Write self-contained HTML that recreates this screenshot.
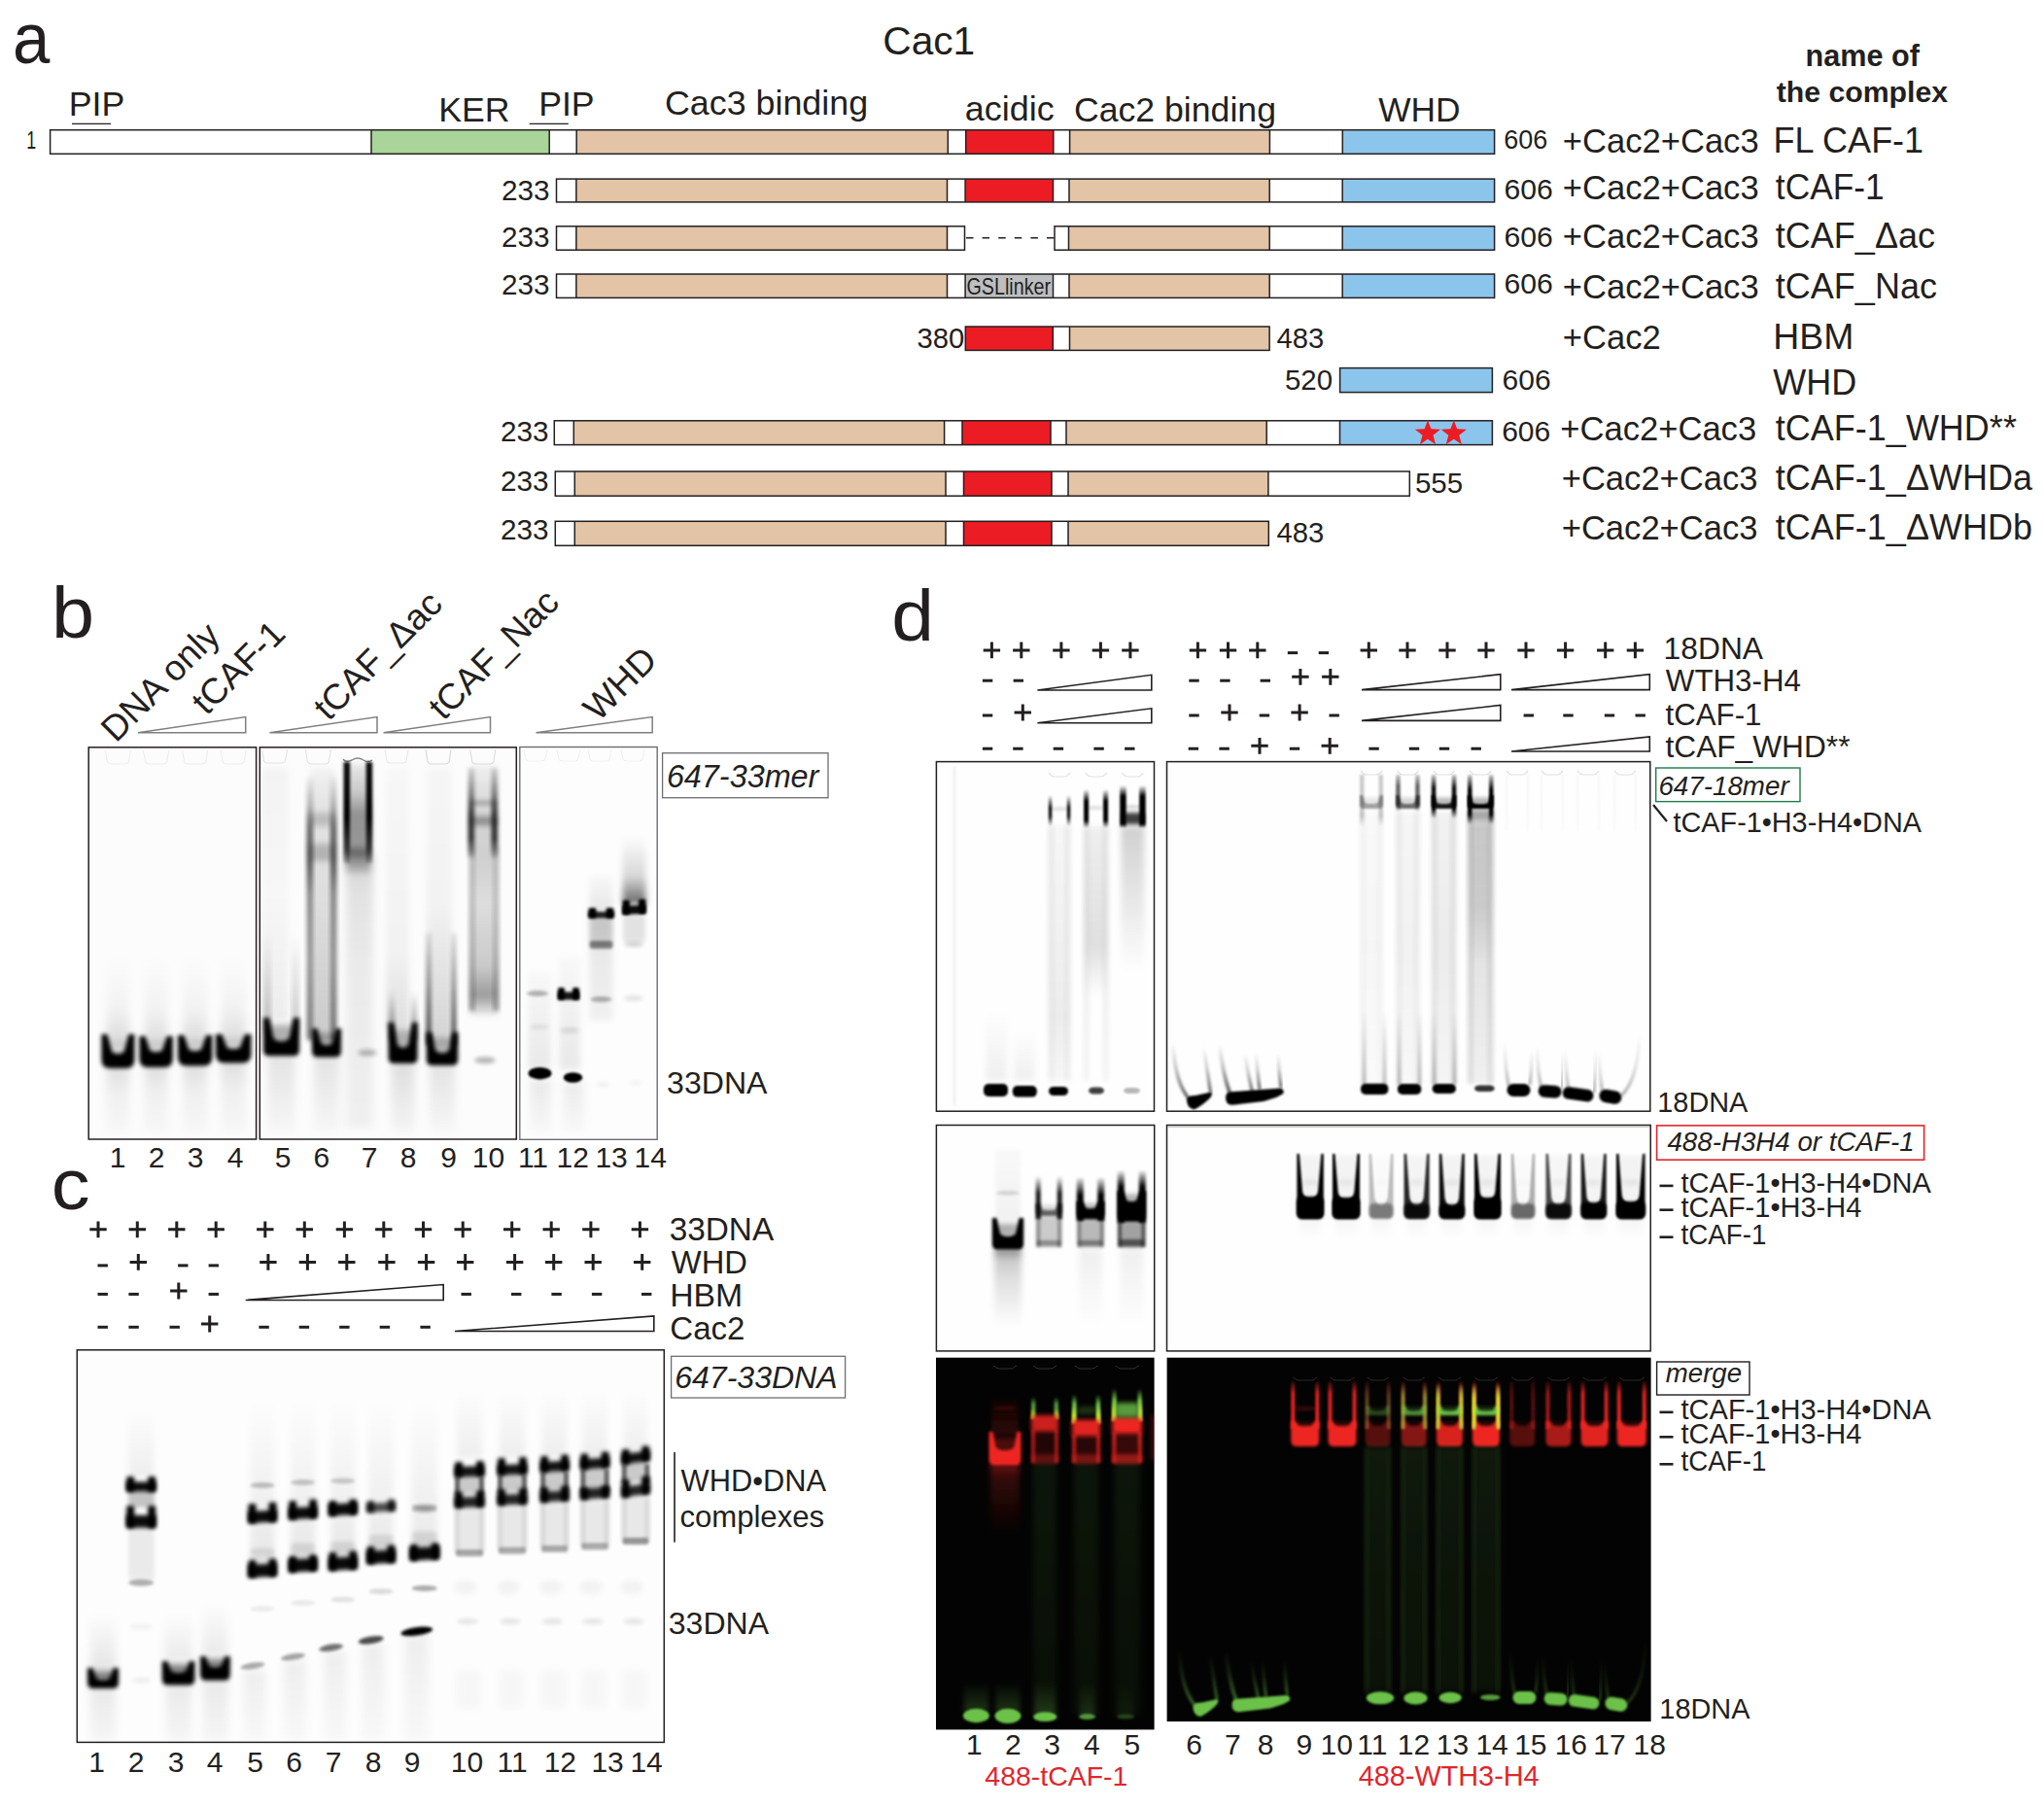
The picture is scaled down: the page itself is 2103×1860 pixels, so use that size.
<!DOCTYPE html>
<html><head><meta charset="utf-8"><style>
html,body{margin:0;padding:0;background:#fff;overflow:hidden;width:2103px;height:1860px;}
svg{display:block;}
text{font-family:"Liberation Sans",sans-serif;}
</style></head><body>
<svg width="2103" height="1860" viewBox="0 0 2103 1860" fill="#231f20">
<defs><filter id="f0_6" x="-60%" y="-60%" width="220%" height="220%"><feGaussianBlur stdDeviation="0.6"/></filter>
<filter id="f0_9" x="-60%" y="-60%" width="220%" height="220%"><feGaussianBlur stdDeviation="0.9"/></filter>
<filter id="f1_2" x="-60%" y="-60%" width="220%" height="220%"><feGaussianBlur stdDeviation="1.2"/></filter>
<filter id="f1_6" x="-60%" y="-60%" width="220%" height="220%"><feGaussianBlur stdDeviation="1.6"/></filter>
<filter id="f2" x="-60%" y="-60%" width="220%" height="220%"><feGaussianBlur stdDeviation="2"/></filter>
<filter id="f2_5" x="-60%" y="-60%" width="220%" height="220%"><feGaussianBlur stdDeviation="2.5"/></filter>
<filter id="f3" x="-60%" y="-60%" width="220%" height="220%"><feGaussianBlur stdDeviation="3"/></filter>
<filter id="f4" x="-60%" y="-60%" width="220%" height="220%"><feGaussianBlur stdDeviation="4"/></filter>
<filter id="f5" x="-60%" y="-60%" width="220%" height="220%"><feGaussianBlur stdDeviation="5"/></filter>
<filter id="f6" x="-60%" y="-60%" width="220%" height="220%"><feGaussianBlur stdDeviation="6"/></filter>
<filter id="f8" x="-60%" y="-60%" width="220%" height="220%"><feGaussianBlur stdDeviation="8"/></filter>
<clipPath id="c1"><rect x="91.2" y="768.8" width="172.40000000000003" height="403.20000000000005"/></clipPath>
<linearGradient id="g2" x1="0" y1="0" x2="0" y2="1"><stop offset="0" stop-color="#000" stop-opacity="0"/><stop offset="0.6" stop-color="#000" stop-opacity="0.04"/><stop offset="1" stop-color="#000" stop-opacity="0.13"/></linearGradient>
<linearGradient id="g3" x1="0" y1="0" x2="0" y2="1"><stop offset="0" stop-color="#000" stop-opacity="0.12"/><stop offset="0.4" stop-color="#000" stop-opacity="0.05"/><stop offset="1" stop-color="#000" stop-opacity="0.02"/></linearGradient>
<linearGradient id="g4" x1="0" y1="0" x2="0" y2="1"><stop offset="0" stop-color="#000" stop-opacity="0"/><stop offset="0.6" stop-color="#000" stop-opacity="0.04"/><stop offset="1" stop-color="#000" stop-opacity="0.13"/></linearGradient>
<linearGradient id="g5" x1="0" y1="0" x2="0" y2="1"><stop offset="0" stop-color="#000" stop-opacity="0.12"/><stop offset="0.4" stop-color="#000" stop-opacity="0.05"/><stop offset="1" stop-color="#000" stop-opacity="0.02"/></linearGradient>
<linearGradient id="g6" x1="0" y1="0" x2="0" y2="1"><stop offset="0" stop-color="#000" stop-opacity="0"/><stop offset="0.6" stop-color="#000" stop-opacity="0.04"/><stop offset="1" stop-color="#000" stop-opacity="0.13"/></linearGradient>
<linearGradient id="g7" x1="0" y1="0" x2="0" y2="1"><stop offset="0" stop-color="#000" stop-opacity="0.12"/><stop offset="0.4" stop-color="#000" stop-opacity="0.05"/><stop offset="1" stop-color="#000" stop-opacity="0.02"/></linearGradient>
<linearGradient id="g8" x1="0" y1="0" x2="0" y2="1"><stop offset="0" stop-color="#000" stop-opacity="0"/><stop offset="0.6" stop-color="#000" stop-opacity="0.04"/><stop offset="1" stop-color="#000" stop-opacity="0.13"/></linearGradient>
<linearGradient id="g9" x1="0" y1="0" x2="0" y2="1"><stop offset="0" stop-color="#000" stop-opacity="0.12"/><stop offset="0.4" stop-color="#000" stop-opacity="0.05"/><stop offset="1" stop-color="#000" stop-opacity="0.02"/></linearGradient>
<clipPath id="c10"><rect x="267.3" y="768.8" width="263.99999999999994" height="403.20000000000005"/></clipPath>
<linearGradient id="g11" x1="0" y1="0" x2="0" y2="1"><stop offset="0" stop-color="#000" stop-opacity="0.035"/><stop offset="0.5" stop-color="#000" stop-opacity="0.02"/><stop offset="1" stop-color="#000" stop-opacity="0.06"/></linearGradient>
<linearGradient id="g12" x1="0" y1="0" x2="0" y2="1"><stop offset="0" stop-color="#000" stop-opacity="0"/><stop offset="1" stop-color="#000" stop-opacity="0.35"/></linearGradient>
<linearGradient id="g13" x1="0" y1="0" x2="0" y2="1"><stop offset="0" stop-color="#000" stop-opacity="0.1"/><stop offset="1" stop-color="#000" stop-opacity="0.02"/></linearGradient>
<linearGradient id="g14" x1="0" y1="0" x2="0" y2="1"><stop offset="0" stop-color="#000" stop-opacity="0.04"/><stop offset="0.15" stop-color="#000" stop-opacity="0.1"/><stop offset="0.5" stop-color="#000" stop-opacity="0.12"/><stop offset="1" stop-color="#000" stop-opacity="0.2"/></linearGradient>
<linearGradient id="g15" x1="0" y1="0" x2="0" y2="1"><stop offset="0" stop-color="#000" stop-opacity="0.05"/><stop offset="0.12" stop-color="#000" stop-opacity="0.35"/><stop offset="0.2" stop-color="#000" stop-opacity="0.7"/><stop offset="0.33" stop-color="#000" stop-opacity="0.75"/><stop offset="0.45" stop-color="#000" stop-opacity="0.5"/><stop offset="0.7" stop-color="#000" stop-opacity="0.42"/><stop offset="1" stop-color="#000" stop-opacity="0.55"/></linearGradient>
<linearGradient id="g16" x1="0" y1="0" x2="0" y2="1"><stop offset="0" stop-color="#000" stop-opacity="0.1"/><stop offset="1" stop-color="#000" stop-opacity="0.02"/></linearGradient>
<linearGradient id="g17" x1="0" y1="0" x2="0" y2="1"><stop offset="0" stop-color="#000" stop-opacity="0.08"/><stop offset="0.25" stop-color="#000" stop-opacity="0.2"/><stop offset="0.45" stop-color="#000" stop-opacity="0.42"/><stop offset="0.75" stop-color="#000" stop-opacity="0.4"/><stop offset="0.9" stop-color="#000" stop-opacity="0.3"/><stop offset="1" stop-color="#000" stop-opacity="0.05"/></linearGradient>
<linearGradient id="g18" x1="0" y1="0" x2="0" y2="1"><stop offset="0" stop-color="#000" stop-opacity="0.95"/><stop offset="0.55" stop-color="#000" stop-opacity="1"/><stop offset="0.85" stop-color="#000" stop-opacity="0.7"/><stop offset="1" stop-color="#000" stop-opacity="0.2"/></linearGradient>
<linearGradient id="g19" x1="0" y1="0" x2="0" y2="1"><stop offset="0" stop-color="#000" stop-opacity="0.16"/><stop offset="0.15" stop-color="#000" stop-opacity="0.1"/><stop offset="0.4" stop-color="#000" stop-opacity="0.07"/><stop offset="1" stop-color="#000" stop-opacity="0.05"/></linearGradient>
<linearGradient id="g20" x1="0" y1="0" x2="0" y2="1"><stop offset="0" stop-color="#000" stop-opacity="0.02"/><stop offset="0.7" stop-color="#000" stop-opacity="0.04"/><stop offset="1" stop-color="#000" stop-opacity="0.12"/></linearGradient>
<linearGradient id="g21" x1="0" y1="0" x2="0" y2="1"><stop offset="0" stop-color="#000" stop-opacity="0"/><stop offset="1" stop-color="#000" stop-opacity="0.6"/></linearGradient>
<linearGradient id="g22" x1="0" y1="0" x2="0" y2="1"><stop offset="0" stop-color="#000" stop-opacity="0.12"/><stop offset="1" stop-color="#000" stop-opacity="0.03"/></linearGradient>
<linearGradient id="g23" x1="0" y1="0" x2="0" y2="1"><stop offset="0" stop-color="#000" stop-opacity="0.025"/><stop offset="0.5" stop-color="#000" stop-opacity="0.04"/><stop offset="1" stop-color="#000" stop-opacity="0.16"/></linearGradient>
<linearGradient id="g24" x1="0" y1="0" x2="0" y2="1"><stop offset="0" stop-color="#000" stop-opacity="0.1"/><stop offset="1" stop-color="#000" stop-opacity="0.75"/></linearGradient>
<linearGradient id="g25" x1="0" y1="0" x2="0" y2="1"><stop offset="0" stop-color="#000" stop-opacity="0.1"/><stop offset="1" stop-color="#000" stop-opacity="0.02"/></linearGradient>
<linearGradient id="g26" x1="0" y1="0" x2="0" y2="1"><stop offset="0" stop-color="#000" stop-opacity="0.05"/><stop offset="0.15" stop-color="#000" stop-opacity="0.14"/><stop offset="0.35" stop-color="#000" stop-opacity="0.18"/><stop offset="0.55" stop-color="#000" stop-opacity="0.12"/><stop offset="0.8" stop-color="#000" stop-opacity="0.2"/><stop offset="0.92" stop-color="#000" stop-opacity="0.38"/><stop offset="1" stop-color="#000" stop-opacity="0.05"/></linearGradient>
<linearGradient id="g27" x1="0" y1="0" x2="0" y2="1"><stop offset="0" stop-color="#000" stop-opacity="0.2"/><stop offset="0.6" stop-color="#000" stop-opacity="0.25"/><stop offset="1" stop-color="#000" stop-opacity="0.4"/></linearGradient>
<linearGradient id="g28" x1="0" y1="0" x2="0" y2="1"><stop offset="0" stop-color="#000" stop-opacity="0.15"/><stop offset="0.3" stop-color="#000" stop-opacity="0.5"/><stop offset="0.5" stop-color="#000" stop-opacity="0.8"/><stop offset="0.8" stop-color="#000" stop-opacity="0.85"/><stop offset="1" stop-color="#000" stop-opacity="0.2"/></linearGradient>
<clipPath id="c29"><rect x="534.8" y="768.5" width="141.4000000000001" height="403.79999999999995"/></clipPath>
<linearGradient id="g30" x1="0" y1="0" x2="0" y2="1"><stop offset="0" stop-color="#000" stop-opacity="0.02"/><stop offset="1" stop-color="#000" stop-opacity="0.08"/></linearGradient>
<linearGradient id="g31" x1="0" y1="0" x2="0" y2="1"><stop offset="0" stop-color="#000" stop-opacity="0.08"/><stop offset="1" stop-color="#000" stop-opacity="0.02"/></linearGradient>
<linearGradient id="g32" x1="0" y1="0" x2="0" y2="1"><stop offset="0" stop-color="#000" stop-opacity="0.02"/><stop offset="1" stop-color="#000" stop-opacity="0.08"/></linearGradient>
<linearGradient id="g33" x1="0" y1="0" x2="0" y2="1"><stop offset="0" stop-color="#000" stop-opacity="0.07"/><stop offset="1" stop-color="#000" stop-opacity="0.02"/></linearGradient>
<linearGradient id="g34" x1="0" y1="0" x2="0" y2="1"><stop offset="0" stop-color="#000" stop-opacity="0.02"/><stop offset="0.3" stop-color="#000" stop-opacity="0.1"/><stop offset="0.5" stop-color="#000" stop-opacity="0.08"/><stop offset="1" stop-color="#000" stop-opacity="0.05"/></linearGradient>
<linearGradient id="g35" x1="0" y1="0" x2="0" y2="1"><stop offset="0" stop-color="#000" stop-opacity="0"/><stop offset="0.6" stop-color="#000" stop-opacity="0.15"/><stop offset="1" stop-color="#000" stop-opacity="0.6"/></linearGradient>
<clipPath id="c36"><rect x="79.3" y="1388.8" width="604.0" height="403.60000000000014"/></clipPath>
<linearGradient id="g37" x1="0" y1="0" x2="0" y2="1"><stop offset="0" stop-color="#000" stop-opacity="0"/><stop offset="1" stop-color="#000" stop-opacity="0.1"/></linearGradient>
<linearGradient id="g38" x1="0" y1="0" x2="0" y2="1"><stop offset="0" stop-color="#000" stop-opacity="0.08"/><stop offset="1" stop-color="#000" stop-opacity="0.03"/></linearGradient>
<linearGradient id="g39" x1="0" y1="0" x2="0" y2="1"><stop offset="0" stop-color="#000" stop-opacity="0"/><stop offset="1" stop-color="#000" stop-opacity="0.06"/></linearGradient>
<linearGradient id="g40" x1="0" y1="0" x2="0" y2="1"><stop offset="0" stop-color="#000" stop-opacity="0"/><stop offset="1" stop-color="#000" stop-opacity="0.08"/></linearGradient>
<linearGradient id="g41" x1="0" y1="0" x2="0" y2="1"><stop offset="0" stop-color="#000" stop-opacity="0.08"/><stop offset="1" stop-color="#000" stop-opacity="0.03"/></linearGradient>
<linearGradient id="g42" x1="0" y1="0" x2="0" y2="1"><stop offset="0" stop-color="#000" stop-opacity="0"/><stop offset="1" stop-color="#000" stop-opacity="0.08"/></linearGradient>
<linearGradient id="g43" x1="0" y1="0" x2="0" y2="1"><stop offset="0" stop-color="#000" stop-opacity="0.08"/><stop offset="1" stop-color="#000" stop-opacity="0.03"/></linearGradient>
<linearGradient id="g44" x1="0" y1="0" x2="0" y2="1"><stop offset="0" stop-color="#000" stop-opacity="0"/><stop offset="0.5" stop-color="#000" stop-opacity="0.04"/><stop offset="1" stop-color="#000" stop-opacity="0.08"/></linearGradient>
<linearGradient id="g45" x1="0" y1="0" x2="0" y2="1"><stop offset="0" stop-color="#000" stop-opacity="0.06"/><stop offset="1" stop-color="#000" stop-opacity="0.02"/></linearGradient>
<linearGradient id="g46" x1="0" y1="0" x2="0" y2="1"><stop offset="0" stop-color="#000" stop-opacity="0"/><stop offset="0.5" stop-color="#000" stop-opacity="0.04"/><stop offset="1" stop-color="#000" stop-opacity="0.08"/></linearGradient>
<linearGradient id="g47" x1="0" y1="0" x2="0" y2="1"><stop offset="0" stop-color="#000" stop-opacity="0.06"/><stop offset="1" stop-color="#000" stop-opacity="0.02"/></linearGradient>
<linearGradient id="g48" x1="0" y1="0" x2="0" y2="1"><stop offset="0" stop-color="#000" stop-opacity="0"/><stop offset="0.5" stop-color="#000" stop-opacity="0.04"/><stop offset="1" stop-color="#000" stop-opacity="0.08"/></linearGradient>
<linearGradient id="g49" x1="0" y1="0" x2="0" y2="1"><stop offset="0" stop-color="#000" stop-opacity="0.06"/><stop offset="1" stop-color="#000" stop-opacity="0.02"/></linearGradient>
<linearGradient id="g50" x1="0" y1="0" x2="0" y2="1"><stop offset="0" stop-color="#000" stop-opacity="0"/><stop offset="0.5" stop-color="#000" stop-opacity="0.04"/><stop offset="1" stop-color="#000" stop-opacity="0.08"/></linearGradient>
<linearGradient id="g51" x1="0" y1="0" x2="0" y2="1"><stop offset="0" stop-color="#000" stop-opacity="0.06"/><stop offset="1" stop-color="#000" stop-opacity="0.02"/></linearGradient>
<linearGradient id="g52" x1="0" y1="0" x2="0" y2="1"><stop offset="0" stop-color="#000" stop-opacity="0"/><stop offset="0.5" stop-color="#000" stop-opacity="0.04"/><stop offset="1" stop-color="#000" stop-opacity="0.08"/></linearGradient>
<linearGradient id="g53" x1="0" y1="0" x2="0" y2="1"><stop offset="0" stop-color="#000" stop-opacity="0.06"/><stop offset="1" stop-color="#000" stop-opacity="0.02"/></linearGradient>
<linearGradient id="g54" x1="0" y1="0" x2="0" y2="1"><stop offset="0" stop-color="#000" stop-opacity="0"/><stop offset="1" stop-color="#000" stop-opacity="0.06"/></linearGradient>
<linearGradient id="g55" x1="0" y1="0" x2="0" y2="1"><stop offset="0" stop-color="#000" stop-opacity="0.5"/><stop offset="1" stop-color="#000" stop-opacity="0.55"/></linearGradient>
<linearGradient id="g56" x1="0" y1="0" x2="0" y2="1"><stop offset="0" stop-color="#000" stop-opacity="0.12"/><stop offset="1" stop-color="#000" stop-opacity="0.12"/></linearGradient>
<linearGradient id="g57" x1="0" y1="0" x2="0" y2="1"><stop offset="0" stop-color="#000" stop-opacity="0"/><stop offset="1" stop-color="#000" stop-opacity="0.06"/></linearGradient>
<linearGradient id="g58" x1="0" y1="0" x2="0" y2="1"><stop offset="0" stop-color="#000" stop-opacity="0.5"/><stop offset="1" stop-color="#000" stop-opacity="0.55"/></linearGradient>
<linearGradient id="g59" x1="0" y1="0" x2="0" y2="1"><stop offset="0" stop-color="#000" stop-opacity="0.12"/><stop offset="1" stop-color="#000" stop-opacity="0.12"/></linearGradient>
<linearGradient id="g60" x1="0" y1="0" x2="0" y2="1"><stop offset="0" stop-color="#000" stop-opacity="0"/><stop offset="1" stop-color="#000" stop-opacity="0.06"/></linearGradient>
<linearGradient id="g61" x1="0" y1="0" x2="0" y2="1"><stop offset="0" stop-color="#000" stop-opacity="0.5"/><stop offset="1" stop-color="#000" stop-opacity="0.55"/></linearGradient>
<linearGradient id="g62" x1="0" y1="0" x2="0" y2="1"><stop offset="0" stop-color="#000" stop-opacity="0.12"/><stop offset="1" stop-color="#000" stop-opacity="0.12"/></linearGradient>
<linearGradient id="g63" x1="0" y1="0" x2="0" y2="1"><stop offset="0" stop-color="#000" stop-opacity="0"/><stop offset="1" stop-color="#000" stop-opacity="0.06"/></linearGradient>
<linearGradient id="g64" x1="0" y1="0" x2="0" y2="1"><stop offset="0" stop-color="#000" stop-opacity="0.5"/><stop offset="1" stop-color="#000" stop-opacity="0.55"/></linearGradient>
<linearGradient id="g65" x1="0" y1="0" x2="0" y2="1"><stop offset="0" stop-color="#000" stop-opacity="0.12"/><stop offset="1" stop-color="#000" stop-opacity="0.12"/></linearGradient>
<linearGradient id="g66" x1="0" y1="0" x2="0" y2="1"><stop offset="0" stop-color="#000" stop-opacity="0"/><stop offset="1" stop-color="#000" stop-opacity="0.06"/></linearGradient>
<linearGradient id="g67" x1="0" y1="0" x2="0" y2="1"><stop offset="0" stop-color="#000" stop-opacity="0.5"/><stop offset="1" stop-color="#000" stop-opacity="0.55"/></linearGradient>
<linearGradient id="g68" x1="0" y1="0" x2="0" y2="1"><stop offset="0" stop-color="#000" stop-opacity="0.12"/><stop offset="1" stop-color="#000" stop-opacity="0.12"/></linearGradient>
<clipPath id="c69"><rect x="963.4" y="783.6" width="224.10000000000002" height="359.6"/></clipPath>
<linearGradient id="g70" x1="0" y1="0" x2="0" y2="1"><stop offset="0" stop-color="#000" stop-opacity="0"/><stop offset="0.4" stop-color="#000" stop-opacity="0.95"/><stop offset="0.7" stop-color="#000" stop-opacity="0.9"/><stop offset="1" stop-color="#000" stop-opacity="0"/></linearGradient>
<linearGradient id="g71" x1="0" y1="0" x2="0" y2="1"><stop offset="0" stop-color="#000" stop-opacity="0.07"/><stop offset="1" stop-color="#000" stop-opacity="0.05"/></linearGradient>
<linearGradient id="g72" x1="0" y1="0" x2="0" y2="1"><stop offset="0" stop-color="#000" stop-opacity="0.03"/><stop offset="0.6" stop-color="#000" stop-opacity="0.06"/><stop offset="0.75" stop-color="#000" stop-opacity="0.07"/><stop offset="1" stop-color="#000" stop-opacity="0.03"/></linearGradient>
<linearGradient id="g73" x1="0" y1="0" x2="0" y2="1"><stop offset="0" stop-color="#000" stop-opacity="0"/><stop offset="0.3" stop-color="#000" stop-opacity="1"/><stop offset="0.8" stop-color="#000" stop-opacity="1"/><stop offset="1" stop-color="#000" stop-opacity="0"/></linearGradient>
<linearGradient id="g74" x1="0" y1="0" x2="0" y2="1"><stop offset="0" stop-color="#000" stop-opacity="0.09"/><stop offset="1" stop-color="#000" stop-opacity="0.05"/></linearGradient>
<linearGradient id="g75" x1="0" y1="0" x2="0" y2="1"><stop offset="0" stop-color="#000" stop-opacity="0.06"/><stop offset="0.7" stop-color="#000" stop-opacity="0.12"/><stop offset="1" stop-color="#000" stop-opacity="0.0"/></linearGradient>
<linearGradient id="g76" x1="0" y1="0" x2="0" y2="1"><stop offset="0" stop-color="#000" stop-opacity="0"/><stop offset="0.25" stop-color="#000" stop-opacity="1"/><stop offset="0.9" stop-color="#000" stop-opacity="1"/><stop offset="1" stop-color="#000" stop-opacity="0"/></linearGradient>
<linearGradient id="g77" x1="0" y1="0" x2="0" y2="1"><stop offset="0" stop-color="#000" stop-opacity="0.18"/><stop offset="0.5" stop-color="#000" stop-opacity="0.09"/><stop offset="1" stop-color="#000" stop-opacity="0"/></linearGradient>
<linearGradient id="g78" x1="0" y1="0" x2="0" y2="1"><stop offset="0" stop-color="#000" stop-opacity="0"/><stop offset="1" stop-color="#000" stop-opacity="0.06"/></linearGradient>
<linearGradient id="g79" x1="0" y1="0" x2="0" y2="1"><stop offset="0" stop-color="#000" stop-opacity="0"/><stop offset="1" stop-color="#000" stop-opacity="0.06"/></linearGradient>
<clipPath id="c80"><rect x="1200.5" y="783.6" width="497.29999999999995" height="359.6"/></clipPath>
<linearGradient id="g81" x1="0" y1="0" x2="0" y2="1"><stop offset="0" stop-color="#000" stop-opacity="0.05"/><stop offset="1" stop-color="#000" stop-opacity="0.03"/></linearGradient>
<linearGradient id="g82" x1="0" y1="0" x2="0" y2="1"><stop offset="0" stop-color="#000" stop-opacity="0.05"/><stop offset="1" stop-color="#000" stop-opacity="0.03"/></linearGradient>
<linearGradient id="g83" x1="0" y1="0" x2="0" y2="1"><stop offset="0" stop-color="#000" stop-opacity="0.05"/><stop offset="1" stop-color="#000" stop-opacity="0.03"/></linearGradient>
<linearGradient id="g84" x1="0" y1="0" x2="0" y2="1"><stop offset="0" stop-color="#000" stop-opacity="0.05"/><stop offset="1" stop-color="#000" stop-opacity="0.03"/></linearGradient>
<linearGradient id="g85" x1="0" y1="0" x2="0" y2="1"><stop offset="0" stop-color="#000" stop-opacity="0.2"/><stop offset="0.3" stop-color="#000" stop-opacity="0.2"/><stop offset="0.8" stop-color="#000" stop-opacity="0.2"/><stop offset="1" stop-color="#000" stop-opacity="0"/></linearGradient>
<linearGradient id="g86" x1="0" y1="0" x2="0" y2="1"><stop offset="0" stop-color="#000" stop-opacity="0.045000000000000005"/><stop offset="1" stop-color="#000" stop-opacity="0.03"/></linearGradient>
<linearGradient id="g87" x1="0" y1="0" x2="0" y2="1"><stop offset="0" stop-color="#000" stop-opacity="0.020000000000000004"/><stop offset="0.5" stop-color="#000" stop-opacity="0.03"/><stop offset="1" stop-color="#000" stop-opacity="0.015"/></linearGradient>
<linearGradient id="g88" x1="0" y1="0" x2="0" y2="1"><stop offset="0" stop-color="#000" stop-opacity="0.2"/><stop offset="0.3" stop-color="#000" stop-opacity="0.6"/><stop offset="0.8" stop-color="#000" stop-opacity="0.6"/><stop offset="1" stop-color="#000" stop-opacity="0"/></linearGradient>
<linearGradient id="g89" x1="0" y1="0" x2="0" y2="1"><stop offset="0" stop-color="#000" stop-opacity="0.07200000000000001"/><stop offset="1" stop-color="#000" stop-opacity="0.048"/></linearGradient>
<linearGradient id="g90" x1="0" y1="0" x2="0" y2="1"><stop offset="0" stop-color="#000" stop-opacity="0.032"/><stop offset="0.5" stop-color="#000" stop-opacity="0.048"/><stop offset="1" stop-color="#000" stop-opacity="0.024"/></linearGradient>
<linearGradient id="g91" x1="0" y1="0" x2="0" y2="1"><stop offset="0" stop-color="#000" stop-opacity="0.2"/><stop offset="0.3" stop-color="#000" stop-opacity="0.95"/><stop offset="0.8" stop-color="#000" stop-opacity="0.95"/><stop offset="1" stop-color="#000" stop-opacity="0"/></linearGradient>
<linearGradient id="g92" x1="0" y1="0" x2="0" y2="1"><stop offset="0" stop-color="#000" stop-opacity="0.108"/><stop offset="1" stop-color="#000" stop-opacity="0.072"/></linearGradient>
<linearGradient id="g93" x1="0" y1="0" x2="0" y2="1"><stop offset="0" stop-color="#000" stop-opacity="0.048"/><stop offset="0.5" stop-color="#000" stop-opacity="0.072"/><stop offset="1" stop-color="#000" stop-opacity="0.036"/></linearGradient>
<linearGradient id="g94" x1="0" y1="0" x2="0" y2="1"><stop offset="0" stop-color="#000" stop-opacity="0.2"/><stop offset="0.3" stop-color="#000" stop-opacity="1"/><stop offset="0.8" stop-color="#000" stop-opacity="1"/><stop offset="1" stop-color="#000" stop-opacity="0"/></linearGradient>
<linearGradient id="g95" x1="0" y1="0" x2="0" y2="1"><stop offset="0" stop-color="#000" stop-opacity="0.162"/><stop offset="1" stop-color="#000" stop-opacity="0.108"/></linearGradient>
<linearGradient id="g96" x1="0" y1="0" x2="0" y2="1"><stop offset="0" stop-color="#000" stop-opacity="0.072"/><stop offset="0.5" stop-color="#000" stop-opacity="0.108"/><stop offset="1" stop-color="#000" stop-opacity="0.054"/></linearGradient>
<linearGradient id="g97" x1="0" y1="0" x2="0" y2="1"><stop offset="0" stop-color="#000" stop-opacity="0.15"/><stop offset="0.6" stop-color="#000" stop-opacity="0.12"/><stop offset="1" stop-color="#000" stop-opacity="0"/></linearGradient>
<linearGradient id="g98" x1="0" y1="0" x2="0" y2="1"><stop offset="0" stop-color="#000" stop-opacity="0"/><stop offset="0.45" stop-color="#000" stop-opacity="0.2475"/><stop offset="1" stop-color="#000" stop-opacity="0.75"/></linearGradient>
<linearGradient id="g99" x1="0" y1="0" x2="0" y2="1"><stop offset="0" stop-color="#000" stop-opacity="0"/><stop offset="0.5" stop-color="#000" stop-opacity="0.13999999999999999"/><stop offset="1" stop-color="#000" stop-opacity="0.4"/></linearGradient>
<linearGradient id="g100" x1="0" y1="0" x2="0" y2="1"><stop offset="0" stop-color="#000" stop-opacity="0"/><stop offset="1" stop-color="#000" stop-opacity="0.25"/></linearGradient>
<linearGradient id="g101" x1="0" y1="0" x2="0" y2="1"><stop offset="0" stop-color="#000" stop-opacity="0"/><stop offset="1" stop-color="#000" stop-opacity="0.25"/></linearGradient>
<linearGradient id="g102" x1="0" y1="0" x2="0" y2="1"><stop offset="0" stop-color="#000" stop-opacity="0"/><stop offset="1" stop-color="#000" stop-opacity="0.25"/></linearGradient>
<clipPath id="c103"><rect x="963.4" y="1157.5" width="224.30000000000007" height="232.4000000000001"/></clipPath>
<linearGradient id="g104" x1="0" y1="0" x2="0" y2="1"><stop offset="0" stop-color="#000" stop-opacity="0.02"/><stop offset="1" stop-color="#000" stop-opacity="0.05"/></linearGradient>
<linearGradient id="g105" x1="0" y1="0" x2="0" y2="1"><stop offset="0" stop-color="#000" stop-opacity="0.5"/><stop offset="0.15" stop-color="#000" stop-opacity="0.2"/><stop offset="0.4" stop-color="#000" stop-opacity="0.12"/><stop offset="1" stop-color="#000" stop-opacity="0"/></linearGradient>
<linearGradient id="g106" x1="0" y1="0" x2="0" y2="1"><stop offset="0" stop-color="#000" stop-opacity="0"/><stop offset="0.4" stop-color="#000" stop-opacity="0.9"/><stop offset="1" stop-color="#000" stop-opacity="0.9"/></linearGradient>
<linearGradient id="g107" x1="0" y1="0" x2="0" y2="1"><stop offset="0" stop-color="#000" stop-opacity="0.3"/><stop offset="1" stop-color="#000" stop-opacity="0.35"/></linearGradient>
<linearGradient id="g108" x1="0" y1="0" x2="0" y2="1"><stop offset="0" stop-color="#000" stop-opacity="0.1"/><stop offset="0.4" stop-color="#000" stop-opacity="1"/><stop offset="1" stop-color="#000" stop-opacity="1"/></linearGradient>
<linearGradient id="g109" x1="0" y1="0" x2="0" y2="1"><stop offset="0" stop-color="#000" stop-opacity="0.35"/><stop offset="1" stop-color="#000" stop-opacity="0.35"/></linearGradient>
<linearGradient id="g110" x1="0" y1="0" x2="0" y2="1"><stop offset="0" stop-color="#000" stop-opacity="0.06"/><stop offset="1" stop-color="#000" stop-opacity="0"/></linearGradient>
<linearGradient id="g111" x1="0" y1="0" x2="0" y2="1"><stop offset="0" stop-color="#000" stop-opacity="0.1"/><stop offset="0.3" stop-color="#000" stop-opacity="1"/><stop offset="1" stop-color="#000" stop-opacity="1"/></linearGradient>
<linearGradient id="g112" x1="0" y1="0" x2="0" y2="1"><stop offset="0" stop-color="#000" stop-opacity="0.55"/><stop offset="1" stop-color="#000" stop-opacity="0.55"/></linearGradient>
<linearGradient id="g113" x1="0" y1="0" x2="0" y2="1"><stop offset="0" stop-color="#000" stop-opacity="0.06"/><stop offset="1" stop-color="#000" stop-opacity="0"/></linearGradient>
<clipPath id="c114"><rect x="1200.5" y="1157.5" width="497.70000000000005" height="232.4000000000001"/></clipPath>
<linearGradient id="g115" x1="0" y1="0" x2="0" y2="1"><stop offset="0" stop-color="#000" stop-opacity="0.04"/><stop offset="1" stop-color="#000" stop-opacity="0"/></linearGradient>
<linearGradient id="g116" x1="0" y1="0" x2="0" y2="1"><stop offset="0" stop-color="#000" stop-opacity="0.04"/><stop offset="1" stop-color="#000" stop-opacity="0"/></linearGradient>
<linearGradient id="g117" x1="0" y1="0" x2="0" y2="1"><stop offset="0" stop-color="#000" stop-opacity="0.04"/><stop offset="1" stop-color="#000" stop-opacity="0"/></linearGradient>
<linearGradient id="g118" x1="0" y1="0" x2="0" y2="1"><stop offset="0" stop-color="#000" stop-opacity="0.04"/><stop offset="1" stop-color="#000" stop-opacity="0"/></linearGradient>
<linearGradient id="g119" x1="0" y1="0" x2="0" y2="1"><stop offset="0" stop-color="#000" stop-opacity="0.04"/><stop offset="1" stop-color="#000" stop-opacity="0"/></linearGradient>
<linearGradient id="g120" x1="0" y1="0" x2="0" y2="1"><stop offset="0" stop-color="#000" stop-opacity="0.04"/><stop offset="1" stop-color="#000" stop-opacity="0"/></linearGradient>
<linearGradient id="g121" x1="0" y1="0" x2="0" y2="1"><stop offset="0" stop-color="#000" stop-opacity="0.04"/><stop offset="1" stop-color="#000" stop-opacity="0"/></linearGradient>
<linearGradient id="g122" x1="0" y1="0" x2="0" y2="1"><stop offset="0" stop-color="#000" stop-opacity="0.04"/><stop offset="1" stop-color="#000" stop-opacity="0"/></linearGradient>
<linearGradient id="g123" x1="0" y1="0" x2="0" y2="1"><stop offset="0" stop-color="#000" stop-opacity="0.04"/><stop offset="1" stop-color="#000" stop-opacity="0"/></linearGradient>
<linearGradient id="g124" x1="0" y1="0" x2="0" y2="1"><stop offset="0" stop-color="#000" stop-opacity="0.04"/><stop offset="1" stop-color="#000" stop-opacity="0"/></linearGradient>
<clipPath id="c125"><rect x="963" y="1396.7" width="224.5999999999999" height="382.70000000000005"/></clipPath>
<linearGradient id="g126" x1="0" y1="0" x2="0" y2="1"><stop offset="0" stop-color="#ee2524" stop-opacity="0.05"/><stop offset="1" stop-color="#ee2524" stop-opacity="0.18"/></linearGradient>
<linearGradient id="g127" x1="0" y1="0" x2="0" y2="1"><stop offset="0" stop-color="#ee2524" stop-opacity="0.45"/><stop offset="0.2" stop-color="#ee2524" stop-opacity="0.2"/><stop offset="0.6" stop-color="#ee2524" stop-opacity="0.1"/><stop offset="1" stop-color="#ee2524" stop-opacity="0"/></linearGradient>
<linearGradient id="g128" x1="0" y1="0" x2="0" y2="1"><stop offset="0" stop-color="#6cc24a" stop-opacity="0"/><stop offset="0.35" stop-color="#6cc24a" stop-opacity="0.75"/><stop offset="1" stop-color="#6cc24a" stop-opacity="0.75"/></linearGradient>
<linearGradient id="g129" x1="0" y1="0" x2="0" y2="1"><stop offset="0" stop-color="#f4ea1c" stop-opacity="0"/><stop offset="0.5" stop-color="#f4ea1c" stop-opacity="0.6000000000000001"/><stop offset="1" stop-color="#f4ea1c" stop-opacity="0.75"/></linearGradient>
<linearGradient id="g130" x1="0" y1="0" x2="0" y2="1"><stop offset="0" stop-color="#ee2524" stop-opacity="0.68"/><stop offset="1" stop-color="#ee2524" stop-opacity="0.595"/></linearGradient>
<linearGradient id="g131" x1="0" y1="0" x2="0" y2="1"><stop offset="0" stop-color="#6cc24a" stop-opacity="0.1"/><stop offset="0.5" stop-color="#6cc24a" stop-opacity="0.08"/><stop offset="1" stop-color="#6cc24a" stop-opacity="0.06"/></linearGradient>
<linearGradient id="g132" x1="0" y1="0" x2="0" y2="1"><stop offset="0" stop-color="#6cc24a" stop-opacity="0"/><stop offset="0.35" stop-color="#6cc24a" stop-opacity="1"/><stop offset="1" stop-color="#6cc24a" stop-opacity="1"/></linearGradient>
<linearGradient id="g133" x1="0" y1="0" x2="0" y2="1"><stop offset="0" stop-color="#f4ea1c" stop-opacity="0"/><stop offset="0.5" stop-color="#f4ea1c" stop-opacity="0.8"/><stop offset="1" stop-color="#f4ea1c" stop-opacity="1"/></linearGradient>
<linearGradient id="g134" x1="0" y1="0" x2="0" y2="1"><stop offset="0" stop-color="#ee2524" stop-opacity="0.76"/><stop offset="1" stop-color="#ee2524" stop-opacity="0.6649999999999999"/></linearGradient>
<linearGradient id="g135" x1="0" y1="0" x2="0" y2="1"><stop offset="0" stop-color="#6cc24a" stop-opacity="0.1"/><stop offset="0.5" stop-color="#6cc24a" stop-opacity="0.08"/><stop offset="1" stop-color="#6cc24a" stop-opacity="0.06"/></linearGradient>
<linearGradient id="g136" x1="0" y1="0" x2="0" y2="1"><stop offset="0" stop-color="#6cc24a" stop-opacity="0"/><stop offset="0.35" stop-color="#6cc24a" stop-opacity="1"/><stop offset="1" stop-color="#6cc24a" stop-opacity="1"/></linearGradient>
<linearGradient id="g137" x1="0" y1="0" x2="0" y2="1"><stop offset="0" stop-color="#f4ea1c" stop-opacity="0"/><stop offset="0.5" stop-color="#f4ea1c" stop-opacity="0.8"/><stop offset="1" stop-color="#f4ea1c" stop-opacity="1"/></linearGradient>
<linearGradient id="g138" x1="0" y1="0" x2="0" y2="1"><stop offset="0" stop-color="#ee2524" stop-opacity="0.8"/><stop offset="1" stop-color="#ee2524" stop-opacity="0.7"/></linearGradient>
<linearGradient id="g139" x1="0" y1="0" x2="0" y2="1"><stop offset="0" stop-color="#6cc24a" stop-opacity="0.1"/><stop offset="0.5" stop-color="#6cc24a" stop-opacity="0.08"/><stop offset="1" stop-color="#6cc24a" stop-opacity="0.06"/></linearGradient>
<linearGradient id="g140" x1="0" y1="0" x2="0" y2="1"><stop offset="0" stop-color="#6cc24a" stop-opacity="0"/><stop offset="1" stop-color="#6cc24a" stop-opacity="0.25"/></linearGradient>
<linearGradient id="g141" x1="0" y1="0" x2="0" y2="1"><stop offset="0" stop-color="#6cc24a" stop-opacity="0"/><stop offset="1" stop-color="#6cc24a" stop-opacity="0.25"/></linearGradient>
<linearGradient id="g142" x1="0" y1="0" x2="0" y2="1"><stop offset="0" stop-color="#6cc24a" stop-opacity="0"/><stop offset="1" stop-color="#6cc24a" stop-opacity="0.25"/></linearGradient>
<linearGradient id="g143" x1="0" y1="0" x2="0" y2="1"><stop offset="0" stop-color="#6cc24a" stop-opacity="0"/><stop offset="1" stop-color="#6cc24a" stop-opacity="0.1875"/></linearGradient>
<linearGradient id="g144" x1="0" y1="0" x2="0" y2="1"><stop offset="0" stop-color="#6cc24a" stop-opacity="0"/><stop offset="1" stop-color="#6cc24a" stop-opacity="0.075"/></linearGradient>
<clipPath id="c145"><rect x="1200.6" y="1396.7" width="498.0" height="374.29999999999995"/></clipPath>
<linearGradient id="g146" x1="0" y1="0" x2="0" y2="1"><stop offset="0" stop-color="#ee2524" stop-opacity="0.1"/><stop offset="0.25" stop-color="#ee2524" stop-opacity="0.9"/><stop offset="1" stop-color="#ee2524" stop-opacity="1.0"/></linearGradient>
<linearGradient id="g147" x1="0" y1="0" x2="0" y2="1"><stop offset="0" stop-color="#ee2524" stop-opacity="0.1"/><stop offset="0.25" stop-color="#ee2524" stop-opacity="0.9"/><stop offset="1" stop-color="#ee2524" stop-opacity="1.0"/></linearGradient>
<linearGradient id="g148" x1="0" y1="0" x2="0" y2="1"><stop offset="0" stop-color="#ee2524" stop-opacity="0.1"/><stop offset="0.25" stop-color="#ee2524" stop-opacity="0.315"/><stop offset="1" stop-color="#ee2524" stop-opacity="0.35"/></linearGradient>
<linearGradient id="g149" x1="0" y1="0" x2="0" y2="1"><stop offset="0" stop-color="#6cc24a" stop-opacity="0"/><stop offset="0.3" stop-color="#6cc24a" stop-opacity="0.27999999999999997"/><stop offset="1" stop-color="#6cc24a" stop-opacity="0.27999999999999997"/></linearGradient>
<linearGradient id="g150" x1="0" y1="0" x2="0" y2="1"><stop offset="0" stop-color="#6cc24a" stop-opacity="0.12"/><stop offset="0.5" stop-color="#6cc24a" stop-opacity="0.09"/><stop offset="1" stop-color="#6cc24a" stop-opacity="0.08"/></linearGradient>
<linearGradient id="g151" x1="0" y1="0" x2="0" y2="1"><stop offset="0" stop-color="#6cc24a" stop-opacity="0.14"/><stop offset="1" stop-color="#6cc24a" stop-opacity="0.18"/></linearGradient>
<linearGradient id="g152" x1="0" y1="0" x2="0" y2="1"><stop offset="0" stop-color="#ee2524" stop-opacity="0.1"/><stop offset="0.25" stop-color="#ee2524" stop-opacity="0.49500000000000005"/><stop offset="1" stop-color="#ee2524" stop-opacity="0.55"/></linearGradient>
<linearGradient id="g153" x1="0" y1="0" x2="0" y2="1"><stop offset="0" stop-color="#6cc24a" stop-opacity="0"/><stop offset="0.3" stop-color="#6cc24a" stop-opacity="0.6000000000000001"/><stop offset="1" stop-color="#6cc24a" stop-opacity="0.6000000000000001"/></linearGradient>
<linearGradient id="g154" x1="0" y1="0" x2="0" y2="1"><stop offset="0" stop-color="#f4ea1c" stop-opacity="0"/><stop offset="0.3" stop-color="#f4ea1c" stop-opacity="0.2"/><stop offset="0.9" stop-color="#f4ea1c" stop-opacity="0.2"/><stop offset="1" stop-color="#f4ea1c" stop-opacity="0"/></linearGradient>
<linearGradient id="g155" x1="0" y1="0" x2="0" y2="1"><stop offset="0" stop-color="#6cc24a" stop-opacity="0.12"/><stop offset="0.5" stop-color="#6cc24a" stop-opacity="0.09"/><stop offset="1" stop-color="#6cc24a" stop-opacity="0.08"/></linearGradient>
<linearGradient id="g156" x1="0" y1="0" x2="0" y2="1"><stop offset="0" stop-color="#6cc24a" stop-opacity="0.14"/><stop offset="1" stop-color="#6cc24a" stop-opacity="0.18"/></linearGradient>
<linearGradient id="g157" x1="0" y1="0" x2="0" y2="1"><stop offset="0" stop-color="#ee2524" stop-opacity="0.1"/><stop offset="0.25" stop-color="#ee2524" stop-opacity="0.81"/><stop offset="1" stop-color="#ee2524" stop-opacity="0.9"/></linearGradient>
<linearGradient id="g158" x1="0" y1="0" x2="0" y2="1"><stop offset="0" stop-color="#6cc24a" stop-opacity="0"/><stop offset="0.3" stop-color="#6cc24a" stop-opacity="0.8"/><stop offset="1" stop-color="#6cc24a" stop-opacity="0.8"/></linearGradient>
<linearGradient id="g159" x1="0" y1="0" x2="0" y2="1"><stop offset="0" stop-color="#f4ea1c" stop-opacity="0"/><stop offset="0.3" stop-color="#f4ea1c" stop-opacity="0.6"/><stop offset="0.9" stop-color="#f4ea1c" stop-opacity="0.6"/><stop offset="1" stop-color="#f4ea1c" stop-opacity="0"/></linearGradient>
<linearGradient id="g160" x1="0" y1="0" x2="0" y2="1"><stop offset="0" stop-color="#6cc24a" stop-opacity="0.12"/><stop offset="0.5" stop-color="#6cc24a" stop-opacity="0.09"/><stop offset="1" stop-color="#6cc24a" stop-opacity="0.08"/></linearGradient>
<linearGradient id="g161" x1="0" y1="0" x2="0" y2="1"><stop offset="0" stop-color="#6cc24a" stop-opacity="0.14"/><stop offset="1" stop-color="#6cc24a" stop-opacity="0.18"/></linearGradient>
<linearGradient id="g162" x1="0" y1="0" x2="0" y2="1"><stop offset="0" stop-color="#ee2524" stop-opacity="0.1"/><stop offset="0.25" stop-color="#ee2524" stop-opacity="0.9"/><stop offset="1" stop-color="#ee2524" stop-opacity="1.0"/></linearGradient>
<linearGradient id="g163" x1="0" y1="0" x2="0" y2="1"><stop offset="0" stop-color="#6cc24a" stop-opacity="0"/><stop offset="0.3" stop-color="#6cc24a" stop-opacity="0.8"/><stop offset="1" stop-color="#6cc24a" stop-opacity="0.8"/></linearGradient>
<linearGradient id="g164" x1="0" y1="0" x2="0" y2="1"><stop offset="0" stop-color="#f4ea1c" stop-opacity="0"/><stop offset="0.3" stop-color="#f4ea1c" stop-opacity="0.9"/><stop offset="0.9" stop-color="#f4ea1c" stop-opacity="0.9"/><stop offset="1" stop-color="#f4ea1c" stop-opacity="0"/></linearGradient>
<linearGradient id="g165" x1="0" y1="0" x2="0" y2="1"><stop offset="0" stop-color="#6cc24a" stop-opacity="0.12"/><stop offset="0.5" stop-color="#6cc24a" stop-opacity="0.09"/><stop offset="1" stop-color="#6cc24a" stop-opacity="0.08"/></linearGradient>
<linearGradient id="g166" x1="0" y1="0" x2="0" y2="1"><stop offset="0" stop-color="#6cc24a" stop-opacity="0.14"/><stop offset="1" stop-color="#6cc24a" stop-opacity="0.18"/></linearGradient>
<linearGradient id="g167" x1="0" y1="0" x2="0" y2="1"><stop offset="0" stop-color="#ee2524" stop-opacity="0.1"/><stop offset="0.25" stop-color="#ee2524" stop-opacity="0.315"/><stop offset="1" stop-color="#ee2524" stop-opacity="0.35"/></linearGradient>
<linearGradient id="g168" x1="0" y1="0" x2="0" y2="1"><stop offset="0" stop-color="#ee2524" stop-opacity="0.1"/><stop offset="0.25" stop-color="#ee2524" stop-opacity="0.63"/><stop offset="1" stop-color="#ee2524" stop-opacity="0.7"/></linearGradient>
<linearGradient id="g169" x1="0" y1="0" x2="0" y2="1"><stop offset="0" stop-color="#ee2524" stop-opacity="0.1"/><stop offset="0.25" stop-color="#ee2524" stop-opacity="0.855"/><stop offset="1" stop-color="#ee2524" stop-opacity="0.95"/></linearGradient>
<linearGradient id="g170" x1="0" y1="0" x2="0" y2="1"><stop offset="0" stop-color="#ee2524" stop-opacity="0.1"/><stop offset="0.25" stop-color="#ee2524" stop-opacity="0.9"/><stop offset="1" stop-color="#ee2524" stop-opacity="1.0"/></linearGradient>
<linearGradient id="g171" x1="0" y1="0" x2="0" y2="1"><stop offset="0" stop-color="#6cc24a" stop-opacity="0"/><stop offset="0.45" stop-color="#6cc24a" stop-opacity="0.198"/><stop offset="1" stop-color="#6cc24a" stop-opacity="0.6"/></linearGradient>
<linearGradient id="g172" x1="0" y1="0" x2="0" y2="1"><stop offset="0" stop-color="#6cc24a" stop-opacity="0"/><stop offset="0.5" stop-color="#6cc24a" stop-opacity="0.12249999999999998"/><stop offset="1" stop-color="#6cc24a" stop-opacity="0.35"/></linearGradient></defs>
<rect width="2103" height="1860" fill="#fff"/>
<line x1="74" y1="127.4" x2="114" y2="127.4" stroke="#231f20" stroke-width="1.1" />
<line x1="544.7" y1="127.4" x2="584.8" y2="127.4" stroke="#231f20" stroke-width="1.1" />
<rect x="51.6" y="133.7" width="330.4" height="24.6" fill="#fff"/>
<rect x="382.0" y="133.7" width="183.2" height="24.6" fill="#a9d59a"/>
<rect x="565.2" y="133.7" width="28.0" height="24.6" fill="#fff"/>
<rect x="593.2" y="133.7" width="382.1" height="24.6" fill="#e3c4a7"/>
<rect x="975.3" y="133.7" width="18.4" height="24.6" fill="#fff"/>
<rect x="993.7" y="133.7" width="90.1" height="24.6" fill="#ec1c24"/>
<rect x="1083.8" y="133.7" width="16.8" height="24.6" fill="#fff"/>
<rect x="1100.6" y="133.7" width="205.8" height="24.6" fill="#e3c4a7"/>
<rect x="1306.4" y="133.7" width="74.9" height="24.6" fill="#fff"/>
<rect x="1381.3" y="133.7" width="156.3" height="24.6" fill="#8cc5ec"/>
<line x1="382" y1="133.7" x2="382" y2="158.3" stroke="#231f20" stroke-width="1.5" />
<line x1="565.2" y1="133.7" x2="565.2" y2="158.3" stroke="#231f20" stroke-width="1.5" />
<line x1="593.2" y1="133.7" x2="593.2" y2="158.3" stroke="#231f20" stroke-width="1.5" />
<line x1="975.3" y1="133.7" x2="975.3" y2="158.3" stroke="#231f20" stroke-width="1.5" />
<line x1="993.7" y1="133.7" x2="993.7" y2="158.3" stroke="#231f20" stroke-width="1.5" />
<line x1="1083.8" y1="133.7" x2="1083.8" y2="158.3" stroke="#231f20" stroke-width="1.5" />
<line x1="1100.6" y1="133.7" x2="1100.6" y2="158.3" stroke="#231f20" stroke-width="1.5" />
<line x1="1306.4" y1="133.7" x2="1306.4" y2="158.3" stroke="#231f20" stroke-width="1.5" />
<line x1="1381.3" y1="133.7" x2="1381.3" y2="158.3" stroke="#231f20" stroke-width="1.5" />
<rect x="51.6" y="133.7" width="1486.0" height="24.6" fill="none" stroke="#231f20" stroke-width="1.5"/>
<rect x="572.5" y="184.1" width="20.4" height="23.8" fill="#fff"/>
<rect x="592.9" y="184.1" width="381.6" height="23.8" fill="#e3c4a7"/>
<rect x="974.5" y="184.1" width="18.6" height="23.8" fill="#fff"/>
<rect x="993.1" y="184.1" width="90.4" height="23.8" fill="#ec1c24"/>
<rect x="1083.5" y="184.1" width="16.5" height="23.8" fill="#fff"/>
<rect x="1100.0" y="184.1" width="206.2" height="23.8" fill="#e3c4a7"/>
<rect x="1306.2" y="184.1" width="75.0" height="23.8" fill="#fff"/>
<rect x="1381.2" y="184.1" width="156.4" height="23.8" fill="#8cc5ec"/>
<line x1="592.9" y1="184.1" x2="592.9" y2="207.9" stroke="#231f20" stroke-width="1.5" />
<line x1="974.5" y1="184.1" x2="974.5" y2="207.9" stroke="#231f20" stroke-width="1.5" />
<line x1="993.1" y1="184.1" x2="993.1" y2="207.9" stroke="#231f20" stroke-width="1.5" />
<line x1="1083.5" y1="184.1" x2="1083.5" y2="207.9" stroke="#231f20" stroke-width="1.5" />
<line x1="1100" y1="184.1" x2="1100" y2="207.9" stroke="#231f20" stroke-width="1.5" />
<line x1="1306.2" y1="184.1" x2="1306.2" y2="207.9" stroke="#231f20" stroke-width="1.5" />
<line x1="1381.2" y1="184.1" x2="1381.2" y2="207.9" stroke="#231f20" stroke-width="1.5" />
<rect x="572.5" y="184.1" width="965.1" height="23.8" fill="none" stroke="#231f20" stroke-width="1.5"/>
<rect x="572.5" y="232.8" width="20.4" height="24.4" fill="#fff"/>
<rect x="592.9" y="232.8" width="381.6" height="24.4" fill="#e3c4a7"/>
<rect x="974.5" y="232.8" width="18.0" height="24.4" fill="#fff"/>
<line x1="592.9" y1="232.8" x2="592.9" y2="257.2" stroke="#231f20" stroke-width="1.5" />
<line x1="974.5" y1="232.8" x2="974.5" y2="257.2" stroke="#231f20" stroke-width="1.5" />
<rect x="572.5" y="232.8" width="420.0" height="24.4" fill="none" stroke="#231f20" stroke-width="1.5"/>
<rect x="1085.0" y="232.8" width="14.5" height="24.4" fill="#fff"/>
<rect x="1099.5" y="232.8" width="206.7" height="24.4" fill="#e3c4a7"/>
<rect x="1306.2" y="232.8" width="75.0" height="24.4" fill="#fff"/>
<rect x="1381.2" y="232.8" width="156.4" height="24.4" fill="#8cc5ec"/>
<line x1="1099.5" y1="232.8" x2="1099.5" y2="257.2" stroke="#231f20" stroke-width="1.5" />
<line x1="1306.2" y1="232.8" x2="1306.2" y2="257.2" stroke="#231f20" stroke-width="1.5" />
<line x1="1381.2" y1="232.8" x2="1381.2" y2="257.2" stroke="#231f20" stroke-width="1.5" />
<rect x="1085.0" y="232.8" width="452.6" height="24.4" fill="none" stroke="#231f20" stroke-width="1.5"/>
<line x1="993" y1="244.7" x2="1085" y2="244.7" stroke="#231f20" stroke-width="1.5" stroke-dasharray="7.5 9.1" stroke-dashoffset="-1"/>
<rect x="572.5" y="282.0" width="20.4" height="24.4" fill="#fff"/>
<rect x="592.9" y="282.0" width="381.6" height="24.4" fill="#e3c4a7"/>
<rect x="974.5" y="282.0" width="18.6" height="24.4" fill="#fff"/>
<rect x="993.1" y="282.0" width="90.4" height="24.4" fill="#bcbec0"/>
<rect x="1083.5" y="282.0" width="16.5" height="24.4" fill="#fff"/>
<rect x="1100.0" y="282.0" width="206.2" height="24.4" fill="#e3c4a7"/>
<rect x="1306.2" y="282.0" width="75.0" height="24.4" fill="#fff"/>
<rect x="1381.2" y="282.0" width="156.4" height="24.4" fill="#8cc5ec"/>
<line x1="592.9" y1="282" x2="592.9" y2="306.4" stroke="#231f20" stroke-width="1.5" />
<line x1="974.5" y1="282" x2="974.5" y2="306.4" stroke="#231f20" stroke-width="1.5" />
<line x1="993.1" y1="282" x2="993.1" y2="306.4" stroke="#231f20" stroke-width="1.5" />
<line x1="1083.5" y1="282" x2="1083.5" y2="306.4" stroke="#231f20" stroke-width="1.5" />
<line x1="1100" y1="282" x2="1100" y2="306.4" stroke="#231f20" stroke-width="1.5" />
<line x1="1306.2" y1="282" x2="1306.2" y2="306.4" stroke="#231f20" stroke-width="1.5" />
<line x1="1381.2" y1="282" x2="1381.2" y2="306.4" stroke="#231f20" stroke-width="1.5" />
<rect x="572.5" y="282.0" width="965.1" height="24.4" fill="none" stroke="#231f20" stroke-width="1.5"/>
<text x="994.5" y="302.6" font-size="24.5" textLength="86.5" lengthAdjust="spacingAndGlyphs">GSLlinker</text>
<rect x="993.3" y="336.0" width="90.0" height="24.4" fill="#ec1c24"/>
<rect x="1083.3" y="336.0" width="17.2" height="24.4" fill="#fff"/>
<rect x="1100.5" y="336.0" width="205.6" height="24.4" fill="#e3c4a7"/>
<line x1="1083.3" y1="336" x2="1083.3" y2="360.4" stroke="#231f20" stroke-width="1.5" />
<line x1="1100.5" y1="336" x2="1100.5" y2="360.4" stroke="#231f20" stroke-width="1.5" />
<rect x="993.3" y="336.0" width="312.8" height="24.4" fill="none" stroke="#231f20" stroke-width="1.5"/>
<rect x="1378.6" y="378.6" width="156.8" height="25.0" fill="#8cc5ec"/>
<rect x="1378.6" y="378.6" width="156.8" height="25.0" fill="none" stroke="#231f20" stroke-width="1.5"/>
<rect x="570.3" y="432.8" width="20.0" height="24.8" fill="#fff"/>
<rect x="590.3" y="432.8" width="381.3" height="24.8" fill="#e3c4a7"/>
<rect x="971.6" y="432.8" width="18.4" height="24.8" fill="#fff"/>
<rect x="990.0" y="432.8" width="91.0" height="24.8" fill="#ec1c24"/>
<rect x="1081.0" y="432.8" width="16.0" height="24.8" fill="#fff"/>
<rect x="1097.0" y="432.8" width="206.2" height="24.8" fill="#e3c4a7"/>
<rect x="1303.2" y="432.8" width="75.3" height="24.8" fill="#fff"/>
<rect x="1378.5" y="432.8" width="156.9" height="24.8" fill="#8cc5ec"/>
<line x1="590.3" y1="432.8" x2="590.3" y2="457.6" stroke="#231f20" stroke-width="1.5" />
<line x1="971.6" y1="432.8" x2="971.6" y2="457.6" stroke="#231f20" stroke-width="1.5" />
<line x1="990" y1="432.8" x2="990" y2="457.6" stroke="#231f20" stroke-width="1.5" />
<line x1="1081" y1="432.8" x2="1081" y2="457.6" stroke="#231f20" stroke-width="1.5" />
<line x1="1097" y1="432.8" x2="1097" y2="457.6" stroke="#231f20" stroke-width="1.5" />
<line x1="1303.2" y1="432.8" x2="1303.2" y2="457.6" stroke="#231f20" stroke-width="1.5" />
<line x1="1378.5" y1="432.8" x2="1378.5" y2="457.6" stroke="#231f20" stroke-width="1.5" />
<rect x="570.3" y="432.8" width="965.1" height="24.8" fill="none" stroke="#231f20" stroke-width="1.5"/>
<polygon points="1469.0,432.2 1472.4,441.3 1482.1,441.7 1474.5,447.8 1477.1,457.2 1469.0,451.8 1460.9,457.2 1463.5,447.8 1455.9,441.7 1465.6,441.3" fill="#ec1c24"/>
<polygon points="1495.8,432.2 1499.2,441.3 1508.9,441.7 1501.3,447.8 1503.9,457.2 1495.8,451.8 1487.7,457.2 1490.3,447.8 1482.7,441.7 1492.4,441.3" fill="#ec1c24"/>
<rect x="571.3" y="485.0" width="20.0" height="25.2" fill="#fff"/>
<rect x="591.3" y="485.0" width="381.7" height="25.2" fill="#e3c4a7"/>
<rect x="973.0" y="485.0" width="18.5" height="25.2" fill="#fff"/>
<rect x="991.5" y="485.0" width="90.5" height="25.2" fill="#ec1c24"/>
<rect x="1082.0" y="485.0" width="17.0" height="25.2" fill="#fff"/>
<rect x="1099.0" y="485.0" width="205.9" height="25.2" fill="#e3c4a7"/>
<rect x="1304.9" y="485.0" width="145.4" height="25.2" fill="#fff"/>
<line x1="591.3" y1="485" x2="591.3" y2="510.2" stroke="#231f20" stroke-width="1.5" />
<line x1="973" y1="485" x2="973" y2="510.2" stroke="#231f20" stroke-width="1.5" />
<line x1="991.5" y1="485" x2="991.5" y2="510.2" stroke="#231f20" stroke-width="1.5" />
<line x1="1082" y1="485" x2="1082" y2="510.2" stroke="#231f20" stroke-width="1.5" />
<line x1="1099" y1="485" x2="1099" y2="510.2" stroke="#231f20" stroke-width="1.5" />
<line x1="1304.9" y1="485" x2="1304.9" y2="510.2" stroke="#231f20" stroke-width="1.5" />
<rect x="571.3" y="485.0" width="879.0" height="25.2" fill="none" stroke="#231f20" stroke-width="1.5"/>
<rect x="571.3" y="536.3" width="20.0" height="25.0" fill="#fff"/>
<rect x="591.3" y="536.3" width="381.7" height="25.0" fill="#e3c4a7"/>
<rect x="973.0" y="536.3" width="18.5" height="25.0" fill="#fff"/>
<rect x="991.5" y="536.3" width="90.5" height="25.0" fill="#ec1c24"/>
<rect x="1082.0" y="536.3" width="17.0" height="25.0" fill="#fff"/>
<rect x="1099.0" y="536.3" width="206.3" height="25.0" fill="#e3c4a7"/>
<line x1="591.3" y1="536.3" x2="591.3" y2="561.3" stroke="#231f20" stroke-width="1.5" />
<line x1="973" y1="536.3" x2="973" y2="561.3" stroke="#231f20" stroke-width="1.5" />
<line x1="991.5" y1="536.3" x2="991.5" y2="561.3" stroke="#231f20" stroke-width="1.5" />
<line x1="1082" y1="536.3" x2="1082" y2="561.3" stroke="#231f20" stroke-width="1.5" />
<line x1="1099" y1="536.3" x2="1099" y2="561.3" stroke="#231f20" stroke-width="1.5" />
<rect x="571.3" y="536.3" width="734.0" height="25.0" fill="none" stroke="#231f20" stroke-width="1.5"/>
<rect x="91.2" y="768.8" width="172.40000000000003" height="403.20000000000005" fill="#fcfcfc"/>
<g clip-path="url(#c1)">
<path d="M108.4 772.0L110.4 784.0Q111.4 786.0 114.4 786.0L128.4 786.0Q131.4 786.0 132.4 784.0L134.4 772.0" fill="none" stroke="#000" stroke-width="1.2" opacity="0.06"/>
<rect x="109.5" y="985.0" width="23.8" height="87.0" fill="url(#g2)" opacity="1" filter="url(#f4)"/>
<rect x="109.5" y="1097.0" width="23.8" height="68.0" fill="url(#g3)" opacity="1" filter="url(#f4)"/>
<rect x="109.5" y="1070.0" width="23.8" height="16.0" fill="#000" opacity="0.15" filter="url(#f3)"/>
<path d="M104.4 1064.0L104.4 1090.0Q104.4 1099.0 113.4 1099.0L129.4 1099.0Q138.4 1099.0 138.4 1090.0L138.4 1064.0L132.3 1064.0L128.2 1079.6C128.2 1085.5 114.6 1085.5 114.6 1079.6L110.5 1064.0Z" fill="#000" opacity="1" filter="url(#f2)"/>
<path d="M147.6 772.0L149.6 784.0Q150.6 786.0 153.6 786.0L167.6 786.0Q170.6 786.0 171.6 784.0L173.6 772.0" fill="none" stroke="#000" stroke-width="1.2" opacity="0.06"/>
<rect x="148.6" y="985.0" width="24.1" height="89.0" fill="url(#g4)" opacity="1" filter="url(#f4)"/>
<rect x="148.6" y="1096.0" width="24.1" height="69.0" fill="url(#g5)" opacity="1" filter="url(#f4)"/>
<rect x="148.6" y="1070.8" width="24.1" height="12.8" fill="#000" opacity="0.15" filter="url(#f3)"/>
<path d="M143.4 1066.0L143.4 1089.0Q143.4 1098.0 152.4 1098.0L168.8 1098.0Q177.8 1098.0 177.8 1089.0L177.8 1066.0L171.6 1066.0L167.5 1078.5C167.5 1083.2 153.7 1083.2 153.7 1078.5L149.6 1066.0Z" fill="#000" opacity="1" filter="url(#f2)"/>
<path d="M187.7 772.0L189.7 784.0Q190.7 786.0 193.7 786.0L207.7 786.0Q210.7 786.0 211.7 784.0L213.7 772.0" fill="none" stroke="#000" stroke-width="1.2" opacity="0.06"/>
<rect x="188.3" y="985.0" width="24.8" height="88.0" fill="url(#g6)" opacity="1" filter="url(#f4)"/>
<rect x="188.3" y="1094.6" width="24.8" height="70.4" fill="url(#g7)" opacity="1" filter="url(#f4)"/>
<rect x="188.3" y="1069.8" width="24.8" height="12.8" fill="#000" opacity="0.15" filter="url(#f3)"/>
<path d="M183.0 1065.0L183.0 1087.6Q183.0 1096.6 192.0 1096.6L209.4 1096.6Q218.4 1096.6 218.4 1087.6L218.4 1065.0L212.0 1065.0L207.8 1077.5C207.8 1082.2 193.6 1082.2 193.6 1077.5L189.4 1065.0Z" fill="#000" opacity="1" filter="url(#f2)"/>
<path d="M227.2 772.0L229.2 784.0Q230.2 786.0 233.2 786.0L247.2 786.0Q250.2 786.0 251.2 784.0L253.2 772.0" fill="none" stroke="#000" stroke-width="1.2" opacity="0.06"/>
<rect x="227.4" y="985.0" width="25.5" height="87.0" fill="url(#g8)" opacity="1" filter="url(#f4)"/>
<rect x="227.4" y="1091.5" width="25.5" height="73.5" fill="url(#g9)" opacity="1" filter="url(#f4)"/>
<rect x="227.4" y="1068.5" width="25.6" height="12.0" fill="#000" opacity="0.15" filter="url(#f3)"/>
<path d="M221.9 1064.0L221.9 1084.5Q221.9 1093.5 230.9 1093.5L249.4 1093.5Q258.4 1093.5 258.4 1084.5L258.4 1064.0L251.9 1064.0L247.5 1075.7C247.5 1080.1 232.9 1080.1 232.9 1075.7L228.5 1064.0Z" fill="#000" opacity="1" filter="url(#f2)"/>
</g>
<rect x="91.2" y="768.8" width="172.4" height="403.2" fill="none" stroke="#231f20" stroke-width="1.5"/>
<rect x="267.3" y="768.8" width="263.99999999999994" height="403.20000000000005" fill="#fcfcfc"/>
<g clip-path="url(#c10)">
<path d="M269.5 771.0L271.5 783.0Q272.5 785.0 275.5 785.0L289.5 785.0Q292.5 785.0 293.5 783.0L295.5 771.0" fill="none" stroke="#000" stroke-width="1.2" opacity="0.1"/>
<rect x="268.5" y="790.0" width="28.0" height="260.0" fill="url(#g11)" opacity="1" filter="url(#f3)"/>
<rect x="272.5" y="960.0" width="5.0" height="102.0" fill="url(#g12)" opacity="1" filter="url(#f3)"/>
<rect x="301.5" y="960.0" width="5.0" height="102.0" fill="url(#g12)" opacity="1" filter="url(#f3)"/>
<rect x="276.0" y="1054.2" width="27.0" height="19.2" fill="#000" opacity="0.30" filter="url(#f3)"/>
<path d="M271.0 1047.0L271.0 1080.2Q271.0 1086.2 277.0 1086.2L302.0 1086.2Q308.0 1086.2 308.0 1080.2L308.0 1047.0L302.0 1047.0L298.0 1065.7C298.0 1072.7 281.0 1072.7 281.0 1065.7L277.0 1047.0Z" fill="#000" opacity="1" filter="url(#f2)"/>
<rect x="275.5" y="1084.0" width="28.0" height="81.0" fill="url(#g13)" opacity="1" filter="url(#f4)"/>
<path d="M314.4 771.0L316.4 784.0Q317.4 786.0 320.4 786.0L334.4 786.0Q337.4 786.0 338.4 784.0L340.4 771.0" fill="none" stroke="#000" stroke-width="1.2" opacity="0.1"/>
<rect x="319.0" y="790.0" width="26.0" height="280.0" fill="url(#g14)" opacity="1" filter="url(#f3)"/>
<rect x="316.0" y="800.0" width="5.5" height="270.0" fill="url(#g15)" opacity="1" filter="url(#f2_5)"/>
<rect x="340.5" y="800.0" width="5.5" height="270.0" fill="url(#g15)" opacity="1" filter="url(#f2_5)"/>
<rect x="318.0" y="836.0" width="26.0" height="14.0" rx="3" fill="#000" opacity="0.16" filter="url(#f3)"/>
<rect x="318.0" y="868.0" width="26.0" height="18.0" rx="3" fill="#000" opacity="0.2" filter="url(#f3)"/>
<rect x="325.5" y="1063.1" width="21.0" height="13.6" fill="#000" opacity="0.30" filter="url(#f3)"/>
<path d="M321.0 1058.0L321.0 1081.5Q321.0 1087.5 327.0 1087.5L345.0 1087.5Q351.0 1087.5 351.0 1081.5L351.0 1058.0L345.6 1058.0L342.0 1071.3C342.0 1076.2 330.0 1076.2 330.0 1071.3L326.4 1058.0Z" fill="#000" opacity="1" filter="url(#f2)"/>
<rect x="323.0" y="1086.0" width="26.0" height="79.0" fill="url(#g16)" opacity="1" filter="url(#f4)"/>
<path d="M353 781 Q356 785 362 782 Q368 778 374 782 Q378 785 383 782" fill="none" stroke="#000" stroke-width="1.4" opacity="0.45"/>
<rect x="355.4" y="786.0" width="26.0" height="114.0" fill="url(#g17)" opacity="1" filter="url(#f3)"/>
<rect x="353.6" y="784.0" width="6.5" height="104.0" fill="url(#g18)" opacity="1" filter="url(#f1_6)"/>
<rect x="376.6" y="784.0" width="6.5" height="104.0" fill="url(#g18)" opacity="1" filter="url(#f1_6)"/>
<rect x="356.0" y="872.0" width="25.0" height="10.0" rx="3" fill="#000" opacity="0.3" filter="url(#f3)"/>
<rect x="356.0" y="880.0" width="28.0" height="280.0" fill="url(#g19)" opacity="1" filter="url(#f4)"/>
<ellipse cx="378.0" cy="1083.0" rx="10.0" ry="3.5" fill="#000" opacity="0.25" filter="url(#f2)"/>
<path d="M396.0 771.0L398.0 783.0Q399.0 785.0 402.0 785.0L414.0 785.0Q417.0 785.0 418.0 783.0L420.0 771.0" fill="none" stroke="#000" stroke-width="1.2" opacity="0.08"/>
<rect x="397.0" y="790.0" width="24.0" height="270.0" fill="url(#g20)" opacity="1" filter="url(#f3)"/>
<rect x="400.6" y="1020.0" width="5.0" height="50.0" fill="url(#g21)" opacity="1" filter="url(#f2_5)"/>
<rect x="423.6" y="1020.0" width="5.0" height="50.0" fill="url(#g21)" opacity="1" filter="url(#f2_5)"/>
<rect x="404.1" y="1059.7" width="21.0" height="20.5" fill="#000" opacity="0.30" filter="url(#f3)"/>
<path d="M399.6 1052.0L399.6 1088.0Q399.6 1094.0 405.6 1094.0L423.6 1094.0Q429.6 1094.0 429.6 1088.0L429.6 1052.0L424.2 1052.0L420.6 1072.0C420.6 1079.5 408.6 1079.5 408.6 1072.0L405.0 1052.0Z" fill="#000" opacity="1" filter="url(#f2)"/>
<rect x="402.6" y="1092.0" width="24.0" height="73.0" fill="url(#g22)" opacity="1" filter="url(#f4)"/>
<path d="M438.0 771.0L440.0 784.0Q441.0 786.0 444.0 786.0L458.0 786.0Q461.0 786.0 462.0 784.0L464.0 771.0" fill="none" stroke="#000" stroke-width="1.2" opacity="0.14"/>
<rect x="439.0" y="790.0" width="26.0" height="282.0" fill="url(#g23)" opacity="1" filter="url(#f3)"/>
<rect x="438.5" y="960.0" width="5.0" height="115.0" fill="url(#g24)" opacity="1" filter="url(#f2)"/>
<rect x="464.5" y="960.0" width="5.0" height="115.0" fill="url(#g24)" opacity="1" filter="url(#f2)"/>
<rect x="443.3" y="1068.3" width="23.4" height="16.8" fill="#000" opacity="0.30" filter="url(#f3)"/>
<path d="M438.8 1062.0L438.8 1090.0Q438.8 1096.0 444.8 1096.0L465.2 1096.0Q471.2 1096.0 471.2 1090.0L471.2 1062.0L465.8 1062.0L462.2 1078.4C462.2 1084.5 447.8 1084.5 447.8 1078.4L444.2 1062.0Z" fill="#000" opacity="1" filter="url(#f2)"/>
<rect x="442.0" y="1094.0" width="26.0" height="71.0" fill="url(#g25)" opacity="1" filter="url(#f4)"/>
<path d="M483.8 771.0L485.8 784.0Q486.8 786.0 489.8 786.0L503.8 786.0Q506.8 786.0 507.8 784.0L509.8 771.0" fill="none" stroke="#000" stroke-width="1.2" opacity="0.12"/>
<rect x="484.5" y="788.0" width="27.0" height="257.0" fill="url(#g26)" opacity="1" filter="url(#f3)"/>
<rect x="483.0" y="870.0" width="5.0" height="170.0" fill="url(#g27)" opacity="1" filter="url(#f2_5)"/>
<rect x="508.0" y="870.0" width="5.0" height="170.0" fill="url(#g27)" opacity="1" filter="url(#f2_5)"/>
<rect x="481.8" y="790.0" width="6.0" height="92.0" fill="url(#g28)" opacity="1" filter="url(#f2)"/>
<rect x="505.8" y="790.0" width="6.0" height="92.0" fill="url(#g28)" opacity="1" filter="url(#f2)"/>
<rect x="484.0" y="840.0" width="27.0" height="9.0" rx="3" fill="#000" opacity="0.35" filter="url(#f3)"/>
<rect x="484.0" y="823.0" width="27.0" height="6.0" rx="3" fill="#000" opacity="0.2" filter="url(#f2)"/>
<ellipse cx="499.0" cy="1090.8" rx="11.0" ry="3.5" fill="#000" opacity="0.28" filter="url(#f2)"/>
</g>
<rect x="267.3" y="768.8" width="264.0" height="403.2" fill="none" stroke="#231f20" stroke-width="1.5"/>
<rect x="534.8" y="768.5" width="141.4000000000001" height="403.79999999999995" fill="#fdfdfd"/>
<g clip-path="url(#c29)">
<path d="M539.0 771.0L541.0 781.0Q542.0 783.0 545.0 783.0L557.0 783.0Q560.0 783.0 561.0 781.0L563.0 771.0" fill="none" stroke="#000" stroke-width="1.2" opacity="0.05"/>
<path d="M573.0 771.0L575.0 781.0Q576.0 783.0 579.0 783.0L591.0 783.0Q594.0 783.0 595.0 781.0L597.0 771.0" fill="none" stroke="#000" stroke-width="1.2" opacity="0.05"/>
<path d="M605.0 771.0L607.0 781.0Q608.0 783.0 611.0 783.0L623.0 783.0Q626.0 783.0 627.0 781.0L629.0 771.0" fill="none" stroke="#000" stroke-width="1.2" opacity="0.05"/>
<path d="M639.0 771.0L641.0 781.0Q642.0 783.0 645.0 783.0L657.0 783.0Q660.0 783.0 661.0 781.0L663.0 771.0" fill="none" stroke="#000" stroke-width="1.2" opacity="0.05"/>
<rect x="543.0" y="1000.0" width="24.0" height="100.0" fill="url(#g30)" opacity="1" filter="url(#f3)"/>
<ellipse cx="553.0" cy="1022.0" rx="11.0" ry="3.0" fill="#000" opacity="0.28" filter="url(#f1_6)"/>
<ellipse cx="555.0" cy="1056.6" rx="10.0" ry="2.5" fill="#000" opacity="0.08" filter="url(#f2)"/>
<ellipse cx="555.5" cy="1104.2" rx="12.0" ry="6.2" fill="#000" opacity="1" filter="url(#f1_2)"/>
<rect x="545.0" y="1110.0" width="22.0" height="55.0" fill="url(#g31)" opacity="1" filter="url(#f4)"/>
<rect x="575.0" y="985.0" width="22.0" height="115.0" fill="url(#g32)" opacity="1" filter="url(#f3)"/>
<path d="M574.0 1020.5L596.0 1020.5L596.0 1028.5L574.0 1028.5Z" fill="#000" opacity="0.90" filter="url(#f1_6)"/>
<rect x="574.0" y="1016.0" width="7.0" height="12.5" rx="2" fill="#000" opacity="1" filter="url(#f1_6)"/>
<rect x="589.0" y="1016.0" width="7.0" height="12.5" rx="2" fill="#000" opacity="1" filter="url(#f1_6)"/>
<ellipse cx="586.0" cy="1060.0" rx="10.0" ry="2.5" fill="#000" opacity="0.12" filter="url(#f2)"/>
<ellipse cx="589.5" cy="1108.5" rx="9.8" ry="5.2" fill="#000" opacity="1" filter="url(#f1_2)"/>
<rect x="579.0" y="1113.0" width="22.0" height="52.0" fill="url(#g33)" opacity="1" filter="url(#f4)"/>
<rect x="606.5" y="900.0" width="24.0" height="150.0" fill="url(#g34)" opacity="1" filter="url(#f3)"/>
<path d="M605.5 938.0L631.5 938.0L631.5 944.5L605.5 944.5Z" fill="#000" opacity="0.85" filter="url(#f1_6)"/>
<rect x="605.5" y="934.0" width="8.0" height="10.5" rx="2" fill="#000" opacity="1" filter="url(#f1_6)"/>
<rect x="623.5" y="934.0" width="8.0" height="10.5" rx="2" fill="#000" opacity="1" filter="url(#f1_6)"/>
<rect x="606.5" y="944.0" width="24.0" height="28.0" rx="3" fill="#000" opacity="0.12" filter="url(#f2)"/>
<rect x="606.5" y="968.0" width="24.0" height="8.0" rx="3" fill="#000" opacity="0.45" filter="url(#f1_6)"/>
<ellipse cx="618.5" cy="1028.0" rx="11.0" ry="3.0" fill="#000" opacity="0.28" filter="url(#f1_6)"/>
<ellipse cx="620.0" cy="1115.6" rx="8.0" ry="2.2" fill="#000" opacity="0.06" filter="url(#f2)"/>
<rect x="640.5" y="860.0" width="24.0" height="70.0" fill="url(#g35)" opacity="1" filter="url(#f3)"/>
<path d="M640.5 932.0L664.5 931.0L664.5 940.0L640.5 941.0Z" fill="#000" opacity="0.95" filter="url(#f1_6)"/>
<rect x="640.5" y="926.0" width="7.5" height="15.0" rx="2" fill="#000" opacity="1" filter="url(#f1_6)"/>
<rect x="657.0" y="925.0" width="7.5" height="15.0" rx="2" fill="#000" opacity="1" filter="url(#f1_6)"/>
<rect x="641.0" y="941.0" width="23.0" height="28.0" rx="3" fill="#000" opacity="0.1" filter="url(#f2)"/>
<ellipse cx="652.0" cy="971.5" rx="10.0" ry="2.5" fill="#000" opacity="0.18" filter="url(#f2)"/>
<ellipse cx="652.0" cy="1027.0" rx="10.0" ry="2.5" fill="#000" opacity="0.12" filter="url(#f2)"/>
<ellipse cx="654.0" cy="1114.0" rx="7.0" ry="2.0" fill="#000" opacity="0.05" filter="url(#f2)"/>
</g>
<rect x="534.8" y="768.5" width="141.4" height="403.8" fill="none" stroke="#6d6e71" stroke-width="1.4"/>
<rect x="79.3" y="1388.8" width="604.0" height="403.60000000000014" fill="#fdfdfd"/>
<g clip-path="url(#c36)">
<rect x="93.0" y="1660.0" width="26.0" height="60.0" fill="url(#g37)" opacity="1" filter="url(#f4)"/>
<rect x="94.5" y="1719.5" width="23.0" height="9.4" fill="#000" opacity="0.50" filter="url(#f3)"/>
<path d="M90.0 1716.0L90.0 1731.1Q90.0 1737.1 96.0 1737.1L116.0 1737.1Q122.0 1737.1 122.0 1731.1L122.0 1716.0L116.6 1716.0L113.0 1725.2C113.0 1728.7 99.0 1728.7 99.0 1725.2L95.4 1716.0Z" fill="#000" opacity="1" filter="url(#f2)"/>
<rect x="93.0" y="1735.0" width="26.0" height="55.0" fill="url(#g38)" opacity="1" filter="url(#f4)"/>
<rect x="132.2" y="1450.0" width="26.0" height="70.0" fill="url(#g39)" opacity="1" filter="url(#f3)"/>
<path d="M130.2 1524.4L160.2 1524.4L160.2 1534.4L130.2 1534.4Z" fill="#000" opacity="0.95" filter="url(#f2)"/>
<rect x="130.2" y="1519.0" width="8.0" height="15.4" rx="2" fill="#000" opacity="1" filter="url(#f2)"/>
<rect x="152.2" y="1519.0" width="8.0" height="15.4" rx="2" fill="#000" opacity="1" filter="url(#f2)"/>
<rect x="132.0" y="1533.0" width="27.0" height="18.0" rx="3" fill="#000" opacity="0.22" filter="url(#f2)"/>
<path d="M130.2 1558.7L160.2 1558.7L160.2 1571.7L130.2 1571.7Z" fill="#000" opacity="0.95" filter="url(#f2)"/>
<rect x="130.2" y="1549.0" width="8.0" height="22.7" rx="2" fill="#000" opacity="1" filter="url(#f2)"/>
<rect x="152.2" y="1549.0" width="8.0" height="22.7" rx="2" fill="#000" opacity="1" filter="url(#f2)"/>
<rect x="132.0" y="1571.0" width="27.0" height="54.0" rx="3" fill="#000" opacity="0.07" filter="url(#f2)"/>
<ellipse cx="145.2" cy="1628.3" rx="13.0" ry="3.5" fill="#000" opacity="0.3" filter="url(#f1_6)"/>
<ellipse cx="145.2" cy="1673.6" rx="12.0" ry="3.0" fill="#000" opacity="0.05" filter="url(#f2)"/>
<ellipse cx="145.3" cy="1728.7" rx="10.0" ry="2.5" fill="#000" opacity="0.07" filter="url(#f2)"/>
<rect x="171.3" y="1712.4" width="24.6" height="9.0" fill="#000" opacity="0.50" filter="url(#f3)"/>
<path d="M166.8 1709.0L166.8 1727.4Q166.8 1733.4 172.8 1733.4L194.4 1733.4Q200.4 1733.4 200.4 1727.4L200.4 1709.0L195.0 1709.0L191.4 1717.8C191.4 1721.1 175.8 1721.1 175.8 1717.8L172.2 1709.0Z" fill="#000" opacity="1" filter="url(#f2)"/>
<rect x="169.6" y="1660.0" width="28.0" height="50.0" fill="url(#g40)" opacity="1" filter="url(#f4)"/>
<rect x="171.0" y="1730.0" width="26.0" height="60.0" fill="url(#g41)" opacity="1" filter="url(#f4)"/>
<rect x="210.5" y="1707.2" width="21.8" height="8.6" fill="#000" opacity="0.50" filter="url(#f3)"/>
<path d="M206.0 1704.0L206.0 1722.7Q206.0 1728.7 212.0 1728.7L230.8 1728.7Q236.8 1728.7 236.8 1722.7L236.8 1704.0L231.4 1704.0L227.8 1712.3C227.8 1715.5 215.0 1715.5 215.0 1712.3L211.4 1704.0Z" fill="#000" opacity="1" filter="url(#f2)"/>
<rect x="208.4" y="1650.0" width="26.0" height="56.0" fill="url(#g42)" opacity="1" filter="url(#f4)"/>
<rect x="209.0" y="1726.0" width="26.0" height="64.0" fill="url(#g43)" opacity="1" filter="url(#f4)"/>
<rect x="257.5" y="1440.0" width="25.0" height="160.0" fill="url(#g44)" opacity="1" filter="url(#f3)"/>
<ellipse cx="270.0" cy="1528.0" rx="12.5" ry="3.0" fill="#000" opacity="0.22" filter="url(#f1_6)"/>
<path d="M255.5 1555.0L284.5 1553.5L284.5 1565.5L255.5 1567.0Z" fill="#000" opacity="0.95" filter="url(#f2)"/>
<rect x="255.5" y="1547.0" width="8.0" height="20.0" rx="2" fill="#000" opacity="1" filter="url(#f2)"/>
<rect x="276.5" y="1545.5" width="8.0" height="20.0" rx="2" fill="#000" opacity="1" filter="url(#f2)"/>
<path d="M255.5 1610.0L284.5 1608.5L284.5 1621.5L255.5 1623.0Z" fill="#000" opacity="0.95" filter="url(#f2)"/>
<rect x="255.5" y="1605.0" width="8.0" height="18.0" rx="2" fill="#000" opacity="1" filter="url(#f2)"/>
<rect x="276.5" y="1603.5" width="8.0" height="18.0" rx="2" fill="#000" opacity="1" filter="url(#f2)"/>
<rect x="257.5" y="1593.0" width="25.0" height="30.0" rx="3" fill="#000" opacity="0.1" filter="url(#f2)"/>
<ellipse cx="270.0" cy="1655.0" rx="12.5" ry="3.0" fill="#000" opacity="0.07" filter="url(#f1_6)"/>
<ellipse cx="260.0" cy="1713.8" rx="12.5" ry="3.2" fill="#000" opacity="0.32" filter="url(#f1_6)" transform="rotate(-9 260 1713.8)"/>
<rect x="250.5" y="1717.8" width="23.0" height="72.2" fill="url(#g45)" opacity="1" filter="url(#f4)"/>
<rect x="299.1" y="1440.0" width="25.0" height="160.0" fill="url(#g46)" opacity="1" filter="url(#f3)"/>
<ellipse cx="311.6" cy="1525.0" rx="12.5" ry="3.0" fill="#000" opacity="0.2" filter="url(#f1_6)"/>
<path d="M297.1 1551.3L326.1 1549.8L326.1 1561.8L297.1 1563.3Z" fill="#000" opacity="0.95" filter="url(#f2)"/>
<rect x="297.1" y="1544.0" width="8.0" height="19.3" rx="2" fill="#000" opacity="1" filter="url(#f2)"/>
<rect x="318.1" y="1542.5" width="8.0" height="19.3" rx="2" fill="#000" opacity="1" filter="url(#f2)"/>
<path d="M297.1 1604.5L326.1 1603.0L326.1 1616.0L297.1 1617.5Z" fill="#000" opacity="0.95" filter="url(#f2)"/>
<rect x="297.1" y="1601.0" width="8.0" height="16.5" rx="2" fill="#000" opacity="1" filter="url(#f2)"/>
<rect x="318.1" y="1599.5" width="8.0" height="16.5" rx="2" fill="#000" opacity="1" filter="url(#f2)"/>
<rect x="299.1" y="1587.5" width="25.0" height="30.0" rx="3" fill="#000" opacity="0.1" filter="url(#f2)"/>
<ellipse cx="311.6" cy="1649.0" rx="12.5" ry="3.0" fill="#000" opacity="0.08" filter="url(#f1_6)"/>
<ellipse cx="301.5" cy="1704.4" rx="12.5" ry="3.2" fill="#000" opacity="0.35" filter="url(#f1_6)" transform="rotate(-9 301.5 1704.4)"/>
<rect x="292.1" y="1708.4" width="23.0" height="81.6" fill="url(#g47)" opacity="1" filter="url(#f4)"/>
<rect x="340.3" y="1440.0" width="25.0" height="160.0" fill="url(#g48)" opacity="1" filter="url(#f3)"/>
<ellipse cx="352.8" cy="1523.4" rx="12.5" ry="3.0" fill="#000" opacity="0.18" filter="url(#f1_6)"/>
<path d="M338.3 1547.6L367.3 1546.1L367.3 1558.1L338.3 1559.6Z" fill="#000" opacity="0.95" filter="url(#f2)"/>
<rect x="338.3" y="1544.0" width="8.0" height="15.6" rx="2" fill="#000" opacity="1" filter="url(#f2)"/>
<rect x="359.3" y="1542.5" width="8.0" height="15.6" rx="2" fill="#000" opacity="1" filter="url(#f2)"/>
<path d="M338.3 1602.7L367.3 1601.2L367.3 1614.2L338.3 1615.7Z" fill="#000" opacity="0.95" filter="url(#f2)"/>
<rect x="338.3" y="1597.0" width="8.0" height="18.7" rx="2" fill="#000" opacity="1" filter="url(#f2)"/>
<rect x="359.3" y="1595.5" width="8.0" height="18.7" rx="2" fill="#000" opacity="1" filter="url(#f2)"/>
<rect x="340.3" y="1585.7" width="25.0" height="30.0" rx="3" fill="#000" opacity="0.1" filter="url(#f2)"/>
<ellipse cx="352.8" cy="1645.6" rx="12.5" ry="3.0" fill="#000" opacity="0.1" filter="url(#f1_6)"/>
<ellipse cx="340.6" cy="1695.1" rx="12.5" ry="3.5" fill="#000" opacity="0.55" filter="url(#f1_6)" transform="rotate(-9 340.6 1695.1)"/>
<rect x="333.3" y="1699.1" width="23.0" height="90.9" fill="url(#g49)" opacity="1" filter="url(#f4)"/>
<rect x="379.5" y="1440.0" width="25.0" height="160.0" fill="url(#g50)" opacity="1" filter="url(#f3)"/>
<path d="M377.5 1596.1L406.5 1594.6L406.5 1607.6L377.5 1609.1Z" fill="#000" opacity="0.95" filter="url(#f2)"/>
<rect x="377.5" y="1591.0" width="8.0" height="18.1" rx="2" fill="#000" opacity="1" filter="url(#f2)"/>
<rect x="398.5" y="1589.5" width="8.0" height="18.1" rx="2" fill="#000" opacity="1" filter="url(#f2)"/>
<rect x="379.5" y="1579.1" width="25.0" height="30.0" rx="3" fill="#000" opacity="0.1" filter="url(#f2)"/>
<ellipse cx="392.0" cy="1637.2" rx="12.5" ry="3.0" fill="#000" opacity="0.13" filter="url(#f1_6)"/>
<ellipse cx="381.7" cy="1687.2" rx="13.0" ry="3.8" fill="#000" opacity="0.7" filter="url(#f1_6)" transform="rotate(-9 381.7 1687.2)"/>
<rect x="372.5" y="1691.2" width="23.0" height="98.8" fill="url(#g51)" opacity="1" filter="url(#f4)"/>
<rect x="423.8" y="1440.0" width="26.0" height="160.0" fill="url(#g52)" opacity="1" filter="url(#f3)"/>
<ellipse cx="436.8" cy="1553.2" rx="13.0" ry="3.0" fill="#000" opacity="0.22" filter="url(#f1_6)"/>
<path d="M421.8 1592.4L451.8 1590.9L451.8 1603.9L421.8 1605.4Z" fill="#000" opacity="0.95" filter="url(#f2)"/>
<rect x="421.8" y="1589.0" width="8.0" height="16.4" rx="2" fill="#000" opacity="1" filter="url(#f2)"/>
<rect x="443.8" y="1587.5" width="8.0" height="16.4" rx="2" fill="#000" opacity="1" filter="url(#f2)"/>
<rect x="423.8" y="1575.4" width="26.0" height="30.0" rx="3" fill="#000" opacity="0.1" filter="url(#f2)"/>
<ellipse cx="436.8" cy="1633.9" rx="13.0" ry="3.0" fill="#000" opacity="0.32" filter="url(#f1_6)"/>
<ellipse cx="428.8" cy="1678.3" rx="16.5" ry="4.3" fill="#000" opacity="1" filter="url(#f1_6)" transform="rotate(-8 428.8 1678.3)"/>
<rect x="416.8" y="1682.3" width="24.0" height="107.7" fill="url(#g53)" opacity="1" filter="url(#f4)"/>
<path d="M377.5 1546.9L406.5 1545.4L406.5 1554.4L377.5 1555.9Z" fill="#000" opacity="0.68" filter="url(#f2)"/>
<rect x="377.5" y="1544.0" width="7.5" height="11.9" rx="2" fill="#000" opacity="0.8" filter="url(#f2)"/>
<rect x="399.0" y="1542.5" width="7.5" height="11.9" rx="2" fill="#000" opacity="0.8" filter="url(#f2)"/>
<ellipse cx="436.8" cy="1550.2" rx="13.0" ry="3.0" fill="#000" opacity="0.25" filter="url(#f1_6)"/>
<rect x="470.0" y="1430.0" width="26.0" height="70.0" fill="url(#g54)" opacity="1" filter="url(#f3)"/>
<rect x="469.0" y="1516.4" width="28.0" height="21.1" rx="3" fill="#000" opacity="0.2" filter="url(#f2)"/>
<rect x="468.0" y="1519.4" width="5.0" height="19.1" fill="url(#g55)" opacity="1" filter="url(#f1_6)"/>
<rect x="493.0" y="1519.4" width="5.0" height="19.1" fill="url(#g55)" opacity="1" filter="url(#f1_6)"/>
<path d="M468.0 1508.9L498.0 1507.9L498.0 1518.4L468.0 1519.4Z" fill="#000" opacity="0.92" filter="url(#f2)"/>
<rect x="468.0" y="1504.0" width="8.0" height="15.4" rx="2" fill="#000" opacity="1" filter="url(#f2)"/>
<rect x="490.0" y="1503.0" width="8.0" height="15.4" rx="2" fill="#000" opacity="1" filter="url(#f2)"/>
<path d="M468.0 1540.3L498.0 1539.3L498.0 1550.3L468.0 1551.3Z" fill="#000" opacity="0.85" filter="url(#f2)"/>
<rect x="468.0" y="1534.5" width="8.0" height="16.8" rx="2" fill="#000" opacity="1" filter="url(#f2)"/>
<rect x="490.0" y="1533.5" width="8.0" height="16.8" rx="2" fill="#000" opacity="1" filter="url(#f2)"/>
<rect x="469.0" y="1551.3" width="28.0" height="46.4" rx="3" fill="#000" opacity="0.08" filter="url(#f2)"/>
<rect x="468.0" y="1551.3" width="4.0" height="46.4" fill="url(#g56)" opacity="1" filter="url(#f2)"/>
<rect x="494.0" y="1551.3" width="4.0" height="46.4" fill="url(#g56)" opacity="1" filter="url(#f2)"/>
<rect x="469.0" y="1594.2" width="28.0" height="7.0" rx="2" fill="#000" opacity="0.32" filter="url(#f1_6)"/>
<ellipse cx="479.0" cy="1633.0" rx="12.0" ry="8.0" fill="#000" opacity="0.04" filter="url(#f3)"/>
<ellipse cx="481.0" cy="1668.0" rx="11.0" ry="3.0" fill="#000" opacity="0.1" filter="url(#f2)"/>
<rect x="469.0" y="1718.0" width="26.0" height="40.0" rx="3" fill="#000" opacity="0.025" filter="url(#f4)"/>
<rect x="514.0" y="1430.0" width="26.0" height="70.0" fill="url(#g57)" opacity="1" filter="url(#f3)"/>
<rect x="513.0" y="1514.4" width="28.0" height="20.6" rx="3" fill="#000" opacity="0.2" filter="url(#f2)"/>
<rect x="512.0" y="1517.4" width="5.0" height="18.6" fill="url(#g58)" opacity="1" filter="url(#f1_6)"/>
<rect x="537.0" y="1517.4" width="5.0" height="18.6" fill="url(#g58)" opacity="1" filter="url(#f1_6)"/>
<path d="M512.0 1506.9L542.0 1505.9L542.0 1516.4L512.0 1517.4Z" fill="#000" opacity="0.92" filter="url(#f2)"/>
<rect x="512.0" y="1500.0" width="8.0" height="17.4" rx="2" fill="#000" opacity="1" filter="url(#f2)"/>
<rect x="534.0" y="1499.0" width="8.0" height="17.4" rx="2" fill="#000" opacity="1" filter="url(#f2)"/>
<path d="M512.0 1537.4L542.0 1536.4L542.0 1547.4L512.0 1548.4Z" fill="#000" opacity="0.85" filter="url(#f2)"/>
<rect x="512.0" y="1532.0" width="8.0" height="16.4" rx="2" fill="#000" opacity="1" filter="url(#f2)"/>
<rect x="534.0" y="1531.0" width="8.0" height="16.4" rx="2" fill="#000" opacity="1" filter="url(#f2)"/>
<rect x="513.0" y="1548.4" width="28.0" height="46.9" rx="3" fill="#000" opacity="0.08" filter="url(#f2)"/>
<rect x="512.0" y="1548.4" width="4.0" height="46.9" fill="url(#g59)" opacity="1" filter="url(#f2)"/>
<rect x="538.0" y="1548.4" width="4.0" height="46.9" fill="url(#g59)" opacity="1" filter="url(#f2)"/>
<rect x="513.0" y="1591.8" width="28.0" height="7.0" rx="2" fill="#000" opacity="0.3" filter="url(#f1_6)"/>
<ellipse cx="523.0" cy="1633.0" rx="12.0" ry="8.0" fill="#000" opacity="0.04" filter="url(#f3)"/>
<ellipse cx="525.0" cy="1668.0" rx="11.0" ry="3.0" fill="#000" opacity="0.1" filter="url(#f2)"/>
<rect x="513.0" y="1718.0" width="26.0" height="40.0" rx="3" fill="#000" opacity="0.025" filter="url(#f4)"/>
<rect x="558.1" y="1430.0" width="25.0" height="70.0" fill="url(#g60)" opacity="1" filter="url(#f3)"/>
<rect x="557.1" y="1511.5" width="27.0" height="21.5" rx="3" fill="#000" opacity="0.2" filter="url(#f2)"/>
<rect x="556.1" y="1514.5" width="5.0" height="19.5" fill="url(#g61)" opacity="1" filter="url(#f1_6)"/>
<rect x="580.1" y="1514.5" width="5.0" height="19.5" fill="url(#g61)" opacity="1" filter="url(#f1_6)"/>
<path d="M556.1 1504.0L585.1 1502.5L585.1 1513.0L556.1 1514.5Z" fill="#000" opacity="0.92" filter="url(#f2)"/>
<rect x="556.1" y="1498.0" width="8.0" height="16.5" rx="2" fill="#000" opacity="1" filter="url(#f2)"/>
<rect x="577.1" y="1496.5" width="8.0" height="16.5" rx="2" fill="#000" opacity="1" filter="url(#f2)"/>
<path d="M556.1 1534.5L585.1 1533.0L585.1 1544.0L556.1 1545.5Z" fill="#000" opacity="0.85" filter="url(#f2)"/>
<rect x="556.1" y="1530.0" width="8.0" height="15.5" rx="2" fill="#000" opacity="1" filter="url(#f2)"/>
<rect x="577.1" y="1528.5" width="8.0" height="15.5" rx="2" fill="#000" opacity="1" filter="url(#f2)"/>
<rect x="557.1" y="1545.5" width="27.0" height="47.9" rx="3" fill="#000" opacity="0.08" filter="url(#f2)"/>
<rect x="556.1" y="1545.5" width="4.0" height="47.9" fill="url(#g62)" opacity="1" filter="url(#f2)"/>
<rect x="581.1" y="1545.5" width="4.0" height="47.9" fill="url(#g62)" opacity="1" filter="url(#f2)"/>
<rect x="557.1" y="1589.9" width="27.0" height="7.0" rx="2" fill="#000" opacity="0.3" filter="url(#f1_6)"/>
<ellipse cx="566.6" cy="1633.0" rx="12.0" ry="8.0" fill="#000" opacity="0.04" filter="url(#f3)"/>
<ellipse cx="568.6" cy="1668.0" rx="11.0" ry="3.0" fill="#000" opacity="0.1" filter="url(#f2)"/>
<rect x="556.6" y="1718.0" width="26.0" height="40.0" rx="3" fill="#000" opacity="0.025" filter="url(#f4)"/>
<rect x="599.3" y="1430.0" width="25.4" height="70.0" fill="url(#g63)" opacity="1" filter="url(#f3)"/>
<rect x="598.3" y="1508.8" width="27.4" height="24.6" rx="3" fill="#000" opacity="0.2" filter="url(#f2)"/>
<rect x="597.3" y="1511.8" width="5.0" height="22.6" fill="url(#g64)" opacity="1" filter="url(#f1_6)"/>
<rect x="621.7" y="1511.8" width="5.0" height="22.6" fill="url(#g64)" opacity="1" filter="url(#f1_6)"/>
<path d="M597.3 1501.3L626.7 1499.3L626.7 1509.8L597.3 1511.8Z" fill="#000" opacity="0.92" filter="url(#f2)"/>
<rect x="597.3" y="1495.5" width="8.0" height="16.3" rx="2" fill="#000" opacity="1" filter="url(#f2)"/>
<rect x="618.7" y="1493.5" width="8.0" height="16.3" rx="2" fill="#000" opacity="1" filter="url(#f2)"/>
<path d="M597.3 1531.8L626.7 1529.8L626.7 1540.8L597.3 1542.8Z" fill="#000" opacity="0.85" filter="url(#f2)"/>
<rect x="597.3" y="1530.4" width="8.0" height="12.4" rx="2" fill="#000" opacity="1" filter="url(#f2)"/>
<rect x="618.7" y="1528.4" width="8.0" height="12.4" rx="2" fill="#000" opacity="1" filter="url(#f2)"/>
<rect x="598.3" y="1542.8" width="27.4" height="48.2" rx="3" fill="#000" opacity="0.08" filter="url(#f2)"/>
<rect x="597.3" y="1542.8" width="4.0" height="48.2" fill="url(#g65)" opacity="1" filter="url(#f2)"/>
<rect x="622.7" y="1542.8" width="4.0" height="48.2" fill="url(#g65)" opacity="1" filter="url(#f2)"/>
<rect x="598.3" y="1587.5" width="27.4" height="7.0" rx="2" fill="#000" opacity="0.3" filter="url(#f1_6)"/>
<ellipse cx="608.0" cy="1633.0" rx="12.0" ry="8.0" fill="#000" opacity="0.04" filter="url(#f3)"/>
<ellipse cx="610.0" cy="1668.0" rx="11.0" ry="3.0" fill="#000" opacity="0.1" filter="url(#f2)"/>
<rect x="598.0" y="1718.0" width="26.0" height="40.0" rx="3" fill="#000" opacity="0.025" filter="url(#f4)"/>
<rect x="641.7" y="1430.0" width="24.6" height="70.0" fill="url(#g66)" opacity="1" filter="url(#f3)"/>
<rect x="640.7" y="1503.4" width="26.6" height="21.6" rx="3" fill="#000" opacity="0.2" filter="url(#f2)"/>
<rect x="639.7" y="1506.4" width="5.0" height="19.6" fill="url(#g67)" opacity="1" filter="url(#f1_6)"/>
<rect x="663.3" y="1506.4" width="5.0" height="19.6" fill="url(#g67)" opacity="1" filter="url(#f1_6)"/>
<path d="M639.7 1495.9L668.3 1492.4L668.3 1502.9L639.7 1506.4Z" fill="#000" opacity="0.92" filter="url(#f2)"/>
<rect x="639.7" y="1491.0" width="8.0" height="15.4" rx="2" fill="#000" opacity="1" filter="url(#f2)"/>
<rect x="660.3" y="1487.5" width="8.0" height="15.4" rx="2" fill="#000" opacity="1" filter="url(#f2)"/>
<path d="M639.7 1529.5L668.3 1526.0L668.3 1537.0L639.7 1540.5Z" fill="#000" opacity="0.85" filter="url(#f2)"/>
<rect x="639.7" y="1522.0" width="8.0" height="18.5" rx="2" fill="#000" opacity="1" filter="url(#f2)"/>
<rect x="660.3" y="1518.5" width="8.0" height="18.5" rx="2" fill="#000" opacity="1" filter="url(#f2)"/>
<rect x="640.7" y="1540.5" width="26.6" height="45.1" rx="3" fill="#000" opacity="0.08" filter="url(#f2)"/>
<rect x="639.7" y="1540.5" width="4.0" height="45.1" fill="url(#g68)" opacity="1" filter="url(#f2)"/>
<rect x="664.3" y="1540.5" width="4.0" height="45.1" fill="url(#g68)" opacity="1" filter="url(#f2)"/>
<rect x="640.7" y="1582.1" width="26.6" height="7.0" rx="2" fill="#000" opacity="0.38" filter="url(#f1_6)"/>
<ellipse cx="650.0" cy="1633.0" rx="12.0" ry="8.0" fill="#000" opacity="0.04" filter="url(#f3)"/>
<ellipse cx="652.0" cy="1668.0" rx="11.0" ry="3.0" fill="#000" opacity="0.1" filter="url(#f2)"/>
<rect x="640.0" y="1718.0" width="26.0" height="40.0" rx="3" fill="#000" opacity="0.025" filter="url(#f4)"/>
</g>
<rect x="79.3" y="1388.8" width="604.0" height="403.6" fill="none" stroke="#231f20" stroke-width="1.5"/>
<rect x="963.4" y="783.6" width="224.10000000000002" height="359.6" fill="#fefefe"/>
<g clip-path="url(#c69)">
<rect x="980.5" y="788.0" width="3.0" height="350.0" rx="3" fill="#000" opacity="0.05" filter="url(#f0_9)"/>
<path d="M1079.0 795.0L1081.0 797.0Q1082.0 799.0 1085.0 799.0L1095.0 799.0Q1098.0 799.0 1099.0 797.0L1101.0 795.0" fill="none" stroke="#000" stroke-width="1.2" opacity="0.12"/>
<path d="M1116.6 795.0L1118.6 797.0Q1119.6 799.0 1122.6 799.0L1132.6 799.0Q1135.6 799.0 1136.6 797.0L1138.6 795.0" fill="none" stroke="#000" stroke-width="1.2" opacity="0.12"/>
<path d="M1154.4 795.0L1156.4 797.0Q1157.4 799.0 1160.4 799.0L1170.4 799.0Q1173.4 799.0 1174.4 797.0L1176.4 795.0" fill="none" stroke="#000" stroke-width="1.2" opacity="0.12"/>
<rect x="1078.8" y="818.0" width="3.5" height="32.0" fill="url(#g70)" opacity="1" filter="url(#f1_2)"/>
<rect x="1097.8" y="818.0" width="3.5" height="32.0" fill="url(#g70)" opacity="1" filter="url(#f1_2)"/>
<rect x="1078.8" y="850.0" width="5.0" height="262.0" fill="url(#g71)" opacity="1" filter="url(#f2_5)"/>
<rect x="1096.2" y="850.0" width="5.0" height="262.0" fill="url(#g71)" opacity="1" filter="url(#f2_5)"/>
<rect x="1080.0" y="850.0" width="20.0" height="262.0" fill="url(#g72)" opacity="1" filter="url(#f3)"/>
<ellipse cx="1090.0" cy="832.0" rx="9.0" ry="2.0" fill="#000" opacity="0.12" filter="url(#f1_6)"/>
<rect x="1115.1" y="812.0" width="5.0" height="40.0" fill="url(#g73)" opacity="1" filter="url(#f1_2)"/>
<rect x="1135.1" y="812.0" width="5.0" height="40.0" fill="url(#g73)" opacity="1" filter="url(#f1_2)"/>
<rect x="1115.1" y="852.0" width="5.0" height="260.0" fill="url(#g74)" opacity="1" filter="url(#f2_5)"/>
<rect x="1135.1" y="852.0" width="5.0" height="260.0" fill="url(#g74)" opacity="1" filter="url(#f2_5)"/>
<rect x="1116.6" y="850.0" width="22.0" height="175.0" fill="url(#g75)" opacity="1" filter="url(#f3)"/>
<ellipse cx="1127.6" cy="831.0" rx="10.0" ry="2.0" fill="#000" opacity="0.12" filter="url(#f1_6)"/>
<rect x="1152.2" y="808.0" width="6.5" height="44.0" fill="url(#g76)" opacity="1" filter="url(#f1_2)"/>
<rect x="1172.2" y="808.0" width="6.5" height="44.0" fill="url(#g76)" opacity="1" filter="url(#f1_2)"/>
<rect x="1155.0" y="836.0" width="22.0" height="12.0" rx="3" fill="#000" opacity="0.75" filter="url(#f2)"/>
<ellipse cx="1165.4" cy="830.0" rx="10.0" ry="2.0" fill="#000" opacity="0.15" filter="url(#f1_6)"/>
<rect x="1153.4" y="850.0" width="24.0" height="150.0" fill="url(#g77)" opacity="1" filter="url(#f3)"/>
<rect x="1014.0" y="1040.0" width="22.0" height="72.0" fill="url(#g78)" opacity="1" filter="url(#f3)"/>
<rect x="1043.0" y="1060.0" width="22.0" height="52.0" fill="url(#g79)" opacity="1" filter="url(#f3)"/>
<rect x="1012.0" y="1115.0" width="25.0" height="13.0" rx="5" fill="#000" opacity="1" filter="url(#f1_2)"/>
<rect x="1041.8" y="1117.0" width="25.0" height="11.6" rx="5" fill="#000" opacity="1" filter="url(#f1_2)"/>
<rect x="1079.0" y="1118.0" width="20.0" height="9.0" rx="5" fill="#000" opacity="1" filter="url(#f1_2)"/>
<rect x="1120.0" y="1118.5" width="16.0" height="7.0" rx="5" fill="#000" opacity="0.75" filter="url(#f1_2)"/>
<rect x="1156.0" y="1119.0" width="17.0" height="6.0" rx="5" fill="#000" opacity="0.28" filter="url(#f1_2)"/>
</g>
<rect x="963.4" y="783.6" width="224.1" height="359.6" fill="none" stroke="#231f20" stroke-width="1.5"/>
<rect x="1200.5" y="783.6" width="497.29999999999995" height="359.6" fill="#fefefe"/>
<g clip-path="url(#c80)">
<path d="M1400.0 793.0L1402.0 795.0Q1403.0 797.0 1406.0 797.0L1416.0 797.0Q1419.0 797.0 1420.0 795.0L1422.0 793.0" fill="none" stroke="#000" stroke-width="1.2" opacity="0.12"/>
<path d="M1437.5 793.0L1439.5 795.0Q1440.5 797.0 1443.5 797.0L1453.5 797.0Q1456.5 797.0 1457.5 795.0L1459.5 793.0" fill="none" stroke="#000" stroke-width="1.2" opacity="0.12"/>
<path d="M1474.6 793.0L1476.6 795.0Q1477.6 797.0 1480.6 797.0L1490.6 797.0Q1493.6 797.0 1494.6 795.0L1496.6 793.0" fill="none" stroke="#000" stroke-width="1.2" opacity="0.12"/>
<path d="M1512.3 793.0L1514.3 795.0Q1515.3 797.0 1518.3 797.0L1528.3 797.0Q1531.3 797.0 1532.3 795.0L1534.3 793.0" fill="none" stroke="#000" stroke-width="1.2" opacity="0.12"/>
<path d="M1550.0 793.0L1552.0 795.0Q1553.0 797.0 1556.0 797.0L1566.0 797.0Q1569.0 797.0 1570.0 795.0L1572.0 793.0" fill="none" stroke="#000" stroke-width="1.2" opacity="0.12"/>
<path d="M1586.0 793.0L1588.0 795.0Q1589.0 797.0 1592.0 797.0L1602.0 797.0Q1605.0 797.0 1606.0 795.0L1608.0 793.0" fill="none" stroke="#000" stroke-width="1.2" opacity="0.12"/>
<path d="M1623.0 793.0L1625.0 795.0Q1626.0 797.0 1629.0 797.0L1639.0 797.0Q1642.0 797.0 1643.0 795.0L1645.0 793.0" fill="none" stroke="#000" stroke-width="1.2" opacity="0.12"/>
<path d="M1661.0 793.0L1663.0 795.0Q1664.0 797.0 1667.0 797.0L1677.0 797.0Q1680.0 797.0 1681.0 795.0L1683.0 793.0" fill="none" stroke="#000" stroke-width="1.2" opacity="0.12"/>
<rect x="1549.5" y="797.0" width="1.5" height="58.0" fill="url(#g81)" opacity="1" filter="url(#f0_9)"/>
<rect x="1571.0" y="797.0" width="1.5" height="58.0" fill="url(#g81)" opacity="1" filter="url(#f0_9)"/>
<rect x="1585.5" y="797.0" width="1.5" height="58.0" fill="url(#g82)" opacity="1" filter="url(#f0_9)"/>
<rect x="1607.0" y="797.0" width="1.5" height="58.0" fill="url(#g82)" opacity="1" filter="url(#f0_9)"/>
<rect x="1622.5" y="797.0" width="1.5" height="58.0" fill="url(#g83)" opacity="1" filter="url(#f0_9)"/>
<rect x="1644.0" y="797.0" width="1.5" height="58.0" fill="url(#g83)" opacity="1" filter="url(#f0_9)"/>
<rect x="1660.5" y="797.0" width="1.5" height="58.0" fill="url(#g84)" opacity="1" filter="url(#f0_9)"/>
<rect x="1682.0" y="797.0" width="1.5" height="58.0" fill="url(#g84)" opacity="1" filter="url(#f0_9)"/>
<rect x="1399.0" y="797.0" width="4.5" height="53.0" fill="url(#g85)" opacity="1" filter="url(#f1_2)"/>
<rect x="1418.5" y="797.0" width="4.5" height="53.0" fill="url(#g85)" opacity="1" filter="url(#f1_2)"/>
<rect x="1401.5" y="820.7" width="19.0" height="7.2" fill="#000" opacity="0.10" filter="url(#f2)"/>
<path d="M1399.0 818.0L1399.0 827.8Q1399.0 832.0 1403.2 832.0L1418.8 832.0Q1423.0 832.0 1423.0 827.8L1423.0 818.0L1420.0 818.0L1418.0 825.0C1418.0 827.7 1404.0 827.7 1404.0 825.0L1402.0 818.0Z" fill="#000" opacity="0.35" filter="url(#f1_2)"/>
<rect x="1399.0" y="835.0" width="5.0" height="280.0" fill="url(#g86)" opacity="1" filter="url(#f2_5)"/>
<rect x="1418.0" y="835.0" width="5.0" height="280.0" fill="url(#g86)" opacity="1" filter="url(#f2_5)"/>
<rect x="1401.0" y="835.0" width="20.0" height="280.0" fill="url(#g87)" opacity="1" filter="url(#f2)"/>
<rect x="1436.2" y="797.0" width="4.5" height="38.0" fill="url(#g88)" opacity="1" filter="url(#f1_2)"/>
<rect x="1456.2" y="797.0" width="4.5" height="38.0" fill="url(#g88)" opacity="1" filter="url(#f1_2)"/>
<rect x="1438.8" y="820.7" width="19.5" height="7.2" fill="#000" opacity="0.17" filter="url(#f2)"/>
<path d="M1436.2 818.0L1436.2 827.8Q1436.2 832.0 1440.5 832.0L1456.5 832.0Q1460.8 832.0 1460.8 827.8L1460.8 818.0L1457.8 818.0L1455.8 825.0C1455.8 827.7 1441.2 827.7 1441.2 825.0L1439.2 818.0Z" fill="#000" opacity="0.55" filter="url(#f1_2)"/>
<rect x="1436.2" y="835.0" width="5.0" height="280.0" fill="url(#g89)" opacity="1" filter="url(#f2_5)"/>
<rect x="1455.8" y="835.0" width="5.0" height="280.0" fill="url(#g89)" opacity="1" filter="url(#f2_5)"/>
<rect x="1438.2" y="835.0" width="20.5" height="280.0" fill="url(#g90)" opacity="1" filter="url(#f2)"/>
<rect x="1472.8" y="797.0" width="4.5" height="45.0" fill="url(#g91)" opacity="1" filter="url(#f1_2)"/>
<rect x="1493.8" y="797.0" width="4.5" height="45.0" fill="url(#g91)" opacity="1" filter="url(#f1_2)"/>
<rect x="1475.3" y="820.7" width="20.5" height="7.2" fill="#000" opacity="0.27" filter="url(#f2)"/>
<path d="M1472.8 818.0L1472.8 827.8Q1472.8 832.0 1477.0 832.0L1494.1 832.0Q1498.3 832.0 1498.3 827.8L1498.3 818.0L1495.3 818.0L1493.3 825.0C1493.3 827.7 1477.8 827.7 1477.8 825.0L1475.8 818.0Z" fill="#000" opacity="0.9" filter="url(#f1_2)"/>
<rect x="1472.8" y="835.0" width="5.0" height="280.0" fill="url(#g92)" opacity="1" filter="url(#f2_5)"/>
<rect x="1493.3" y="835.0" width="5.0" height="280.0" fill="url(#g92)" opacity="1" filter="url(#f2_5)"/>
<rect x="1474.8" y="835.0" width="21.5" height="280.0" fill="url(#g93)" opacity="1" filter="url(#f2)"/>
<rect x="1510.0" y="797.0" width="4.5" height="51.0" fill="url(#g94)" opacity="1" filter="url(#f1_2)"/>
<rect x="1532.0" y="797.0" width="4.5" height="51.0" fill="url(#g94)" opacity="1" filter="url(#f1_2)"/>
<rect x="1512.5" y="820.7" width="21.5" height="7.2" fill="#000" opacity="0.30" filter="url(#f2)"/>
<path d="M1510.0 818.0L1510.0 827.8Q1510.0 832.0 1514.2 832.0L1532.3 832.0Q1536.5 832.0 1536.5 827.8L1536.5 818.0L1533.5 818.0L1531.5 825.0C1531.5 827.7 1515.0 827.7 1515.0 825.0L1513.0 818.0Z" fill="#000" opacity="1" filter="url(#f1_2)"/>
<rect x="1510.0" y="835.0" width="5.0" height="280.0" fill="url(#g95)" opacity="1" filter="url(#f2_5)"/>
<rect x="1531.5" y="835.0" width="5.0" height="280.0" fill="url(#g95)" opacity="1" filter="url(#f2_5)"/>
<rect x="1512.0" y="835.0" width="22.5" height="280.0" fill="url(#g96)" opacity="1" filter="url(#f2)"/>
<rect x="1512.0" y="832.0" width="23.0" height="12.0" rx="3" fill="#000" opacity="0.28" filter="url(#f2_5)"/>
<rect x="1512.3" y="845.0" width="22.0" height="145.0" fill="url(#g97)" opacity="1" filter="url(#f3)"/>
<g transform="translate(0,0)">
<path d="M1206.8 1073Q1209 1115 1224 1131" fill="none" stroke="url(#g98)" stroke-width="3.2" filter="url(#f1_6)"/>
<path d="M1238.4 1077Q1242 1100 1245.5 1124" fill="none" stroke="url(#g98)" stroke-width="2.6" filter="url(#f1_6)"/>
<path d="M1254.8 1074Q1258 1105 1265.5 1125" fill="none" stroke="url(#g98)" stroke-width="3.4" filter="url(#f1_6)"/>
<path d="M1280.8 1084Q1284 1105 1288.5 1124" fill="none" stroke="url(#g98)" stroke-width="2.6" filter="url(#f1_6)"/>
<path d="M1292.5 1084Q1294 1105 1296 1121" fill="none" stroke="url(#g98)" stroke-width="2.6" filter="url(#f1_6)"/>
<path d="M1315 1084Q1316 1105 1318 1119" fill="none" stroke="url(#g98)" stroke-width="2.6" filter="url(#f1_6)"/>
<path d="M1221 1131Q1222 1127 1230 1127L1246 1123.5Q1248.5 1126 1244 1130.5Q1236 1138 1228.5 1141.5Q1221 1140 1221 1131Z" fill="#000" filter="url(#f1_2)"/>
<path d="M1261 1129Q1261.5 1123.5 1266 1123.3L1317.8 1119.5Q1321.5 1121 1320.5 1124.5Q1318 1128 1300 1133L1268 1136.8Q1261 1137 1261 1129Z" fill="#000" filter="url(#f1_2)"/>
</g>
<rect x="1400.0" y="1114.7" width="28.4" height="11.3" rx="5" fill="#000" opacity="1" filter="url(#f1_2)"/>
<rect x="1437.9" y="1115.0" width="24.4" height="11.0" rx="5" fill="#000" opacity="1" filter="url(#f1_2)"/>
<rect x="1473.6" y="1115.0" width="24.4" height="10.0" rx="5" fill="#000" opacity="1" filter="url(#f1_2)"/>
<rect x="1517.0" y="1116.5" width="20.7" height="6.5" rx="5" fill="#000" opacity="0.8" filter="url(#f1_2)"/>
<g transform="translate(0,0)">
<path d="M1548 1072Q1549 1105 1553 1119" fill="none" stroke="url(#g99)" stroke-width="2.6" filter="url(#f1_6)"/>
<path d="M1576 1080Q1576 1102 1574 1116" fill="none" stroke="url(#g99)" stroke-width="2.6" filter="url(#f1_6)"/>
<path d="M1581.5 1076Q1582 1105 1586 1119" fill="none" stroke="url(#g99)" stroke-width="2.6" filter="url(#f1_6)"/>
<path d="M1607.5 1082Q1607.5 1105 1607 1119" fill="none" stroke="url(#g99)" stroke-width="2.6" filter="url(#f1_6)"/>
<path d="M1610.5 1080Q1611 1105 1614 1122" fill="none" stroke="url(#g99)" stroke-width="2.6" filter="url(#f1_6)"/>
<path d="M1641.5 1080Q1641.5 1108 1640 1124" fill="none" stroke="url(#g99)" stroke-width="2.6" filter="url(#f1_6)"/>
<path d="M1645 1082Q1646 1108 1649 1125" fill="none" stroke="url(#g99)" stroke-width="2.6" filter="url(#f1_6)"/>
<path d="M1687 1064Q1685 1112 1668 1127" fill="none" stroke="url(#g99)" stroke-width="2.6" filter="url(#f1_6)"/>
<rect x="1550.5" y="1115.1" width="24.0" height="12.8" rx="6.4" fill="#000" transform="rotate(0 1562.5 1121.5)" filter="url(#f1_2)"/>
<rect x="1582.6" y="1116.4" width="24.0" height="12.8" rx="6.4" fill="#000" transform="rotate(4 1594.6 1122.8)" filter="url(#f1_2)"/>
<rect x="1607.6" y="1119.5" width="32.0" height="12.6" rx="6.3" fill="#000" transform="rotate(8 1623.6 1125.8)" filter="url(#f1_2)"/>
<rect x="1645.4" y="1121.5" width="23.0" height="13.6" rx="6.8" fill="#000" transform="rotate(10 1656.9 1128.3)" filter="url(#f1_2)"/>
</g>
<rect x="1401.5" y="1040.0" width="4.0" height="76.0" fill="url(#g100)" opacity="1" filter="url(#f1_6)"/>
<rect x="1422.5" y="1040.0" width="4.0" height="76.0" fill="url(#g100)" opacity="1" filter="url(#f1_6)"/>
<rect x="1437.5" y="1040.0" width="4.0" height="76.0" fill="url(#g101)" opacity="1" filter="url(#f1_6)"/>
<rect x="1458.5" y="1040.0" width="4.0" height="76.0" fill="url(#g101)" opacity="1" filter="url(#f1_6)"/>
<rect x="1473.5" y="1040.0" width="4.0" height="76.0" fill="url(#g102)" opacity="1" filter="url(#f1_6)"/>
<rect x="1494.5" y="1040.0" width="4.0" height="76.0" fill="url(#g102)" opacity="1" filter="url(#f1_6)"/>
</g>
<rect x="1200.5" y="783.6" width="497.3" height="359.6" fill="none" stroke="#231f20" stroke-width="1.5"/>
<rect x="963.4" y="1157.5" width="224.30000000000007" height="232.4000000000001" fill="#fefefe"/>
<g clip-path="url(#c103)">
<rect x="1024.0" y="1182.0" width="26.0" height="74.0" fill="url(#g104)" opacity="1" filter="url(#f2)"/>
<ellipse cx="1037.0" cy="1227.2" rx="12.0" ry="2.5" fill="#000" opacity="0.13" filter="url(#f1_6)"/>
<rect x="1024.8" y="1258.7" width="24.5" height="15.2" fill="#000" opacity="0.30" filter="url(#f2_5)"/>
<path d="M1020.8 1253.0L1020.8 1279.5Q1020.8 1285.5 1026.8 1285.5L1047.2 1285.5Q1053.2 1285.5 1053.2 1279.5L1053.2 1253.0L1048.5 1253.0L1045.2 1267.8C1045.2 1273.4 1028.8 1273.4 1028.8 1267.8L1025.5 1253.0Z" fill="#000" opacity="1" filter="url(#f1_6)"/>
<rect x="1023.0" y="1284.0" width="28.0" height="81.0" fill="url(#g105)" opacity="1" filter="url(#f3)"/>
<rect x="1065.7" y="1210.0" width="5.0" height="44.0" fill="url(#g106)" opacity="1" filter="url(#f1_6)"/>
<rect x="1087.7" y="1210.0" width="5.0" height="44.0" fill="url(#g106)" opacity="1" filter="url(#f1_6)"/>
<rect x="1068.7" y="1240.1" width="21.0" height="5.6" fill="#000" opacity="0.18" filter="url(#f2_5)"/>
<path d="M1065.7 1238.0L1065.7 1247.1Q1065.7 1251.0 1069.6 1251.0L1088.8 1251.0Q1092.7 1251.0 1092.7 1247.1L1092.7 1238.0L1089.1 1238.0L1086.7 1243.5C1086.7 1245.5 1071.7 1245.5 1071.7 1243.5L1069.3 1238.0Z" fill="#000" opacity="0.6" filter="url(#f1_6)"/>
<rect x="1066.5" y="1251.0" width="25.5" height="32.0" rx="3" fill="#000" opacity="0.2" filter="url(#f2)"/>
<rect x="1066.2" y="1251.0" width="4.0" height="32.0" fill="url(#g107)" opacity="1" filter="url(#f1_6)"/>
<rect x="1088.2" y="1251.0" width="4.0" height="32.0" fill="url(#g107)" opacity="1" filter="url(#f1_6)"/>
<rect x="1067.0" y="1276.0" width="24.5" height="6.0" rx="3" fill="#000" opacity="0.3" filter="url(#f1_6)"/>
<rect x="1107.8" y="1212.0" width="7.0" height="44.0" fill="url(#g108)" opacity="1" filter="url(#f1_6)"/>
<rect x="1129.2" y="1212.0" width="7.0" height="44.0" fill="url(#g108)" opacity="1" filter="url(#f1_6)"/>
<rect x="1112.2" y="1238.1" width="19.5" height="5.6" fill="#000" opacity="0.30" filter="url(#f2_5)"/>
<path d="M1107.8 1236.0L1107.8 1249.0Q1107.8 1254.5 1113.3 1254.5L1130.7 1254.5Q1136.2 1254.5 1136.2 1249.0L1136.2 1236.0L1130.8 1236.0L1127.2 1241.5C1127.2 1243.5 1116.8 1243.5 1116.8 1241.5L1113.2 1236.0Z" fill="#000" opacity="1" filter="url(#f1_6)"/>
<rect x="1109.0" y="1254.0" width="26.0" height="29.0" rx="3" fill="#000" opacity="0.27" filter="url(#f2)"/>
<rect x="1108.2" y="1254.0" width="4.0" height="29.0" fill="url(#g109)" opacity="1" filter="url(#f1_6)"/>
<rect x="1131.8" y="1254.0" width="4.0" height="29.0" fill="url(#g109)" opacity="1" filter="url(#f1_6)"/>
<rect x="1109.5" y="1276.0" width="25.0" height="6.0" rx="3" fill="#000" opacity="0.35" filter="url(#f1_6)"/>
<rect x="1110.0" y="1285.0" width="24.0" height="80.0" fill="url(#g110)" opacity="1" filter="url(#f3)"/>
<rect x="1149.8" y="1205.0" width="7.0" height="53.0" fill="url(#g111)" opacity="1" filter="url(#f1_6)"/>
<rect x="1171.8" y="1205.0" width="7.0" height="53.0" fill="url(#g111)" opacity="1" filter="url(#f1_6)"/>
<rect x="1154.3" y="1228.3" width="20.0" height="8.8" fill="#000" opacity="0.30" filter="url(#f2_5)"/>
<path d="M1149.8 1225.0L1149.8 1251.0Q1149.8 1257.0 1155.8 1257.0L1172.8 1257.0Q1178.8 1257.0 1178.8 1251.0L1178.8 1225.0L1173.4 1225.0L1169.8 1233.6C1169.8 1236.8 1158.8 1236.8 1158.8 1233.6L1155.2 1225.0Z" fill="#000" opacity="1" filter="url(#f1_6)"/>
<rect x="1151.0" y="1256.0" width="26.5" height="27.0" rx="3" fill="#000" opacity="0.36" filter="url(#f2)"/>
<rect x="1150.0" y="1256.0" width="4.0" height="27.0" fill="url(#g112)" opacity="1" filter="url(#f1_6)"/>
<rect x="1174.5" y="1256.0" width="4.0" height="27.0" fill="url(#g112)" opacity="1" filter="url(#f1_6)"/>
<rect x="1151.5" y="1275.0" width="25.5" height="7.5" rx="3" fill="#000" opacity="0.5" filter="url(#f1_6)"/>
<rect x="1152.3" y="1285.0" width="24.0" height="80.0" fill="url(#g113)" opacity="1" filter="url(#f3)"/>
</g>
<rect x="963.4" y="1157.5" width="224.3" height="232.4" fill="none" stroke="#231f20" stroke-width="1.5"/>
<rect x="1200.5" y="1157.5" width="497.70000000000005" height="232.4000000000001" fill="#fefefe"/>
<g clip-path="url(#c114)">
<rect x="1336.4" y="1188.0" width="23.3" height="45.0" rx="3" fill="#000" opacity="0.04" filter="url(#f2)"/>
<path d="M1334.4 1187.0L1334.4 1247.7Q1334.4 1253.7 1340.4 1253.7L1355.8 1253.7Q1361.8 1253.7 1361.8 1247.7L1361.8 1187.0L1359.3 1187.0L1356.2 1222.9C1356.2 1236.3 1339.9 1236.3 1339.9 1222.9L1336.9 1187.0Z" fill="#000" opacity="1.0" filter="url(#f1_2)"/>
<rect x="1334.4" y="1231.0" width="27.3" height="22.7" rx="5" fill="#000" opacity="1.0" filter="url(#f1_6)"/>
<ellipse cx="1348.1" cy="1216.5" rx="9.7" ry="3.0" fill="#000" opacity="0.06" filter="url(#f2)"/>
<rect x="1337.4" y="1253.0" width="21.3" height="22.0" fill="url(#g115)" opacity="1" filter="url(#f3)"/>
<rect x="1373.0" y="1188.0" width="24.0" height="46.0" rx="3" fill="#000" opacity="0.04" filter="url(#f2)"/>
<path d="M1371.0 1187.0L1371.0 1247.7Q1371.0 1253.7 1377.0 1253.7L1393.0 1253.7Q1399.0 1253.7 1399.0 1247.7L1399.0 1187.0L1396.5 1187.0L1393.5 1223.7C1393.5 1237.4 1376.5 1237.4 1376.5 1223.7L1373.5 1187.0Z" fill="#000" opacity="1.0" filter="url(#f1_2)"/>
<rect x="1371.0" y="1232.0" width="28.0" height="21.7" rx="5" fill="#000" opacity="1.0" filter="url(#f1_6)"/>
<ellipse cx="1385.0" cy="1216.5" rx="10.0" ry="3.0" fill="#000" opacity="0.06" filter="url(#f2)"/>
<rect x="1374.0" y="1253.0" width="22.0" height="22.0" fill="url(#g116)" opacity="1" filter="url(#f3)"/>
<rect x="1410.5" y="1188.0" width="21.0" height="52.0" rx="3" fill="#000" opacity="0.01" filter="url(#f2)"/>
<path d="M1408.5 1187.0L1408.5 1247.7Q1408.5 1253.7 1414.5 1253.7L1427.5 1253.7Q1433.5 1253.7 1433.5 1247.7L1433.5 1187.0L1431.0 1187.0L1428.0 1228.3C1428.0 1243.8 1414.0 1243.8 1414.0 1228.3L1411.0 1187.0Z" fill="#000" opacity="0.25" filter="url(#f1_2)"/>
<rect x="1408.5" y="1238.0" width="25.0" height="15.7" rx="5" fill="#000" opacity="0.35" filter="url(#f1_6)"/>
<ellipse cx="1421.0" cy="1216.5" rx="8.5" ry="3.0" fill="#000" opacity="0.015" filter="url(#f2)"/>
<rect x="1411.5" y="1253.0" width="19.0" height="22.0" fill="url(#g117)" opacity="1" filter="url(#f3)"/>
<rect x="1446.6" y="1188.0" width="22.0" height="52.0" rx="3" fill="#000" opacity="0.034" filter="url(#f2)"/>
<path d="M1444.6 1187.0L1444.6 1247.7Q1444.6 1253.7 1450.6 1253.7L1464.6 1253.7Q1470.6 1253.7 1470.6 1247.7L1470.6 1187.0L1468.1 1187.0L1465.1 1228.3C1465.1 1243.8 1450.1 1243.8 1450.1 1228.3L1447.1 1187.0Z" fill="#000" opacity="0.85" filter="url(#f1_2)"/>
<rect x="1444.6" y="1238.0" width="26.0" height="15.7" rx="5" fill="#000" opacity="0.7" filter="url(#f1_6)"/>
<ellipse cx="1457.6" cy="1216.5" rx="9.0" ry="3.0" fill="#000" opacity="0.051" filter="url(#f2)"/>
<rect x="1447.6" y="1253.0" width="20.0" height="22.0" fill="url(#g118)" opacity="1" filter="url(#f3)"/>
<rect x="1482.8" y="1188.0" width="22.0" height="53.0" rx="3" fill="#000" opacity="0.038" filter="url(#f2)"/>
<path d="M1480.8 1187.0L1480.8 1247.7Q1480.8 1253.7 1486.8 1253.7L1500.8 1253.7Q1506.8 1253.7 1506.8 1247.7L1506.8 1187.0L1504.3 1187.0L1501.3 1229.1C1501.3 1244.9 1486.3 1244.9 1486.3 1229.1L1483.3 1187.0Z" fill="#000" opacity="0.95" filter="url(#f1_2)"/>
<rect x="1480.8" y="1239.0" width="26.0" height="14.7" rx="5" fill="#000" opacity="0.9" filter="url(#f1_6)"/>
<ellipse cx="1493.8" cy="1216.5" rx="9.0" ry="3.0" fill="#000" opacity="0.056999999999999995" filter="url(#f2)"/>
<rect x="1483.8" y="1253.0" width="20.0" height="22.0" fill="url(#g119)" opacity="1" filter="url(#f3)"/>
<rect x="1519.0" y="1188.0" width="23.0" height="46.0" rx="3" fill="#000" opacity="0.04" filter="url(#f2)"/>
<path d="M1517.0 1187.0L1517.0 1247.7Q1517.0 1253.7 1523.0 1253.7L1538.0 1253.7Q1544.0 1253.7 1544.0 1247.7L1544.0 1187.0L1541.5 1187.0L1538.5 1223.7C1538.5 1237.4 1522.5 1237.4 1522.5 1223.7L1519.5 1187.0Z" fill="#000" opacity="1.0" filter="url(#f1_2)"/>
<rect x="1517.0" y="1232.0" width="27.0" height="21.7" rx="5" fill="#000" opacity="1.0" filter="url(#f1_6)"/>
<ellipse cx="1530.5" cy="1216.5" rx="9.5" ry="3.0" fill="#000" opacity="0.06" filter="url(#f2)"/>
<rect x="1520.0" y="1253.0" width="21.0" height="22.0" fill="url(#g120)" opacity="1" filter="url(#f3)"/>
<rect x="1556.8" y="1188.0" width="20.5" height="52.0" rx="3" fill="#000" opacity="0.012" filter="url(#f2)"/>
<path d="M1554.8 1187.0L1554.8 1247.7Q1554.8 1253.7 1560.8 1253.7L1573.2 1253.7Q1579.2 1253.7 1579.2 1247.7L1579.2 1187.0L1576.8 1187.0L1573.8 1228.3C1573.8 1243.8 1560.2 1243.8 1560.2 1228.3L1557.2 1187.0Z" fill="#000" opacity="0.3" filter="url(#f1_2)"/>
<rect x="1554.8" y="1238.0" width="24.5" height="15.7" rx="5" fill="#000" opacity="0.4" filter="url(#f1_6)"/>
<ellipse cx="1567.0" cy="1216.5" rx="8.2" ry="3.0" fill="#000" opacity="0.018" filter="url(#f2)"/>
<rect x="1557.8" y="1253.0" width="18.5" height="22.0" fill="url(#g121)" opacity="1" filter="url(#f3)"/>
<rect x="1592.5" y="1188.0" width="22.0" height="52.0" rx="3" fill="#000" opacity="0.027999999999999997" filter="url(#f2)"/>
<path d="M1590.5 1187.0L1590.5 1247.7Q1590.5 1253.7 1596.5 1253.7L1610.5 1253.7Q1616.5 1253.7 1616.5 1247.7L1616.5 1187.0L1614.0 1187.0L1611.0 1228.3C1611.0 1243.8 1596.0 1243.8 1596.0 1228.3L1593.0 1187.0Z" fill="#000" opacity="0.7" filter="url(#f1_2)"/>
<rect x="1590.5" y="1238.0" width="26.0" height="15.7" rx="5" fill="#000" opacity="0.85" filter="url(#f1_6)"/>
<ellipse cx="1603.5" cy="1216.5" rx="9.0" ry="3.0" fill="#000" opacity="0.041999999999999996" filter="url(#f2)"/>
<rect x="1593.5" y="1253.0" width="20.0" height="22.0" fill="url(#g122)" opacity="1" filter="url(#f3)"/>
<rect x="1628.7" y="1188.0" width="22.0" height="51.0" rx="3" fill="#000" opacity="0.036000000000000004" filter="url(#f2)"/>
<path d="M1626.7 1187.0L1626.7 1247.7Q1626.7 1253.7 1632.7 1253.7L1646.7 1253.7Q1652.7 1253.7 1652.7 1247.7L1652.7 1187.0L1650.2 1187.0L1647.2 1227.6C1647.2 1242.8 1632.2 1242.8 1632.2 1227.6L1629.2 1187.0Z" fill="#000" opacity="0.9" filter="url(#f1_2)"/>
<rect x="1626.7" y="1237.0" width="26.0" height="16.7" rx="5" fill="#000" opacity="0.95" filter="url(#f1_6)"/>
<ellipse cx="1639.7" cy="1216.5" rx="9.0" ry="3.0" fill="#000" opacity="0.054" filter="url(#f2)"/>
<rect x="1629.7" y="1253.0" width="20.0" height="22.0" fill="url(#g123)" opacity="1" filter="url(#f3)"/>
<rect x="1665.0" y="1188.0" width="25.5" height="50.0" rx="3" fill="#000" opacity="0.04" filter="url(#f2)"/>
<path d="M1663.0 1187.0L1663.0 1247.7Q1663.0 1253.7 1669.0 1253.7L1686.5 1253.7Q1692.5 1253.7 1692.5 1247.7L1692.5 1187.0L1690.1 1187.0L1687.0 1226.8C1687.0 1241.7 1668.5 1241.7 1668.5 1226.8L1665.5 1187.0Z" fill="#000" opacity="1.0" filter="url(#f1_2)"/>
<rect x="1663.0" y="1236.0" width="29.5" height="17.7" rx="5" fill="#000" opacity="1.0" filter="url(#f1_6)"/>
<ellipse cx="1677.8" cy="1216.5" rx="10.8" ry="3.0" fill="#000" opacity="0.06" filter="url(#f2)"/>
<rect x="1666.0" y="1253.0" width="23.5" height="22.0" fill="url(#g124)" opacity="1" filter="url(#f3)"/>
</g>
<rect x="1200.5" y="1157.5" width="497.70000000000005" height="232.4000000000001" fill="none" stroke="#231f20" stroke-width="1.5"/>
<line x1="1201.5" y1="1159.5" x2="1697.2" y2="1159.5" stroke="#7aa07a" stroke-width="0.8" opacity="0.6"/>
<rect x="963" y="1396.7" width="224.5999999999999" height="382.70000000000005" fill="#030303"/>
<g clip-path="url(#c125)">
<path d="M1022.0 1405.0L1024.0 1406.0Q1025.0 1408.0 1028.0 1408.0L1040.0 1408.0Q1043.0 1408.0 1044.0 1406.0L1046.0 1405.0" fill="none" stroke="#888" stroke-width="1" opacity="0.35"/>
<path d="M1063.0 1405.0L1065.0 1406.0Q1066.0 1408.0 1069.0 1408.0L1081.0 1408.0Q1084.0 1408.0 1085.0 1406.0L1087.0 1405.0" fill="none" stroke="#888" stroke-width="1" opacity="0.35"/>
<path d="M1105.6 1405.0L1107.6 1406.0Q1108.6 1408.0 1111.6 1408.0L1123.6 1408.0Q1126.6 1408.0 1127.6 1406.0L1129.6 1405.0" fill="none" stroke="#888" stroke-width="1" opacity="0.35"/>
<path d="M1147.6 1405.0L1149.6 1406.0Q1150.6 1408.0 1153.6 1408.0L1165.6 1408.0Q1168.6 1408.0 1169.6 1406.0L1171.6 1405.0" fill="none" stroke="#888" stroke-width="1" opacity="0.35"/>
<rect x="1020.0" y="1440.0" width="28.0" height="36.0" fill="url(#g126)" opacity="1" filter="url(#f2)"/>
<ellipse cx="1034.0" cy="1448.7" rx="12.0" ry="2.0" fill="#ee2524" opacity="0.15" filter="url(#f1_6)"/>
<rect x="1021.0" y="1478.7" width="26.0" height="15.2" fill="#ee2524" opacity="0.30" filter="url(#f2_5)"/>
<path d="M1017.5 1473.0L1017.5 1501.4Q1017.5 1507.4 1023.5 1507.4L1044.5 1507.4Q1050.5 1507.4 1050.5 1501.4L1050.5 1473.0L1046.3 1473.0L1043.5 1487.8C1043.5 1493.4 1024.5 1493.4 1024.5 1487.8L1021.7 1473.0Z" fill="#ee2524" opacity="1" filter="url(#f1_6)"/>
<rect x="1019.0" y="1506.0" width="30.0" height="74.0" fill="url(#g127)" opacity="1" filter="url(#f3)"/>
<rect x="1061.0" y="1437.0" width="4.5" height="22.8" fill="url(#g128)" opacity="1" filter="url(#f1_2)"/>
<rect x="1084.5" y="1437.0" width="4.5" height="22.8" fill="url(#g128)" opacity="1" filter="url(#f1_2)"/>
<rect x="1061.0" y="1449.0" width="3.5" height="10.8" fill="url(#g129)" opacity="1" filter="url(#f1_2)"/>
<rect x="1085.5" y="1449.0" width="3.5" height="10.8" fill="url(#g129)" opacity="1" filter="url(#f1_2)"/>
<rect x="1061.0" y="1455.8" width="28.0" height="17.0" rx="3" fill="#ee2524" opacity="0.85" filter="url(#f2)"/>
<rect x="1062.0" y="1471.8" width="26.0" height="33.2" rx="3" fill="#ee2524" opacity="0.12249999999999998" filter="url(#f2_5)"/>
<rect x="1061.0" y="1470.8" width="4.0" height="34.2" fill="url(#g130)" opacity="1" filter="url(#f1_6)"/>
<rect x="1085.0" y="1470.8" width="4.0" height="34.2" fill="url(#g130)" opacity="1" filter="url(#f1_6)"/>
<rect x="1061.0" y="1496.0" width="28.0" height="10.0" rx="4" fill="#ee2524" opacity="0.315" filter="url(#f2)"/>
<rect x="1063.0" y="1505.0" width="24.0" height="260.0" fill="url(#g131)" opacity="1" filter="url(#f3)"/>
<rect x="1103.1" y="1434.6" width="4.5" height="29.8" fill="url(#g132)" opacity="1" filter="url(#f1_2)"/>
<rect x="1127.6" y="1434.6" width="4.5" height="29.8" fill="url(#g132)" opacity="1" filter="url(#f1_2)"/>
<rect x="1103.1" y="1446.6" width="3.5" height="17.8" fill="url(#g133)" opacity="1" filter="url(#f1_2)"/>
<rect x="1128.6" y="1446.6" width="3.5" height="17.8" fill="url(#g133)" opacity="1" filter="url(#f1_2)"/>
<rect x="1103.1" y="1460.4" width="29.0" height="17.0" rx="3" fill="#ee2524" opacity="0.95" filter="url(#f2)"/>
<rect x="1104.1" y="1476.4" width="27.0" height="28.6" rx="3" fill="#ee2524" opacity="0.1575" filter="url(#f2_5)"/>
<rect x="1103.1" y="1475.4" width="4.0" height="29.6" fill="url(#g134)" opacity="1" filter="url(#f1_6)"/>
<rect x="1128.1" y="1475.4" width="4.0" height="29.6" fill="url(#g134)" opacity="1" filter="url(#f1_6)"/>
<rect x="1103.1" y="1496.0" width="29.0" height="10.0" rx="4" fill="#ee2524" opacity="0.405" filter="url(#f2)"/>
<rect x="1105.1" y="1505.0" width="25.0" height="260.0" fill="url(#g135)" opacity="1" filter="url(#f3)"/>
<rect x="1144.3" y="1428.7" width="4.5" height="33.3" fill="url(#g136)" opacity="1" filter="url(#f1_2)"/>
<rect x="1170.4" y="1428.7" width="4.5" height="33.3" fill="url(#g136)" opacity="1" filter="url(#f1_2)"/>
<rect x="1144.3" y="1440.7" width="3.5" height="21.3" fill="url(#g137)" opacity="1" filter="url(#f1_2)"/>
<rect x="1171.4" y="1440.7" width="3.5" height="21.3" fill="url(#g137)" opacity="1" filter="url(#f1_2)"/>
<rect x="1144.3" y="1458.0" width="30.6" height="17.0" rx="3" fill="#ee2524" opacity="1" filter="url(#f2)"/>
<rect x="1145.3" y="1474.0" width="28.6" height="31.0" rx="3" fill="#ee2524" opacity="0.21" filter="url(#f2_5)"/>
<rect x="1144.3" y="1473.0" width="4.0" height="32.0" fill="url(#g138)" opacity="1" filter="url(#f1_6)"/>
<rect x="1170.9" y="1473.0" width="4.0" height="32.0" fill="url(#g138)" opacity="1" filter="url(#f1_6)"/>
<rect x="1144.3" y="1496.0" width="30.6" height="10.0" rx="4" fill="#ee2524" opacity="0.54" filter="url(#f2)"/>
<rect x="1146.3" y="1505.0" width="26.6" height="260.0" fill="url(#g139)" opacity="1" filter="url(#f3)"/>
<rect x="1147.0" y="1443.0" width="25.0" height="15.0" rx="3" fill="#6cc24a" opacity="0.8" filter="url(#f2_5)"/>
<rect x="1108.0" y="1447.0" width="20.0" height="8.0" rx="3" fill="#6cc24a" opacity="0.25" filter="url(#f2_5)"/>
<ellipse cx="1004.4" cy="1765.0" rx="13.5" ry="7.2" fill="#6cc24a" opacity="1" filter="url(#f1_2)"/>
<rect x="991.9" y="1730.0" width="25.0" height="30.7" fill="url(#g140)" opacity="1" filter="url(#f2_5)"/>
<ellipse cx="1037.0" cy="1765.3" rx="13.5" ry="7.6" fill="#6cc24a" opacity="1" filter="url(#f1_2)"/>
<rect x="1024.5" y="1730.0" width="25.0" height="30.7" fill="url(#g141)" opacity="1" filter="url(#f2_5)"/>
<ellipse cx="1075.3" cy="1766.2" rx="12.0" ry="4.9" fill="#6cc24a" opacity="1" filter="url(#f1_2)"/>
<rect x="1064.3" y="1730.0" width="22.0" height="34.3" fill="url(#g142)" opacity="1" filter="url(#f2_5)"/>
<ellipse cx="1118.6" cy="1766.0" rx="8.5" ry="3.0" fill="#6cc24a" opacity="0.75" filter="url(#f1_2)"/>
<rect x="1111.1" y="1730.0" width="15.0" height="36.0" fill="url(#g143)" opacity="1" filter="url(#f2_5)"/>
<ellipse cx="1158.0" cy="1766.0" rx="9.0" ry="2.5" fill="#6cc24a" opacity="0.3" filter="url(#f1_2)"/>
<rect x="1150.0" y="1730.0" width="16.0" height="36.5" fill="url(#g144)" opacity="1" filter="url(#f2_5)"/>
<rect x="1184.0" y="1455.0" width="6.0" height="48.0" rx="3" fill="#ee2524" opacity="0.25" filter="url(#f2)"/>
</g>
<rect x="1200.6" y="1396.7" width="498.0" height="374.29999999999995" fill="#030303"/>
<g clip-path="url(#c145)">
<path d="M1330.3 1417.0L1332.3 1418.0Q1333.3 1420.0 1336.3 1420.0L1349.3 1420.0Q1352.3 1420.0 1353.3 1418.0L1355.3 1417.0" fill="none" stroke="#888" stroke-width="1" opacity="0.3"/>
<rect x="1328.3" y="1421.0" width="4.0" height="49.0" fill="url(#g146)" opacity="1" filter="url(#f1_2)"/>
<rect x="1353.3" y="1421.0" width="4.0" height="49.0" fill="url(#g146)" opacity="1" filter="url(#f1_2)"/>
<rect x="1331.8" y="1463.5" width="22.0" height="4.0" fill="#ee2524" opacity="0.30" filter="url(#f2_5)"/>
<path d="M1328.3 1462.0L1328.3 1482.0Q1328.3 1488.0 1334.3 1488.0L1351.3 1488.0Q1357.3 1488.0 1357.3 1482.0L1357.3 1462.0L1353.1 1462.0L1350.3 1465.5C1350.3 1467.5 1335.3 1467.5 1335.3 1465.5L1332.5 1462.0Z" fill="#ee2524" opacity="1.0" filter="url(#f1_6)"/>
<path d="M1368.5 1417.0L1370.5 1418.0Q1371.5 1420.0 1374.5 1420.0L1387.5 1420.0Q1390.5 1420.0 1391.5 1418.0L1393.5 1417.0" fill="none" stroke="#888" stroke-width="1" opacity="0.3"/>
<rect x="1366.5" y="1421.0" width="4.0" height="49.0" fill="url(#g147)" opacity="1" filter="url(#f1_2)"/>
<rect x="1391.5" y="1421.0" width="4.0" height="49.0" fill="url(#g147)" opacity="1" filter="url(#f1_2)"/>
<rect x="1370.0" y="1463.5" width="22.0" height="4.0" fill="#ee2524" opacity="0.30" filter="url(#f2_5)"/>
<path d="M1366.5 1462.0L1366.5 1482.0Q1366.5 1488.0 1372.5 1488.0L1389.5 1488.0Q1395.5 1488.0 1395.5 1482.0L1395.5 1462.0L1391.3 1462.0L1388.5 1465.5C1388.5 1467.5 1373.5 1467.5 1373.5 1465.5L1370.7 1462.0Z" fill="#ee2524" opacity="1.0" filter="url(#f1_6)"/>
<path d="M1406.6 1417.0L1408.6 1418.0Q1409.6 1420.0 1412.6 1420.0L1422.6 1420.0Q1425.6 1420.0 1426.6 1418.0L1428.6 1417.0" fill="none" stroke="#888" stroke-width="1" opacity="0.3"/>
<rect x="1404.6" y="1421.0" width="4.0" height="49.0" fill="url(#g148)" opacity="1" filter="url(#f1_2)"/>
<rect x="1426.6" y="1421.0" width="4.0" height="49.0" fill="url(#g148)" opacity="1" filter="url(#f1_2)"/>
<rect x="1408.1" y="1463.5" width="19.0" height="4.0" fill="#ee2524" opacity="0.10" filter="url(#f2_5)"/>
<path d="M1404.6 1462.0L1404.6 1482.0Q1404.6 1488.0 1410.6 1488.0L1424.6 1488.0Q1430.6 1488.0 1430.6 1482.0L1430.6 1462.0L1426.4 1462.0L1423.6 1465.5C1423.6 1467.5 1411.6 1467.5 1411.6 1465.5L1408.8 1462.0Z" fill="#ee2524" opacity="0.35" filter="url(#f1_6)"/>
<rect x="1408.1" y="1447.7" width="19.0" height="4.4" fill="#6cc24a" opacity="0.10" filter="url(#f2)"/>
<path d="M1405.6 1446.0L1405.6 1453.0Q1405.6 1456.0 1408.6 1456.0L1426.6 1456.0Q1429.6 1456.0 1429.6 1453.0L1429.6 1446.0L1426.6 1446.0L1424.6 1450.0C1424.6 1452.0 1410.6 1452.0 1410.6 1450.0L1408.6 1446.0Z" fill="#6cc24a" opacity="0.35" filter="url(#f1_6)"/>
<rect x="1404.6" y="1423.0" width="3.5" height="47.0" fill="url(#g149)" opacity="1" filter="url(#f1_2)"/>
<rect x="1427.1" y="1423.0" width="3.5" height="47.0" fill="url(#g149)" opacity="1" filter="url(#f1_2)"/>
<rect x="1405.6" y="1488.0" width="24.0" height="252.0" fill="url(#g150)" opacity="1" filter="url(#f3)"/>
<rect x="1404.6" y="1488.0" width="3.0" height="254.0" fill="url(#g151)" opacity="1" filter="url(#f2)"/>
<rect x="1427.6" y="1488.0" width="3.0" height="254.0" fill="url(#g151)" opacity="1" filter="url(#f2)"/>
<path d="M1443.8 1417.0L1445.8 1418.0Q1446.8 1420.0 1449.8 1420.0L1459.8 1420.0Q1462.8 1420.0 1463.8 1418.0L1465.8 1417.0" fill="none" stroke="#888" stroke-width="1" opacity="0.3"/>
<rect x="1441.8" y="1421.0" width="4.0" height="49.0" fill="url(#g152)" opacity="1" filter="url(#f1_2)"/>
<rect x="1463.8" y="1421.0" width="4.0" height="49.0" fill="url(#g152)" opacity="1" filter="url(#f1_2)"/>
<rect x="1445.3" y="1463.5" width="19.0" height="4.0" fill="#ee2524" opacity="0.17" filter="url(#f2_5)"/>
<path d="M1441.8 1462.0L1441.8 1482.0Q1441.8 1488.0 1447.8 1488.0L1461.8 1488.0Q1467.8 1488.0 1467.8 1482.0L1467.8 1462.0L1463.6 1462.0L1460.8 1465.5C1460.8 1467.5 1448.8 1467.5 1448.8 1465.5L1446.0 1462.0Z" fill="#ee2524" opacity="0.55" filter="url(#f1_6)"/>
<rect x="1445.3" y="1447.7" width="19.0" height="4.4" fill="#6cc24a" opacity="0.22" filter="url(#f2)"/>
<path d="M1442.8 1446.0L1442.8 1453.0Q1442.8 1456.0 1445.8 1456.0L1463.8 1456.0Q1466.8 1456.0 1466.8 1453.0L1466.8 1446.0L1463.8 1446.0L1461.8 1450.0C1461.8 1452.0 1447.8 1452.0 1447.8 1450.0L1445.8 1446.0Z" fill="#6cc24a" opacity="0.75" filter="url(#f1_6)"/>
<rect x="1441.8" y="1423.0" width="3.5" height="47.0" fill="url(#g153)" opacity="1" filter="url(#f1_2)"/>
<rect x="1464.3" y="1423.0" width="3.5" height="47.0" fill="url(#g153)" opacity="1" filter="url(#f1_2)"/>
<rect x="1441.8" y="1425.0" width="3.0" height="47.0" fill="url(#g154)" opacity="1" filter="url(#f1_2)"/>
<rect x="1464.8" y="1425.0" width="3.0" height="47.0" fill="url(#g154)" opacity="1" filter="url(#f1_2)"/>
<rect x="1442.8" y="1488.0" width="24.0" height="252.0" fill="url(#g155)" opacity="1" filter="url(#f3)"/>
<rect x="1441.8" y="1488.0" width="3.0" height="254.0" fill="url(#g156)" opacity="1" filter="url(#f2)"/>
<rect x="1464.8" y="1488.0" width="3.0" height="254.0" fill="url(#g156)" opacity="1" filter="url(#f2)"/>
<path d="M1480.0 1417.0L1482.0 1418.0Q1483.0 1420.0 1486.0 1420.0L1497.0 1420.0Q1500.0 1420.0 1501.0 1418.0L1503.0 1417.0" fill="none" stroke="#888" stroke-width="1" opacity="0.3"/>
<rect x="1478.0" y="1421.0" width="4.0" height="49.0" fill="url(#g157)" opacity="1" filter="url(#f1_2)"/>
<rect x="1501.0" y="1421.0" width="4.0" height="49.0" fill="url(#g157)" opacity="1" filter="url(#f1_2)"/>
<rect x="1481.5" y="1463.5" width="20.0" height="4.0" fill="#ee2524" opacity="0.27" filter="url(#f2_5)"/>
<path d="M1478.0 1462.0L1478.0 1482.0Q1478.0 1488.0 1484.0 1488.0L1499.0 1488.0Q1505.0 1488.0 1505.0 1482.0L1505.0 1462.0L1500.8 1462.0L1498.0 1465.5C1498.0 1467.5 1485.0 1467.5 1485.0 1465.5L1482.2 1462.0Z" fill="#ee2524" opacity="0.9" filter="url(#f1_6)"/>
<rect x="1481.5" y="1447.7" width="20.0" height="4.4" fill="#6cc24a" opacity="0.30" filter="url(#f2)"/>
<path d="M1479.0 1446.0L1479.0 1453.0Q1479.0 1456.0 1482.0 1456.0L1501.0 1456.0Q1504.0 1456.0 1504.0 1453.0L1504.0 1446.0L1501.0 1446.0L1499.0 1450.0C1499.0 1452.0 1484.0 1452.0 1484.0 1450.0L1482.0 1446.0Z" fill="#6cc24a" opacity="1.0" filter="url(#f1_6)"/>
<rect x="1478.0" y="1423.0" width="3.5" height="47.0" fill="url(#g158)" opacity="1" filter="url(#f1_2)"/>
<rect x="1501.5" y="1423.0" width="3.5" height="47.0" fill="url(#g158)" opacity="1" filter="url(#f1_2)"/>
<rect x="1478.0" y="1425.0" width="3.0" height="47.0" fill="url(#g159)" opacity="1" filter="url(#f1_2)"/>
<rect x="1502.0" y="1425.0" width="3.0" height="47.0" fill="url(#g159)" opacity="1" filter="url(#f1_2)"/>
<rect x="1479.0" y="1488.0" width="25.0" height="252.0" fill="url(#g160)" opacity="1" filter="url(#f3)"/>
<rect x="1478.0" y="1488.0" width="3.0" height="254.0" fill="url(#g161)" opacity="1" filter="url(#f2)"/>
<rect x="1502.0" y="1488.0" width="3.0" height="254.0" fill="url(#g161)" opacity="1" filter="url(#f2)"/>
<path d="M1517.0 1417.0L1519.0 1418.0Q1520.0 1420.0 1523.0 1420.0L1535.0 1420.0Q1538.0 1420.0 1539.0 1418.0L1541.0 1417.0" fill="none" stroke="#888" stroke-width="1" opacity="0.3"/>
<rect x="1515.0" y="1421.0" width="4.0" height="49.0" fill="url(#g162)" opacity="1" filter="url(#f1_2)"/>
<rect x="1539.0" y="1421.0" width="4.0" height="49.0" fill="url(#g162)" opacity="1" filter="url(#f1_2)"/>
<rect x="1518.5" y="1463.5" width="21.0" height="4.0" fill="#ee2524" opacity="0.30" filter="url(#f2_5)"/>
<path d="M1515.0 1462.0L1515.0 1482.0Q1515.0 1488.0 1521.0 1488.0L1537.0 1488.0Q1543.0 1488.0 1543.0 1482.0L1543.0 1462.0L1538.8 1462.0L1536.0 1465.5C1536.0 1467.5 1522.0 1467.5 1522.0 1465.5L1519.2 1462.0Z" fill="#ee2524" opacity="1.0" filter="url(#f1_6)"/>
<rect x="1518.5" y="1447.7" width="21.0" height="4.4" fill="#6cc24a" opacity="0.30" filter="url(#f2)"/>
<path d="M1516.0 1446.0L1516.0 1453.0Q1516.0 1456.0 1519.0 1456.0L1539.0 1456.0Q1542.0 1456.0 1542.0 1453.0L1542.0 1446.0L1539.0 1446.0L1537.0 1450.0C1537.0 1452.0 1521.0 1452.0 1521.0 1450.0L1519.0 1446.0Z" fill="#6cc24a" opacity="1.0" filter="url(#f1_6)"/>
<rect x="1515.0" y="1423.0" width="3.5" height="47.0" fill="url(#g163)" opacity="1" filter="url(#f1_2)"/>
<rect x="1539.5" y="1423.0" width="3.5" height="47.0" fill="url(#g163)" opacity="1" filter="url(#f1_2)"/>
<rect x="1515.0" y="1425.0" width="3.0" height="47.0" fill="url(#g164)" opacity="1" filter="url(#f1_2)"/>
<rect x="1540.0" y="1425.0" width="3.0" height="47.0" fill="url(#g164)" opacity="1" filter="url(#f1_2)"/>
<rect x="1516.0" y="1488.0" width="26.0" height="252.0" fill="url(#g165)" opacity="1" filter="url(#f3)"/>
<rect x="1515.0" y="1488.0" width="3.0" height="254.0" fill="url(#g166)" opacity="1" filter="url(#f2)"/>
<rect x="1540.0" y="1488.0" width="3.0" height="254.0" fill="url(#g166)" opacity="1" filter="url(#f2)"/>
<path d="M1555.3 1417.0L1557.3 1418.0Q1558.3 1420.0 1561.3 1420.0L1571.3 1420.0Q1574.3 1420.0 1575.3 1418.0L1577.3 1417.0" fill="none" stroke="#888" stroke-width="1" opacity="0.3"/>
<rect x="1553.3" y="1421.0" width="4.0" height="49.0" fill="url(#g167)" opacity="1" filter="url(#f1_2)"/>
<rect x="1575.3" y="1421.0" width="4.0" height="49.0" fill="url(#g167)" opacity="1" filter="url(#f1_2)"/>
<rect x="1556.8" y="1463.5" width="19.0" height="4.0" fill="#ee2524" opacity="0.10" filter="url(#f2_5)"/>
<path d="M1553.3 1462.0L1553.3 1482.0Q1553.3 1488.0 1559.3 1488.0L1573.3 1488.0Q1579.3 1488.0 1579.3 1482.0L1579.3 1462.0L1575.1 1462.0L1572.3 1465.5C1572.3 1467.5 1560.3 1467.5 1560.3 1465.5L1557.5 1462.0Z" fill="#ee2524" opacity="0.35" filter="url(#f1_6)"/>
<path d="M1592.5 1417.0L1594.5 1418.0Q1595.5 1420.0 1598.5 1420.0L1608.5 1420.0Q1611.5 1420.0 1612.5 1418.0L1614.5 1417.0" fill="none" stroke="#888" stroke-width="1" opacity="0.3"/>
<rect x="1590.5" y="1421.0" width="4.0" height="49.0" fill="url(#g168)" opacity="1" filter="url(#f1_2)"/>
<rect x="1612.5" y="1421.0" width="4.0" height="49.0" fill="url(#g168)" opacity="1" filter="url(#f1_2)"/>
<rect x="1594.0" y="1463.5" width="19.0" height="4.0" fill="#ee2524" opacity="0.21" filter="url(#f2_5)"/>
<path d="M1590.5 1462.0L1590.5 1482.0Q1590.5 1488.0 1596.5 1488.0L1610.5 1488.0Q1616.5 1488.0 1616.5 1482.0L1616.5 1462.0L1612.3 1462.0L1609.5 1465.5C1609.5 1467.5 1597.5 1467.5 1597.5 1465.5L1594.7 1462.0Z" fill="#ee2524" opacity="0.7" filter="url(#f1_6)"/>
<path d="M1628.6 1417.0L1630.6 1418.0Q1631.6 1420.0 1634.6 1420.0L1646.6 1420.0Q1649.6 1420.0 1650.6 1418.0L1652.6 1417.0" fill="none" stroke="#888" stroke-width="1" opacity="0.3"/>
<rect x="1626.6" y="1421.0" width="4.0" height="49.0" fill="url(#g169)" opacity="1" filter="url(#f1_2)"/>
<rect x="1650.6" y="1421.0" width="4.0" height="49.0" fill="url(#g169)" opacity="1" filter="url(#f1_2)"/>
<rect x="1630.1" y="1463.5" width="21.0" height="4.0" fill="#ee2524" opacity="0.28" filter="url(#f2_5)"/>
<path d="M1626.6 1462.0L1626.6 1482.0Q1626.6 1488.0 1632.6 1488.0L1648.6 1488.0Q1654.6 1488.0 1654.6 1482.0L1654.6 1462.0L1650.4 1462.0L1647.6 1465.5C1647.6 1467.5 1633.6 1467.5 1633.6 1465.5L1630.8 1462.0Z" fill="#ee2524" opacity="0.95" filter="url(#f1_6)"/>
<path d="M1665.8 1417.0L1667.8 1418.0Q1668.8 1420.0 1671.8 1420.0L1685.8 1420.0Q1688.8 1420.0 1689.8 1418.0L1691.8 1417.0" fill="none" stroke="#888" stroke-width="1" opacity="0.3"/>
<rect x="1663.8" y="1421.0" width="4.0" height="49.0" fill="url(#g170)" opacity="1" filter="url(#f1_2)"/>
<rect x="1689.8" y="1421.0" width="4.0" height="49.0" fill="url(#g170)" opacity="1" filter="url(#f1_2)"/>
<rect x="1667.3" y="1463.5" width="23.0" height="4.0" fill="#ee2524" opacity="0.30" filter="url(#f2_5)"/>
<path d="M1663.8 1462.0L1663.8 1482.0Q1663.8 1488.0 1669.8 1488.0L1687.8 1488.0Q1693.8 1488.0 1693.8 1482.0L1693.8 1462.0L1689.6 1462.0L1686.8 1465.5C1686.8 1467.5 1670.8 1467.5 1670.8 1465.5L1668.0 1462.0Z" fill="#ee2524" opacity="1.0" filter="url(#f1_6)"/>
<ellipse cx="1342.8" cy="1449.0" rx="12.0" ry="2.5" fill="#ee2524" opacity="0.2" filter="url(#f1_6)"/>
<g transform="translate(6.5,624.5)">
<path d="M1206.8 1073Q1209 1115 1224 1131" fill="none" stroke="url(#g171)" stroke-width="3.2" filter="url(#f1_6)"/>
<path d="M1238.4 1077Q1242 1100 1245.5 1124" fill="none" stroke="url(#g171)" stroke-width="2.6" filter="url(#f1_6)"/>
<path d="M1254.8 1074Q1258 1105 1265.5 1125" fill="none" stroke="url(#g171)" stroke-width="3.4" filter="url(#f1_6)"/>
<path d="M1280.8 1084Q1284 1105 1288.5 1124" fill="none" stroke="url(#g171)" stroke-width="2.6" filter="url(#f1_6)"/>
<path d="M1292.5 1084Q1294 1105 1296 1121" fill="none" stroke="url(#g171)" stroke-width="2.6" filter="url(#f1_6)"/>
<path d="M1315 1084Q1316 1105 1318 1119" fill="none" stroke="url(#g171)" stroke-width="2.6" filter="url(#f1_6)"/>
<path d="M1221 1131Q1222 1127 1230 1127L1246 1123.5Q1248.5 1126 1244 1130.5Q1236 1138 1228.5 1141.5Q1221 1140 1221 1131Z" fill="#6cc24a" filter="url(#f1_2)"/>
<path d="M1261 1129Q1261.5 1123.5 1266 1123.3L1317.8 1119.5Q1321.5 1121 1320.5 1124.5Q1318 1128 1300 1133L1268 1136.8Q1261 1137 1261 1129Z" fill="#6cc24a" filter="url(#f1_2)"/>
</g>
<ellipse cx="1420.0" cy="1746.8" rx="14.2" ry="6.5" fill="#6cc24a" opacity="1" filter="url(#f1_2)"/>
<ellipse cx="1456.5" cy="1747.0" rx="12.2" ry="6.5" fill="#6cc24a" opacity="1" filter="url(#f1_2)"/>
<ellipse cx="1492.2" cy="1746.5" rx="11.6" ry="5.8" fill="#6cc24a" opacity="1" filter="url(#f1_2)"/>
<ellipse cx="1533.3" cy="1746.2" rx="10.3" ry="3.0" fill="#6cc24a" opacity="0.8" filter="url(#f1_2)"/>
<g transform="translate(6,625)">
<path d="M1548 1072Q1549 1105 1553 1119" fill="none" stroke="url(#g172)" stroke-width="2.6" filter="url(#f1_6)"/>
<path d="M1576 1080Q1576 1102 1574 1116" fill="none" stroke="url(#g172)" stroke-width="2.6" filter="url(#f1_6)"/>
<path d="M1581.5 1076Q1582 1105 1586 1119" fill="none" stroke="url(#g172)" stroke-width="2.6" filter="url(#f1_6)"/>
<path d="M1607.5 1082Q1607.5 1105 1607 1119" fill="none" stroke="url(#g172)" stroke-width="2.6" filter="url(#f1_6)"/>
<path d="M1610.5 1080Q1611 1105 1614 1122" fill="none" stroke="url(#g172)" stroke-width="2.6" filter="url(#f1_6)"/>
<path d="M1641.5 1080Q1641.5 1108 1640 1124" fill="none" stroke="url(#g172)" stroke-width="2.6" filter="url(#f1_6)"/>
<path d="M1645 1082Q1646 1108 1649 1125" fill="none" stroke="url(#g172)" stroke-width="2.6" filter="url(#f1_6)"/>
<path d="M1687 1064Q1685 1112 1668 1127" fill="none" stroke="url(#g172)" stroke-width="2.6" filter="url(#f1_6)"/>
<rect x="1550.5" y="1115.1" width="24.0" height="12.8" rx="6.4" fill="#6cc24a" transform="rotate(0 1562.5 1121.5)" filter="url(#f1_2)"/>
<rect x="1582.6" y="1116.4" width="24.0" height="12.8" rx="6.4" fill="#6cc24a" transform="rotate(4 1594.6 1122.8)" filter="url(#f1_2)"/>
<rect x="1607.6" y="1119.5" width="32.0" height="12.6" rx="6.3" fill="#6cc24a" transform="rotate(8 1623.6 1125.8)" filter="url(#f1_2)"/>
<rect x="1645.4" y="1121.5" width="23.0" height="13.6" rx="6.8" fill="#6cc24a" transform="rotate(10 1656.9 1128.3)" filter="url(#f1_2)"/>
</g>
</g>
<text x="12.97" y="64.60" font-size="75.00" textLength="38.33" lengthAdjust="spacingAndGlyphs">a</text>
<text x="908.34" y="56.30" font-size="40.63">Cac1</text>
<text x="70.77" y="118.90" font-size="35.75">PIP</text>
<text x="451.27" y="125.00" font-size="35.69">KER</text>
<text x="554.17" y="118.80" font-size="35.68">PIP</text>
<text x="683.98" y="118.00" font-size="35.83">Cac3 binding</text>
<text x="992.77" y="123.70" font-size="35.94">acidic</text>
<text x="1104.99" y="125.30" font-size="35.63">Cac2 binding</text>
<text x="1418.14" y="125.30" font-size="35.32">WHD</text>
<text x="27.34" y="152.70" font-size="25.00" textLength="9.93" lengthAdjust="spacingAndGlyphs">1</text>
<text x="515.90" y="205.70" font-size="29.73">233</text>
<text x="515.90" y="253.80" font-size="29.73">233</text>
<text x="515.90" y="303.20" font-size="29.73">233</text>
<text x="514.90" y="453.50" font-size="29.73">233</text>
<text x="514.90" y="504.50" font-size="29.73">233</text>
<text x="514.90" y="555.00" font-size="29.73">233</text>
<text x="943.39" y="358.40" font-size="29.22">380</text>
<text x="1313.53" y="358.40" font-size="29.22">483</text>
<text x="1313.53" y="558.10" font-size="29.22">483</text>
<text x="1321.92" y="400.70" font-size="29.45">520</text>
<text x="1455.92" y="507.00" font-size="29.50">555</text>
<text x="1547.13" y="152.60" font-size="27.01">606</text>
<text x="1547.47" y="205.30" font-size="30.18">606</text>
<text x="1547.47" y="253.50" font-size="30.18">606</text>
<text x="1547.47" y="301.60" font-size="30.18">606</text>
<text x="1545.47" y="400.70" font-size="30.06">606</text>
<text x="1545.17" y="454.00" font-size="30.06">606</text>
<text x="1857.58" y="68.30" font-size="30.61" font-weight="bold">name of</text>
<text x="1827.63" y="104.80" font-size="30.26" font-weight="bold">the complex</text>
<text x="1607.81" y="156.50" font-size="34.60">+Cac2+Cac3</text>
<text x="1824.45" y="156.50" font-size="36.00">FL CAF-1</text>
<text x="1607.81" y="205.30" font-size="34.60">+Cac2+Cac3</text>
<text x="1826.87" y="205.30" font-size="36.00" textLength="111.86" lengthAdjust="spacingAndGlyphs">tCAF-1</text>
<text x="1607.81" y="255.00" font-size="34.60">+Cac2+Cac3</text>
<text x="1826.86" y="255.00" font-size="36.00">tCAF_Δac</text>
<text x="1607.81" y="307.00" font-size="34.60">+Cac2+Cac3</text>
<text x="1826.86" y="307.00" font-size="36.00">tCAF_Nac</text>
<text x="1824.33" y="359.00" font-size="36.00" textLength="83.14" lengthAdjust="spacingAndGlyphs">HBM</text>
<text x="1824.24" y="406.00" font-size="36.00">WHD</text>
<text x="1605.31" y="453.00" font-size="34.60">+Cac2+Cac3</text>
<text x="1826.86" y="453.00" font-size="36.00">tCAF-1_WHD**</text>
<text x="1606.71" y="504.00" font-size="34.60">+Cac2+Cac3</text>
<text x="1826.86" y="504.00" font-size="36.00">tCAF-1_ΔWHDa</text>
<text x="1606.71" y="555.00" font-size="34.60">+Cac2+Cac3</text>
<text x="1826.86" y="555.00" font-size="36.00">tCAF-1_ΔWHDb</text>
<text x="1607.81" y="359.00" font-size="34.60">+Cac2</text>
<text x="52.90" y="656.00" font-size="74.00" textLength="44.03" lengthAdjust="spacingAndGlyphs">b</text>
<text x="0" y="0" font-size="37" transform="translate(119.15,764.95) rotate(-45)">DNA only</text>
<text x="0" y="0" font-size="37" transform="translate(212.60,736.89) rotate(-45)">tCAF-1</text>
<text x="0" y="0" font-size="37" transform="translate(337.90,742.69) rotate(-45)">tCAF_Δac</text>
<text x="0" y="0" font-size="37" transform="translate(456.30,742.29) rotate(-45)">tCAF_Nac</text>
<text x="0" y="0" font-size="37" transform="translate(615.58,743.42) rotate(-45)">WHD</text>
<path d="M142 753.8L252.7 737.6L252.7 753.8Z" fill="#fff" stroke="#7f7f7f" stroke-width="1.5" stroke-linejoin="miter"/>
<path d="M277.5 753.8L388 737.6L388 753.8Z" fill="#fff" stroke="#7f7f7f" stroke-width="1.5" stroke-linejoin="miter"/>
<path d="M394.5 753.8L504.5 737.6L504.5 753.8Z" fill="#fff" stroke="#7f7f7f" stroke-width="1.5" stroke-linejoin="miter"/>
<path d="M551.5 753.8L671.2 737.6L671.2 753.8Z" fill="#fff" stroke="#7f7f7f" stroke-width="1.5" stroke-linejoin="miter"/>
<text x="685.88" y="810.00" font-size="32.37" font-style="italic">647-33mer</text>
<rect x="681.6" y="774.7" width="170.4" height="46" fill="none" stroke="#6d6e71" stroke-width="1.3"/>
<text x="686.08" y="1124.60" font-size="32.07">33DNA</text>
<text x="112.75" y="1201.00" font-size="30.00">1</text>
<text x="152.66" y="1201.00" font-size="30.00">2</text>
<text x="192.75" y="1201.00" font-size="30.00">3</text>
<text x="233.75" y="1201.00" font-size="30.00">4</text>
<text x="282.69" y="1201.00" font-size="30.00">5</text>
<text x="322.56" y="1201.00" font-size="30.00">6</text>
<text x="371.64" y="1201.00" font-size="30.00">7</text>
<text x="411.66" y="1201.00" font-size="30.00">8</text>
<text x="453.27" y="1201.00" font-size="30.00">9</text>
<text x="485.76" y="1201.00" font-size="30.00">10</text>
<text x="532.91" y="1201.00" font-size="30.00">11</text>
<text x="572.53" y="1201.00" font-size="30.00">12</text>
<text x="612.43" y="1201.00" font-size="30.00">13</text>
<text x="652.61" y="1201.00" font-size="30.00">14</text>
<text x="52.82" y="1244.40" font-size="75.00" textLength="39.78" lengthAdjust="spacingAndGlyphs">c</text>
<path d="M92.3 1263.3h17.4v3.0h-17.4zM99.5 1256.4h3.0v16.8h-3.0z" fill="#231f20"/>
<path d="M132.6 1263.3h17.4v3.0h-17.4zM139.8 1256.4h3.0v16.8h-3.0z" fill="#231f20"/>
<path d="M173.1 1263.3h17.4v3.0h-17.4zM180.3 1256.4h3.0v16.8h-3.0z" fill="#231f20"/>
<path d="M213.5 1263.3h17.4v3.0h-17.4zM220.7 1256.4h3.0v16.8h-3.0z" fill="#231f20"/>
<path d="M264.1 1263.3h17.4v3.0h-17.4zM271.3 1256.4h3.0v16.8h-3.0z" fill="#231f20"/>
<path d="M304.6 1263.3h17.4v3.0h-17.4zM311.8 1256.4h3.0v16.8h-3.0z" fill="#231f20"/>
<path d="M345.7 1263.3h17.4v3.0h-17.4zM352.9 1256.4h3.0v16.8h-3.0z" fill="#231f20"/>
<path d="M386.1 1263.3h17.4v3.0h-17.4zM393.3 1256.4h3.0v16.8h-3.0z" fill="#231f20"/>
<path d="M426.8 1263.3h17.4v3.0h-17.4zM434.0 1256.4h3.0v16.8h-3.0z" fill="#231f20"/>
<path d="M467.5 1263.3h17.4v3.0h-17.4zM474.7 1256.4h3.0v16.8h-3.0z" fill="#231f20"/>
<path d="M518.0 1263.3h17.4v3.0h-17.4zM525.2 1256.4h3.0v16.8h-3.0z" fill="#231f20"/>
<path d="M558.5 1263.3h17.4v3.0h-17.4zM565.7 1256.4h3.0v16.8h-3.0z" fill="#231f20"/>
<path d="M599.2 1263.3h17.4v3.0h-17.4zM606.4 1256.4h3.0v16.8h-3.0z" fill="#231f20"/>
<path d="M649.7 1263.3h17.4v3.0h-17.4zM656.9 1256.4h3.0v16.8h-3.0z" fill="#231f20"/>
<rect x="100.5" y="1300.4" width="10.4" height="3.0" fill="#231f20"/>
<path d="M133.6 1296.9h17.4v3.0h-17.4zM140.8 1290.0h3.0v16.8h-3.0z" fill="#231f20"/>
<rect x="183.1" y="1300.4" width="10.4" height="3.0" fill="#231f20"/>
<rect x="214.6" y="1300.4" width="10.4" height="3.0" fill="#231f20"/>
<path d="M267.2 1296.9h17.4v3.0h-17.4zM274.4 1290.0h3.0v16.8h-3.0z" fill="#231f20"/>
<path d="M307.7 1296.9h17.4v3.0h-17.4zM314.9 1290.0h3.0v16.8h-3.0z" fill="#231f20"/>
<path d="M348.1 1296.9h17.4v3.0h-17.4zM355.3 1290.0h3.0v16.8h-3.0z" fill="#231f20"/>
<path d="M389.2 1296.9h17.4v3.0h-17.4zM396.4 1290.0h3.0v16.8h-3.0z" fill="#231f20"/>
<path d="M429.9 1296.9h17.4v3.0h-17.4zM437.1 1290.0h3.0v16.8h-3.0z" fill="#231f20"/>
<path d="M470.0 1296.9h17.4v3.0h-17.4zM477.2 1290.0h3.0v16.8h-3.0z" fill="#231f20"/>
<path d="M520.9 1296.9h17.4v3.0h-17.4zM528.1 1290.0h3.0v16.8h-3.0z" fill="#231f20"/>
<path d="M561.0 1296.9h17.4v3.0h-17.4zM568.2 1290.0h3.0v16.8h-3.0z" fill="#231f20"/>
<path d="M601.5 1296.9h17.4v3.0h-17.4zM608.7 1290.0h3.0v16.8h-3.0z" fill="#231f20"/>
<path d="M652.0 1296.9h17.4v3.0h-17.4zM659.2 1290.0h3.0v16.8h-3.0z" fill="#231f20"/>
<rect x="100.5" y="1329.9" width="10.4" height="3.0" fill="#231f20"/>
<rect x="132.4" y="1329.9" width="10.4" height="3.0" fill="#231f20"/>
<path d="M175.1 1326.5h17.4v3.0h-17.4zM182.3 1319.6h3.0v16.8h-3.0z" fill="#231f20"/>
<rect x="214.6" y="1329.9" width="10.4" height="3.0" fill="#231f20"/>
<rect x="474.5" y="1329.9" width="10.4" height="3.0" fill="#231f20"/>
<rect x="526.0" y="1329.9" width="10.4" height="3.0" fill="#231f20"/>
<rect x="567.4" y="1329.9" width="10.4" height="3.0" fill="#231f20"/>
<rect x="608.9" y="1329.9" width="10.4" height="3.0" fill="#231f20"/>
<rect x="660.0" y="1329.9" width="10.4" height="3.0" fill="#231f20"/>
<rect x="100.5" y="1363.8" width="10.4" height="3.0" fill="#231f20"/>
<rect x="132.4" y="1363.8" width="10.4" height="3.0" fill="#231f20"/>
<rect x="174.5" y="1363.8" width="10.4" height="3.0" fill="#231f20"/>
<path d="M207.0 1360.5h17.4v3.0h-17.4zM214.2 1353.6h3.0v16.8h-3.0z" fill="#231f20"/>
<rect x="266.4" y="1363.8" width="10.4" height="3.0" fill="#231f20"/>
<rect x="307.7" y="1363.8" width="10.4" height="3.0" fill="#231f20"/>
<rect x="349.2" y="1363.8" width="10.4" height="3.0" fill="#231f20"/>
<rect x="390.7" y="1363.8" width="10.4" height="3.0" fill="#231f20"/>
<rect x="432.4" y="1363.8" width="10.4" height="3.0" fill="#231f20"/>
<path d="M252.7 1337.5L456.2 1321.5L456.2 1337.5Z" fill="#fff" stroke="#231f20" stroke-width="1.6" stroke-linejoin="miter"/>
<path d="M467.9 1369.5L672.8 1353.9L672.8 1369.5Z" fill="#fff" stroke="#231f20" stroke-width="1.6" stroke-linejoin="miter"/>
<text x="688.73" y="1275.60" font-size="33.33">33DNA</text>
<text x="690.86" y="1309.50" font-size="32.71">WHD</text>
<text x="689.23" y="1343.70" font-size="33.77">HBM</text>
<text x="689.32" y="1378.00" font-size="33.04">Cac2</text>
<rect x="690.6" y="1395.3" width="179" height="42.7" fill="none" stroke="#6d6e71" stroke-width="1.3"/>
<text x="694.20" y="1428.00" font-size="32.06" font-style="italic">647-33DNA</text>
<text x="700.56" y="1533.60" font-size="30.83">WHD•DNA</text>
<text x="699.38" y="1570.60" font-size="31.12">complexes</text>
<rect x="693.2" y="1494" width="1.6" height="92.6" fill="#231f20"/>
<text x="687.78" y="1681.00" font-size="32.04">33DNA</text>
<text x="91.25" y="1823.30" font-size="30.00">1</text>
<text x="131.66" y="1823.30" font-size="30.00">2</text>
<text x="172.75" y="1823.30" font-size="30.00">3</text>
<text x="212.75" y="1823.30" font-size="30.00">4</text>
<text x="254.29" y="1823.30" font-size="30.00">5</text>
<text x="294.26" y="1823.30" font-size="30.00">6</text>
<text x="334.64" y="1823.30" font-size="30.00">7</text>
<text x="375.66" y="1823.30" font-size="30.00">8</text>
<text x="415.67" y="1823.30" font-size="30.00">9</text>
<text x="463.76" y="1823.30" font-size="30.00">10</text>
<text x="511.51" y="1823.30" font-size="30.00">11</text>
<text x="559.63" y="1823.30" font-size="30.00">12</text>
<text x="608.43" y="1823.30" font-size="30.00">13</text>
<text x="648.41" y="1823.30" font-size="30.00">14</text>
<text x="917.20" y="658.50" font-size="75.00" textLength="43.66" lengthAdjust="spacingAndGlyphs">d</text>
<path d="M1011.7 667.4h17.4v3.0h-17.4zM1018.9 660.5h3.0v16.8h-3.0z" fill="#231f20"/>
<path d="M1042.1 667.4h17.4v3.0h-17.4zM1049.3 660.5h3.0v16.8h-3.0z" fill="#231f20"/>
<path d="M1083.2 667.4h17.4v3.0h-17.4zM1090.4 660.5h3.0v16.8h-3.0z" fill="#231f20"/>
<path d="M1123.7 667.4h17.4v3.0h-17.4zM1130.9 660.5h3.0v16.8h-3.0z" fill="#231f20"/>
<path d="M1154.2 667.4h17.4v3.0h-17.4zM1161.4 660.5h3.0v16.8h-3.0z" fill="#231f20"/>
<path d="M1223.7 667.4h17.4v3.0h-17.4zM1230.9 660.5h3.0v16.8h-3.0z" fill="#231f20"/>
<path d="M1254.8 667.4h17.4v3.0h-17.4zM1262.0 660.5h3.0v16.8h-3.0z" fill="#231f20"/>
<path d="M1285.1 667.4h17.4v3.0h-17.4zM1292.3 660.5h3.0v16.8h-3.0z" fill="#231f20"/>
<path d="M1399.6 667.4h17.4v3.0h-17.4zM1406.8 660.5h3.0v16.8h-3.0z" fill="#231f20"/>
<path d="M1439.3 667.4h17.4v3.0h-17.4zM1446.5 660.5h3.0v16.8h-3.0z" fill="#231f20"/>
<path d="M1480.3 667.4h17.4v3.0h-17.4zM1487.5 660.5h3.0v16.8h-3.0z" fill="#231f20"/>
<path d="M1520.3 667.4h17.4v3.0h-17.4zM1527.5 660.5h3.0v16.8h-3.0z" fill="#231f20"/>
<path d="M1561.3 667.4h17.4v3.0h-17.4zM1568.5 660.5h3.0v16.8h-3.0z" fill="#231f20"/>
<path d="M1601.9 667.4h17.4v3.0h-17.4zM1609.1 660.5h3.0v16.8h-3.0z" fill="#231f20"/>
<path d="M1643.0 667.4h17.4v3.0h-17.4zM1650.2 660.5h3.0v16.8h-3.0z" fill="#231f20"/>
<path d="M1673.7 667.4h17.4v3.0h-17.4zM1680.9 660.5h3.0v16.8h-3.0z" fill="#231f20"/>
<rect x="1324.8" y="670.1" width="10.4" height="3.0" fill="#231f20"/>
<rect x="1356.7" y="670.1" width="10.4" height="3.0" fill="#231f20"/>
<rect x="1010.9" y="698.7" width="10.4" height="3.0" fill="#231f20"/>
<rect x="1042.6" y="698.7" width="10.4" height="3.0" fill="#231f20"/>
<rect x="1223.3" y="698.7" width="10.4" height="3.0" fill="#231f20"/>
<rect x="1255.2" y="698.7" width="10.4" height="3.0" fill="#231f20"/>
<rect x="1296.6" y="698.7" width="10.4" height="3.0" fill="#231f20"/>
<path d="M1329.2 694.8h17.4v3.0h-17.4zM1336.4 687.9h3.0v16.8h-3.0z" fill="#231f20"/>
<path d="M1360.1 694.8h17.4v3.0h-17.4zM1367.3 687.9h3.0v16.8h-3.0z" fill="#231f20"/>
<rect x="1010.9" y="734.5" width="10.4" height="3.0" fill="#231f20"/>
<rect x="1223.3" y="734.5" width="10.4" height="3.0" fill="#231f20"/>
<rect x="1295.7" y="734.5" width="10.4" height="3.0" fill="#231f20"/>
<rect x="1367.5" y="734.5" width="10.4" height="3.0" fill="#231f20"/>
<rect x="1567.6" y="734.5" width="10.4" height="3.0" fill="#231f20"/>
<rect x="1608.3" y="734.5" width="10.4" height="3.0" fill="#231f20"/>
<rect x="1650.8" y="734.5" width="10.4" height="3.0" fill="#231f20"/>
<rect x="1682.5" y="734.5" width="10.4" height="3.0" fill="#231f20"/>
<path d="M1043.6 731.5h17.4v3.0h-17.4zM1050.8 724.6h3.0v16.8h-3.0z" fill="#231f20"/>
<path d="M1256.3 731.5h17.4v3.0h-17.4zM1263.5 724.6h3.0v16.8h-3.0z" fill="#231f20"/>
<path d="M1328.4 731.5h17.4v3.0h-17.4zM1335.6 724.6h3.0v16.8h-3.0z" fill="#231f20"/>
<rect x="1010.9" y="768.7" width="10.4" height="3.0" fill="#231f20"/>
<rect x="1042.2" y="768.7" width="10.4" height="3.0" fill="#231f20"/>
<rect x="1083.7" y="768.7" width="10.4" height="3.0" fill="#231f20"/>
<rect x="1125.4" y="768.7" width="10.4" height="3.0" fill="#231f20"/>
<rect x="1157.1" y="768.7" width="10.4" height="3.0" fill="#231f20"/>
<rect x="1222.7" y="768.7" width="10.4" height="3.0" fill="#231f20"/>
<rect x="1254.4" y="768.7" width="10.4" height="3.0" fill="#231f20"/>
<rect x="1326.8" y="768.7" width="10.4" height="3.0" fill="#231f20"/>
<rect x="1408.4" y="768.7" width="10.4" height="3.0" fill="#231f20"/>
<rect x="1449.8" y="768.7" width="10.4" height="3.0" fill="#231f20"/>
<rect x="1480.8" y="768.7" width="10.4" height="3.0" fill="#231f20"/>
<rect x="1513.5" y="768.7" width="10.4" height="3.0" fill="#231f20"/>
<path d="M1287.3 765.8h17.4v3.0h-17.4zM1294.5 758.9h3.0v16.8h-3.0z" fill="#231f20"/>
<path d="M1359.5 765.8h17.4v3.0h-17.4zM1366.7 758.9h3.0v16.8h-3.0z" fill="#231f20"/>
<path d="M1067.4 710L1184.8 694.3L1184.8 710Z" fill="#fff" stroke="#231f20" stroke-width="1.6" stroke-linejoin="miter"/>
<path d="M1067.4 743.8L1184.8 728.8L1184.8 743.8Z" fill="#fff" stroke="#231f20" stroke-width="1.6" stroke-linejoin="miter"/>
<path d="M1401 709.6L1543.8 693.7L1543.8 709.6Z" fill="#fff" stroke="#231f20" stroke-width="1.6" stroke-linejoin="miter"/>
<path d="M1555 709.6L1697.3 693.7L1697.3 709.6Z" fill="#fff" stroke="#231f20" stroke-width="1.6" stroke-linejoin="miter"/>
<path d="M1401 741.4L1543.8 725.5L1543.8 741.4Z" fill="#fff" stroke="#231f20" stroke-width="1.6" stroke-linejoin="miter"/>
<path d="M1555 773L1697.3 758L1697.3 773Z" fill="#fff" stroke="#231f20" stroke-width="1.6" stroke-linejoin="miter"/>
<text x="1711.58" y="677.80" font-size="31.79">18DNA</text>
<text x="1713.86" y="711.00" font-size="31.29">WTH3-H4</text>
<text x="1713.53" y="746.00" font-size="31.26">tCAF-1</text>
<text x="1713.52" y="778.60" font-size="31.66">tCAF_WHD**</text>
<rect x="1703.7" y="790" width="148.3" height="34.6" fill="none" stroke="#1f7a4a" stroke-width="1.4"/>
<text x="1706.44" y="817.50" font-size="27.76" font-style="italic">647-18mer</text>
<line x1="1701" y1="828" x2="1715" y2="845" stroke="#231f20" stroke-width="2.2"/>
<text x="1721.56" y="855.70" font-size="28.81">tCAF-1•H3-H4•DNA</text>
<text x="1705.30" y="1143.80" font-size="28.87">18DNA</text>
<rect x="1704.6" y="1157.9" width="275" height="35.3" fill="none" stroke="#e0262b" stroke-width="1.6"/>
<text x="1715.42" y="1184.20" font-size="27.73" font-style="italic">488-H3H4 or tCAF-1</text>
<text x="1729.56" y="1226.80" font-size="29.00">tCAF-1•H3-H4•DNA</text>
<rect x="1707.5" y="1218.6" width="14" height="2.6" fill="#231f20"/>
<text x="1729.56" y="1251.60" font-size="29.00">tCAF-1•H3-H4</text>
<rect x="1707.5" y="1243.4" width="14" height="2.6" fill="#231f20"/>
<text x="1729.58" y="1279.60" font-size="29.00" textLength="87.77" lengthAdjust="spacingAndGlyphs">tCAF-1</text>
<rect x="1707.5" y="1271.4" width="14" height="2.6" fill="#231f20"/>
<rect x="1704.6" y="1401" width="95.4" height="34" fill="none" stroke="#231f20" stroke-width="1.4"/>
<text x="1713.84" y="1422.00" font-size="27.58" font-style="italic">merge</text>
<text x="1729.56" y="1459.70" font-size="29.00">tCAF-1•H3-H4•DNA</text>
<rect x="1707.5" y="1451.5" width="14" height="2.6" fill="#231f20"/>
<text x="1729.56" y="1485.20" font-size="29.00">tCAF-1•H3-H4</text>
<rect x="1707.5" y="1477.0" width="14" height="2.6" fill="#231f20"/>
<text x="1729.58" y="1513.20" font-size="29.00" textLength="87.77" lengthAdjust="spacingAndGlyphs">tCAF-1</text>
<rect x="1707.5" y="1505.0" width="14" height="2.6" fill="#231f20"/>
<text x="1707.30" y="1767.70" font-size="28.93">18DNA</text>
<text x="993.95" y="1805.30" font-size="30.00">1</text>
<text x="1033.96" y="1805.30" font-size="30.00">2</text>
<text x="1074.35" y="1805.30" font-size="30.00">3</text>
<text x="1115.05" y="1805.30" font-size="30.00">4</text>
<text x="1156.39" y="1805.30" font-size="30.00">5</text>
<text x="1220.36" y="1805.30" font-size="30.00">6</text>
<text x="1259.94" y="1805.30" font-size="30.00">7</text>
<text x="1293.86" y="1805.30" font-size="30.00">8</text>
<text x="1333.47" y="1805.30" font-size="30.00">9</text>
<text x="1358.46" y="1805.30" font-size="30.00">10</text>
<text x="1396.31" y="1805.30" font-size="30.00">11</text>
<text x="1437.73" y="1805.30" font-size="30.00">12</text>
<text x="1477.83" y="1805.30" font-size="30.00">13</text>
<text x="1518.41" y="1805.30" font-size="30.00">14</text>
<text x="1558.20" y="1805.30" font-size="30.00">15</text>
<text x="1599.63" y="1805.30" font-size="30.00">16</text>
<text x="1639.23" y="1805.30" font-size="30.00">17</text>
<text x="1680.62" y="1805.30" font-size="30.00">18</text>
<text x="1013.35" y="1837.00" font-size="28.45" fill="#e0262b">488-tCAF-1</text>
<text x="1397.64" y="1837.00" font-size="28.87" fill="#e0262b">488-WTH3-H4</text>
</svg>
</body></html>
